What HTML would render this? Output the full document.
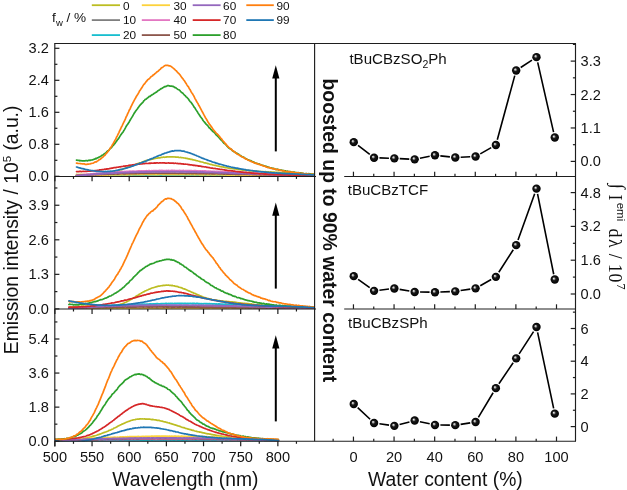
<!DOCTYPE html>
<html><head><meta charset="utf-8"><style>
html,body{margin:0;padding:0;background:#fff;width:627px;height:490px;overflow:hidden}
svg{display:block;will-change:transform}
text{fill:#111}
</style></head><body>
<svg width="627" height="490" viewBox="0 0 627 490">
<defs><radialGradient id="ball" cx="0.5" cy="0.5" r="0.5" fx="0.36" fy="0.36"><stop offset="0" stop-color="#f4f4f4"/><stop offset="0.16" stop-color="#b8b8b8"/><stop offset="0.42" stop-color="#1a1a1a"/><stop offset="1" stop-color="#000"/></radialGradient><clipPath id="cl1"><rect x="55" y="43" width="259.6" height="133.6"/></clipPath><clipPath id="cl2"><rect x="55" y="176" width="259.6" height="133"/></clipPath><clipPath id="cl3"><rect x="55" y="308" width="259.6" height="133.4"/></clipPath></defs>
<rect width="627" height="490" fill="#fff"/>
<g clip-path="url(#cl1)">
<path d="M76.5,174.48 77.3,174.59 78.1,174.54 78.9,174.62 79.7,174.64 80.5,174.47 81.3,174.46 82.1,174.7 82.9,174.53 83.7,174.51 84.5,174.73 85.3,174.57 86.1,174.66 86.9,174.54 87.7,174.57 88.5,174.4 89.3,174.51 90.1,174.55 90.9,174.42 91.7,174.44 92.5,174.38 93.3,174.16 94.1,174.32 94.9,174.21 95.7,174.07 96.5,173.93 97.3,174.11 98.1,173.92 98.9,173.92 99.7,173.89 100.5,173.76 101.3,173.73 102.1,173.48 102.9,173.5 103.7,173.29 104.5,173.33 105.3,173.19 106.1,172.84 106.9,172.73 107.7,172.62 108.5,172.7 109.3,172.4 110.1,172.31 110.9,172.06 111.7,171.96 112.5,171.75 113.3,171.56 114.1,171.45 114.9,171.26 115.7,171.17 116.5,170.9 117.3,170.76 118.1,170.52 118.9,170.34 119.7,170.02 120.5,169.63 121.3,169.59 122.1,169.38 122.9,169.1 123.7,168.74 124.5,168.52 125.3,168.1 126.1,168.01 126.9,167.66 127.7,167.29 128.5,166.93 129.3,166.88 130.1,166.63 130.9,166.06 131.7,165.98 132.5,165.57 133.3,165.19 134.1,164.93 134.9,164.77 135.7,164.51 136.5,163.96 137.3,163.83 138.1,163.37 138.9,163.28 139.7,162.87 140.5,162.75 141.3,162.5 142.1,162.08 142.9,161.95 143.7,161.47 144.5,161.14 145.3,161.04 146.1,160.62 146.9,160.43 147.7,160.25 148.5,160.09 149.3,159.73 150.1,159.48 150.9,159.53 151.7,159.16 152.5,159.17 153.3,158.97 154.1,158.64 154.9,158.5 155.7,158.36 156.5,158.25 157.3,158.09 158.1,157.95 158.9,157.84 159.7,157.82 160.5,157.58 161.3,157.46 162.1,157.45 162.9,157.22 163.7,157.16 164.5,157.3 165.3,157.1 166.1,157.06 166.9,156.85 167.7,156.93 168.5,156.96 169.3,156.77 170.1,156.93 170.9,156.93 171.7,156.77 172.5,156.95 173.3,156.92 174.1,157.01 174.9,156.95 175.7,157.1 176.5,157.17 177.3,157.01 178.1,157.09 178.9,157.36 179.7,157.53 180.5,157.41 181.3,157.57 182.1,157.72 182.9,157.76 183.7,157.9 184.5,158.01 185.3,158.17 186.1,158.38 186.9,158.44 187.7,158.62 188.5,158.9 189.3,158.84 190.1,159.17 190.9,159.4 191.7,159.45 192.5,159.61 193.3,159.97 194.1,159.99 194.9,160.17 195.7,160.44 196.5,160.72 197.3,160.74 198.1,161.01 198.9,161.22 199.7,161.58 200.5,161.67 201.3,162.01 202.1,162.01 202.9,162.27 203.7,162.58 204.5,162.86 205.3,162.94 206.1,163.09 206.9,163.26 207.7,163.59 208.5,163.7 209.3,164.09 210.1,164.3 210.9,164.31 211.7,164.54 212.5,164.89 213.3,165.03 214.1,165.27 214.9,165.32 215.7,165.44 216.5,165.67 217.3,165.99 218.1,166.01 218.9,166.2 219.7,166.39 220.5,166.55 221.3,166.7 222.1,167.01 222.9,166.94 223.7,167.04 224.5,167.47 225.3,167.6 226.1,167.77 226.9,167.74 227.7,168.03 228.5,168.16 229.3,168.07 230.1,168.36 230.9,168.51 231.7,168.58 232.5,168.65 233.3,168.7 234.1,168.83 234.9,168.91 235.7,168.97 236.5,169.23 237.3,169.24 238.1,169.5 238.9,169.37 239.7,169.73 240.5,169.76 241.3,169.92 242.1,170 242.9,170.09 243.7,170.08 244.5,170 245.3,170.3 246.1,170.21 246.9,170.33 247.7,170.51 248.5,170.54 249.3,170.58 250.1,170.81 250.9,170.79 251.7,170.77 252.5,170.81 253.3,171.06 254.1,171.01 254.9,171.16 255.7,171.1 256.5,171.11 257.3,171.27 258.1,171.41 258.9,171.27 259.7,171.51 260.5,171.61 261.3,171.62 262.1,171.68 262.9,171.48 263.7,171.72 264.5,171.84 265.3,171.64 266.1,171.76 266.9,171.8 267.7,171.92 268.5,171.94 269.3,171.99 270.1,172.13 270.9,171.94 271.7,172 272.5,172.06 273.3,172.1 274.1,172.12 274.9,172.43 275.7,172.44 276.5,172.24 277.3,172.41 278.1,172.39 278.9,172.43 279.7,172.48 280.5,172.6 281.3,172.62 282.1,172.59 282.9,172.58 283.7,172.66 284.5,172.64 285.3,172.81 286.1,172.89 286.9,172.83 287.7,172.78 288.5,172.85 289.3,172.95 290.1,173.06 290.9,173.15 291.7,173.07 292.5,173.24 293.3,173.23 294.1,173.21 294.9,173.24 295.7,173.32 296.5,173.42 297.3,173.38 298.1,173.51 298.9,173.49 299.7,173.47 300.5,173.61 301.3,173.71 302.1,173.57 302.9,173.73 303.7,173.78 304.5,173.97 305.3,174.04 306.1,173.93 306.9,174.15 307.7,174.17 308.5,174.08 309.3,174.2 310.1,174.16 310.9,174.43 311.7,174.45 312.5,174.59 313.3,174.63 314,174.65" fill="none" stroke="#bcbd22" stroke-width="1.7" stroke-linejoin="round" stroke-linecap="round"/>
<path d="M76.5,175.65 77.3,175.59 78.1,175.46 78.9,175.6 79.7,175.43 80.5,175.47 81.3,175.66 82.1,175.44 82.9,175.45 83.7,175.46 84.5,175.69 85.3,175.48 86.1,175.43 86.9,175.68 87.7,175.46 88.5,175.68 89.3,175.63 90.1,175.68 90.9,175.71 91.7,175.6 92.5,175.67 93.3,175.44 94.1,175.66 94.9,175.58 95.7,175.64 96.5,175.46 97.3,175.65 98.1,175.71 98.9,175.45 99.7,175.53 100.5,175.6 101.3,175.68 102.1,175.5 102.9,175.49 103.7,175.51 104.5,175.62 105.3,175.66 106.1,175.55 106.9,175.54 107.7,175.55 108.5,175.54 109.3,175.56 110.1,175.46 110.9,175.58 111.7,175.73 112.5,175.56 113.3,175.66 114.1,175.48 114.9,175.64 115.7,175.66 116.5,175.64 117.3,175.59 118.1,175.58 118.9,175.63 119.7,175.7 120.5,175.48 121.3,175.46 122.1,175.66 122.9,175.71 123.7,175.59 124.5,175.57 125.3,175.65 126.1,175.49 126.9,175.52 127.7,175.5 128.5,175.61 129.3,175.53 130.1,175.51 130.9,175.64 131.7,175.72 132.5,175.53 133.3,175.65 134.1,175.56 134.9,175.69 135.7,175.61 136.5,175.52 137.3,175.5 138.1,175.45 138.9,175.58 139.7,175.55 140.5,175.49 141.3,175.55 142.1,175.54 142.9,175.67 143.7,175.48 144.5,175.74 145.3,175.58 146.1,175.62 146.9,175.58 147.7,175.69 148.5,175.69 149.3,175.61 150.1,175.59 150.9,175.66 151.7,175.7 152.5,175.56 153.3,175.66 154.1,175.73 154.9,175.58 155.7,175.51 156.5,175.51 157.3,175.66 158.1,175.65 158.9,175.73 159.7,175.7 160.5,175.52 161.3,175.5 162.1,175.52 162.9,175.5 163.7,175.66 164.5,175.7 165.3,175.71 166.1,175.52 166.9,175.7 167.7,175.54 168.5,175.57 169.3,175.66 170.1,175.47 170.9,175.47 171.7,175.7 172.5,175.53 173.3,175.55 174.1,175.62 174.9,175.65 175.7,175.45 176.5,175.55 177.3,175.58 178.1,175.59 178.9,175.51 179.7,175.62 180.5,175.73 181.3,175.57 182.1,175.61 182.9,175.48 183.7,175.53 184.5,175.65 185.3,175.48 186.1,175.72 186.9,175.72 187.7,175.48 188.5,175.73 189.3,175.56 190.1,175.68 190.9,175.68 191.7,175.54 192.5,175.65 193.3,175.65 194.1,175.69 194.9,175.53 195.7,175.68 196.5,175.74 197.3,175.65 198.1,175.61 198.9,175.49 199.7,175.6 200.5,175.56 201.3,175.67 202.1,175.66 202.9,175.62 203.7,175.51 204.5,175.65 205.3,175.64 206.1,175.51 206.9,175.72 207.7,175.65 208.5,175.49 209.3,175.73 210.1,175.5 210.9,175.55 211.7,175.67 212.5,175.63 213.3,175.62 214.1,175.65 214.9,175.59 215.7,175.55 216.5,175.51 217.3,175.48 218.1,175.67 218.9,175.68 219.7,175.62 220.5,175.68 221.3,175.56 222.1,175.54 222.9,175.57 223.7,175.72 224.5,175.47 225.3,175.61 226.1,175.53 226.9,175.69 227.7,175.56 228.5,175.56 229.3,175.58 230.1,175.62 230.9,175.69 231.7,175.56 232.5,175.71 233.3,175.49 234.1,175.54 234.9,175.49 235.7,175.49 236.5,175.69 237.3,175.68 238.1,175.52 238.9,175.52 239.7,175.59 240.5,175.68 241.3,175.71 242.1,175.69 242.9,175.64 243.7,175.51 244.5,175.58 245.3,175.52 246.1,175.62 246.9,175.63 247.7,175.52 248.5,175.54 249.3,175.7 250.1,175.47 250.9,175.7 251.7,175.73 252.5,175.75 253.3,175.58 254.1,175.63 254.9,175.64 255.7,175.65 256.5,175.76 257.3,175.67 258.1,175.55 258.9,175.72 259.7,175.61 260.5,175.65 261.3,175.68 262.1,175.47 262.9,175.7 263.7,175.66 264.5,175.61 265.3,175.62 266.1,175.6 266.9,175.52 267.7,175.63 268.5,175.48 269.3,175.62 270.1,175.66 270.9,175.6 271.7,175.64 272.5,175.76 273.3,175.74 274.1,175.51 274.9,175.71 275.7,175.66 276.5,175.48 277.3,175.58 278.1,175.54 278.9,175.49 279.7,175.63 280.5,175.75 281.3,175.57 282.1,175.73 282.9,175.68 283.7,175.51 284.5,175.73 285.3,175.65 286.1,175.75 286.9,175.69 287.7,175.69 288.5,175.57 289.3,175.71 290.1,175.75 290.9,175.73 291.7,175.6 292.5,175.7 293.3,175.62 294.1,175.51 294.9,175.49 295.7,175.5 296.5,175.53 297.3,175.52 298.1,175.62 298.9,175.68 299.7,175.63 300.5,175.6 301.3,175.67 302.1,175.57 302.9,175.61 303.7,175.7 304.5,175.6 305.3,175.53 306.1,175.74 306.9,175.69 307.7,175.59 308.5,175.59 309.3,175.63 310.1,175.65 310.9,175.54 311.7,175.48 312.5,175.54 313.3,175.71 314,175.52" fill="none" stroke="#7f7f7f" stroke-width="1.9" stroke-linejoin="round" stroke-linecap="round"/>
<path d="M76.5,175.74 77.3,175.66 78.1,175.66 78.9,175.65 79.7,175.72 80.5,175.65 81.3,175.61 82.1,175.63 82.9,175.65 83.7,175.75 84.5,175.62 85.3,175.61 86.1,175.74 86.9,175.72 87.7,175.81 88.5,175.62 89.3,175.72 90.1,175.72 90.9,175.61 91.7,175.89 92.5,175.67 93.3,175.63 94.1,175.75 94.9,175.65 95.7,175.79 96.5,175.71 97.3,175.64 98.1,175.62 98.9,175.82 99.7,175.69 100.5,175.84 101.3,175.74 102.1,175.88 102.9,175.69 103.7,175.68 104.5,175.68 105.3,175.85 106.1,175.79 106.9,175.71 107.7,175.63 108.5,175.81 109.3,175.9 110.1,175.78 110.9,175.61 111.7,175.61 112.5,175.63 113.3,175.66 114.1,175.62 114.9,175.62 115.7,175.8 116.5,175.88 117.3,175.67 118.1,175.9 118.9,175.75 119.7,175.85 120.5,175.88 121.3,175.89 122.1,175.62 122.9,175.7 123.7,175.79 124.5,175.89 125.3,175.63 126.1,175.7 126.9,175.86 127.7,175.64 128.5,175.72 129.3,175.71 130.1,175.81 130.9,175.89 131.7,175.66 132.5,175.83 133.3,175.83 134.1,175.86 134.9,175.77 135.7,175.89 136.5,175.72 137.3,175.73 138.1,175.68 138.9,175.84 139.7,175.75 140.5,175.69 141.3,175.66 142.1,175.83 142.9,175.79 143.7,175.82 144.5,175.73 145.3,175.76 146.1,175.66 146.9,175.82 147.7,175.62 148.5,175.75 149.3,175.84 150.1,175.81 150.9,175.64 151.7,175.68 152.5,175.86 153.3,175.8 154.1,175.88 154.9,175.87 155.7,175.75 156.5,175.88 157.3,175.83 158.1,175.71 158.9,175.72 159.7,175.63 160.5,175.73 161.3,175.9 162.1,175.64 162.9,175.78 163.7,175.65 164.5,175.64 165.3,175.81 166.1,175.69 166.9,175.63 167.7,175.66 168.5,175.81 169.3,175.79 170.1,175.62 170.9,175.68 171.7,175.9 172.5,175.68 173.3,175.78 174.1,175.74 174.9,175.85 175.7,175.8 176.5,175.85 177.3,175.78 178.1,175.67 178.9,175.67 179.7,175.64 180.5,175.86 181.3,175.65 182.1,175.62 182.9,175.91 183.7,175.68 184.5,175.88 185.3,175.64 186.1,175.76 186.9,175.68 187.7,175.87 188.5,175.8 189.3,175.81 190.1,175.85 190.9,175.88 191.7,175.72 192.5,175.8 193.3,175.75 194.1,175.65 194.9,175.87 195.7,175.8 196.5,175.86 197.3,175.68 198.1,175.78 198.9,175.76 199.7,175.84 200.5,175.64 201.3,175.72 202.1,175.76 202.9,175.64 203.7,175.78 204.5,175.84 205.3,175.75 206.1,175.81 206.9,175.8 207.7,175.68 208.5,175.72 209.3,175.92 210.1,175.72 210.9,175.75 211.7,175.65 212.5,175.69 213.3,175.67 214.1,175.9 214.9,175.84 215.7,175.88 216.5,175.92 217.3,175.8 218.1,175.9 218.9,175.78 219.7,175.75 220.5,175.91 221.3,175.89 222.1,175.91 222.9,175.77 223.7,175.85 224.5,175.74 225.3,175.92 226.1,175.9 226.9,175.71 227.7,175.9 228.5,175.68 229.3,175.65 230.1,175.84 230.9,175.71 231.7,175.78 232.5,175.81 233.3,175.64 234.1,175.85 234.9,175.71 235.7,175.75 236.5,175.73 237.3,175.85 238.1,175.85 238.9,175.71 239.7,175.65 240.5,175.71 241.3,175.75 242.1,175.65 242.9,175.67 243.7,175.85 244.5,175.83 245.3,175.92 246.1,175.92 246.9,175.89 247.7,175.74 248.5,175.67 249.3,175.72 250.1,175.76 250.9,175.78 251.7,175.79 252.5,175.73 253.3,175.88 254.1,175.71 254.9,175.76 255.7,175.89 256.5,175.87 257.3,175.72 258.1,175.7 258.9,175.87 259.7,175.63 260.5,175.67 261.3,175.79 262.1,175.79 262.9,175.68 263.7,175.64 264.5,175.69 265.3,175.86 266.1,175.77 266.9,175.92 267.7,175.86 268.5,175.92 269.3,175.64 270.1,175.68 270.9,175.63 271.7,175.76 272.5,175.73 273.3,175.64 274.1,175.79 274.9,175.66 275.7,175.72 276.5,175.7 277.3,175.87 278.1,175.75 278.9,175.71 279.7,175.64 280.5,175.76 281.3,175.82 282.1,175.83 282.9,175.9 283.7,175.87 284.5,175.7 285.3,175.67 286.1,175.86 286.9,175.87 287.7,175.78 288.5,175.88 289.3,175.8 290.1,175.71 290.9,175.68 291.7,175.64 292.5,175.82 293.3,175.9 294.1,175.9 294.9,175.77 295.7,175.83 296.5,175.91 297.3,175.88 298.1,175.81 298.9,175.76 299.7,175.79 300.5,175.68 301.3,175.69 302.1,175.84 302.9,175.93 303.7,175.8 304.5,175.76 305.3,175.74 306.1,175.77 306.9,175.87 307.7,175.77 308.5,175.92 309.3,175.68 310.1,175.73 310.9,175.79 311.7,175.76 312.5,175.89 313.3,175.88 314,175.91" fill="none" stroke="#17becf" stroke-width="1.9" stroke-linejoin="round" stroke-linecap="round"/>
<path d="M76.5,175.75 77.3,175.55 78.1,175.68 78.9,175.65 79.7,175.61 80.5,175.52 81.3,175.62 82.1,175.66 82.9,175.39 83.7,175.54 84.5,175.43 85.3,175.45 86.1,175.54 86.9,175.53 87.7,175.42 88.5,175.26 89.3,175.46 90.1,175.21 90.9,175.25 91.7,175.37 92.5,175.19 93.3,175.16 94.1,175.34 94.9,175.32 95.7,175.11 96.5,175.12 97.3,175.07 98.1,175 98.9,175.02 99.7,175.22 100.5,174.93 101.3,174.96 102.1,174.93 102.9,174.88 103.7,175 104.5,175.05 105.3,175.06 106.1,174.98 106.9,175.02 107.7,174.77 108.5,174.83 109.3,175.02 110.1,174.74 110.9,174.79 111.7,174.84 112.5,174.76 113.3,174.83 114.1,174.67 114.9,174.71 115.7,174.92 116.5,174.66 117.3,174.88 118.1,174.65 118.9,174.88 119.7,174.77 120.5,174.75 121.3,174.59 122.1,174.55 122.9,174.76 123.7,174.57 124.5,174.56 125.3,174.75 126.1,174.75 126.9,174.49 127.7,174.76 128.5,174.62 129.3,174.57 130.1,174.48 130.9,174.56 131.7,174.73 132.5,174.51 133.3,174.46 134.1,174.45 134.9,174.44 135.7,174.5 136.5,174.66 137.3,174.41 138.1,174.44 138.9,174.65 139.7,174.67 140.5,174.66 141.3,174.43 142.1,174.46 142.9,174.63 143.7,174.49 144.5,174.55 145.3,174.43 146.1,174.34 146.9,174.43 147.7,174.55 148.5,174.56 149.3,174.49 150.1,174.45 150.9,174.47 151.7,174.44 152.5,174.47 153.3,174.56 154.1,174.36 154.9,174.48 155.7,174.58 156.5,174.55 157.3,174.35 158.1,174.59 158.9,174.55 159.7,174.35 160.5,174.37 161.3,174.36 162.1,174.31 162.9,174.59 163.7,174.42 164.5,174.56 165.3,174.33 166.1,174.3 166.9,174.56 167.7,174.54 168.5,174.6 169.3,174.51 170.1,174.46 170.9,174.53 171.7,174.33 172.5,174.47 173.3,174.44 174.1,174.36 174.9,174.49 175.7,174.41 176.5,174.47 177.3,174.43 178.1,174.42 178.9,174.44 179.7,174.51 180.5,174.63 181.3,174.62 182.1,174.6 182.9,174.6 183.7,174.43 184.5,174.65 185.3,174.44 186.1,174.4 186.9,174.52 187.7,174.59 188.5,174.48 189.3,174.57 190.1,174.47 190.9,174.68 191.7,174.53 192.5,174.54 193.3,174.56 194.1,174.67 194.9,174.71 195.7,174.58 196.5,174.56 197.3,174.62 198.1,174.46 198.9,174.57 199.7,174.7 200.5,174.69 201.3,174.48 202.1,174.72 202.9,174.59 203.7,174.78 204.5,174.6 205.3,174.56 206.1,174.67 206.9,174.77 207.7,174.64 208.5,174.78 209.3,174.74 210.1,174.64 210.9,174.63 211.7,174.7 212.5,174.68 213.3,174.68 214.1,174.77 214.9,174.84 215.7,174.76 216.5,174.64 217.3,174.67 218.1,174.72 218.9,174.8 219.7,174.67 220.5,174.66 221.3,174.74 222.1,174.74 222.9,174.67 223.7,174.83 224.5,174.95 225.3,174.85 226.1,174.91 226.9,174.95 227.7,174.96 228.5,174.99 229.3,174.86 230.1,174.94 230.9,174.78 231.7,175.02 232.5,174.88 233.3,174.91 234.1,175.05 234.9,174.87 235.7,174.85 236.5,175.05 237.3,174.99 238.1,174.85 238.9,174.84 239.7,174.95 240.5,174.85 241.3,175.11 242.1,174.92 242.9,174.96 243.7,175 244.5,175.05 245.3,175.03 246.1,175.1 246.9,175.12 247.7,175.06 248.5,174.97 249.3,175.24 250.1,175.17 250.9,174.99 251.7,175.11 252.5,175.21 253.3,175.29 254.1,175.03 254.9,175.02 255.7,175.17 256.5,175.16 257.3,175.31 258.1,175.3 258.9,175.16 259.7,175.19 260.5,175.25 261.3,175.35 262.1,175.16 262.9,175.22 263.7,175.14 264.5,175.31 265.3,175.14 266.1,175.42 266.9,175.31 267.7,175.33 268.5,175.19 269.3,175.24 270.1,175.32 270.9,175.45 271.7,175.36 272.5,175.29 273.3,175.51 274.1,175.42 274.9,175.39 275.7,175.3 276.5,175.34 277.3,175.53 278.1,175.31 278.9,175.44 279.7,175.47 280.5,175.4 281.3,175.53 282.1,175.58 282.9,175.57 283.7,175.55 284.5,175.39 285.3,175.36 286.1,175.48 286.9,175.45 287.7,175.42 288.5,175.63 289.3,175.44 290.1,175.63 290.9,175.67 291.7,175.43 292.5,175.68 293.3,175.53 294.1,175.48 294.9,175.48 295.7,175.44 296.5,175.59 297.3,175.56 298.1,175.71 298.9,175.71 299.7,175.48 300.5,175.59 301.3,175.59 302.1,175.54 302.9,175.56 303.7,175.57 304.5,175.71 305.3,175.61 306.1,175.54 306.9,175.58 307.7,175.65 308.5,175.7 309.3,175.61 310.1,175.75 310.9,175.61 311.7,175.75 312.5,175.73 313.3,175.61 314,175.79" fill="none" stroke="#fdd23b" stroke-width="1.9" stroke-linejoin="round" stroke-linecap="round"/>
<path d="M76.5,175.4 77.3,175.35 78.1,175.28 78.9,175.21 79.7,175.07 80.5,174.87 81.3,175 82.1,174.94 82.9,174.75 83.7,174.7 84.5,174.53 85.3,174.64 86.1,174.5 86.9,174.28 87.7,174.38 88.5,174.36 89.3,174.09 90.1,174.21 90.9,173.99 91.7,173.83 92.5,173.92 93.3,173.73 94.1,173.78 94.9,173.67 95.7,173.46 96.5,173.52 97.3,173.55 98.1,173.37 98.9,173.33 99.7,173.36 100.5,173.17 101.3,173.12 102.1,173.09 102.9,173.1 103.7,172.85 104.5,172.76 105.3,172.91 106.1,172.79 106.9,172.65 107.7,172.78 108.5,172.72 109.3,172.56 110.1,172.64 110.9,172.54 111.7,172.47 112.5,172.28 113.3,172.14 114.1,172.3 114.9,172.26 115.7,172.1 116.5,172.09 117.3,172.07 118.1,171.93 118.9,172.02 119.7,171.94 120.5,171.84 121.3,171.71 122.1,171.81 122.9,171.69 123.7,171.78 124.5,171.57 125.3,171.6 126.1,171.5 126.9,171.53 127.7,171.54 128.5,171.36 129.3,171.31 130.1,171.41 130.9,171.29 131.7,171.35 132.5,171.21 133.3,171.16 134.1,171.26 134.9,171.35 135.7,171.3 136.5,171.17 137.3,171.11 138.1,170.98 138.9,171.02 139.7,171 140.5,171.16 141.3,170.89 142.1,171.12 142.9,170.95 143.7,170.92 144.5,170.85 145.3,171.04 146.1,170.78 146.9,170.88 147.7,170.84 148.5,170.73 149.3,170.72 150.1,170.93 150.9,170.86 151.7,170.82 152.5,170.86 153.3,170.61 154.1,170.77 154.9,170.77 155.7,170.61 156.5,170.66 157.3,170.81 158.1,170.6 158.9,170.72 159.7,170.54 160.5,170.68 161.3,170.55 162.1,170.62 162.9,170.57 163.7,170.71 164.5,170.67 165.3,170.6 166.1,170.65 166.9,170.57 167.7,170.68 168.5,170.51 169.3,170.6 170.1,170.61 170.9,170.55 171.7,170.45 172.5,170.49 173.3,170.63 174.1,170.5 174.9,170.67 175.7,170.6 176.5,170.74 177.3,170.71 178.1,170.68 178.9,170.58 179.7,170.49 180.5,170.65 181.3,170.72 182.1,170.78 182.9,170.57 183.7,170.57 184.5,170.83 185.3,170.77 186.1,170.7 186.9,170.79 187.7,170.63 188.5,170.76 189.3,170.81 190.1,170.8 190.9,170.69 191.7,170.7 192.5,170.86 193.3,170.95 194.1,170.75 194.9,170.73 195.7,170.77 196.5,171 197.3,170.9 198.1,170.94 198.9,171.12 199.7,171.03 200.5,170.94 201.3,171.1 202.1,170.91 202.9,171.02 203.7,171.17 204.5,171.03 205.3,171.02 206.1,171.19 206.9,171.15 207.7,171.37 208.5,171.14 209.3,171.38 210.1,171.28 210.9,171.43 211.7,171.35 212.5,171.45 213.3,171.37 214.1,171.37 214.9,171.47 215.7,171.6 216.5,171.5 217.3,171.49 218.1,171.58 218.9,171.51 219.7,171.61 220.5,171.72 221.3,171.74 222.1,171.79 222.9,171.73 223.7,171.68 224.5,171.72 225.3,171.85 226.1,171.84 226.9,171.98 227.7,171.92 228.5,172.11 229.3,172.09 230.1,172.15 230.9,172.2 231.7,172.18 232.5,172.18 233.3,172.18 234.1,172.14 234.9,172.4 235.7,172.35 236.5,172.26 237.3,172.55 238.1,172.48 238.9,172.53 239.7,172.51 240.5,172.45 241.3,172.75 242.1,172.54 242.9,172.64 243.7,172.87 244.5,172.64 245.3,172.79 246.1,172.82 246.9,172.79 247.7,173.03 248.5,172.92 249.3,172.83 250.1,173.01 250.9,172.91 251.7,173.15 252.5,173.24 253.3,173.29 254.1,173.07 254.9,173.3 255.7,173.22 256.5,173.31 257.3,173.3 258.1,173.34 258.9,173.32 259.7,173.51 260.5,173.38 261.3,173.68 262.1,173.45 262.9,173.76 263.7,173.57 264.5,173.57 265.3,173.81 266.1,173.78 266.9,173.89 267.7,173.85 268.5,173.92 269.3,173.79 270.1,174 270.9,173.99 271.7,174.16 272.5,173.91 273.3,173.97 274.1,174.18 274.9,174.29 275.7,174.18 276.5,174.3 277.3,174.29 278.1,174.27 278.9,174.33 279.7,174.4 280.5,174.27 281.3,174.38 282.1,174.54 282.9,174.43 283.7,174.53 284.5,174.5 285.3,174.56 286.1,174.68 286.9,174.74 287.7,174.83 288.5,174.72 289.3,174.67 290.1,174.74 290.9,174.69 291.7,174.77 292.5,174.9 293.3,174.94 294.1,174.86 294.9,174.87 295.7,174.87 296.5,174.92 297.3,175.05 298.1,175 298.9,175.21 299.7,175.14 300.5,175.1 301.3,175.15 302.1,175.06 302.9,175.29 303.7,175.32 304.5,175.23 305.3,175.36 306.1,175.24 306.9,175.25 307.7,175.27 308.5,175.28 309.3,175.43 310.1,175.46 310.9,175.5 311.7,175.33 312.5,175.55 313.3,175.48 314,175.46" fill="none" stroke="#e377c2" stroke-width="1.9" stroke-linejoin="round" stroke-linecap="round"/>
<path d="M76.5,175.62 77.3,175.55 78.1,175.44 78.9,175.45 79.7,175.48 80.5,175.45 81.3,175.46 82.1,175.2 82.9,175.37 83.7,175.3 84.5,175.23 85.3,175.26 86.1,174.97 86.9,175.12 87.7,175.12 88.5,174.84 89.3,174.94 90.1,175.01 90.9,174.77 91.7,174.91 92.5,174.88 93.3,174.7 94.1,174.58 94.9,174.57 95.7,174.71 96.5,174.56 97.3,174.49 98.1,174.49 98.9,174.61 99.7,174.37 100.5,174.27 101.3,174.51 102.1,174.29 102.9,174.28 103.7,174.43 104.5,174.19 105.3,174.1 106.1,174.31 106.9,174.09 107.7,174.06 108.5,174.24 109.3,174.01 110.1,174.18 110.9,173.98 111.7,173.95 112.5,173.9 113.3,173.97 114.1,173.95 114.9,173.88 115.7,173.89 116.5,173.8 117.3,173.94 118.1,173.95 118.9,173.87 119.7,173.87 120.5,173.63 121.3,173.66 122.1,173.63 122.9,173.59 123.7,173.82 124.5,173.78 125.3,173.77 126.1,173.64 126.9,173.49 127.7,173.57 128.5,173.44 129.3,173.68 130.1,173.47 130.9,173.46 131.7,173.65 132.5,173.41 133.3,173.61 134.1,173.42 134.9,173.51 135.7,173.33 136.5,173.55 137.3,173.39 138.1,173.36 138.9,173.45 139.7,173.42 140.5,173.3 141.3,173.26 142.1,173.38 142.9,173.21 143.7,173.45 144.5,173.29 145.3,173.23 146.1,173.27 146.9,173.19 147.7,173.25 148.5,173.31 149.3,173.26 150.1,173.23 150.9,173.22 151.7,173.27 152.5,173.35 153.3,173.25 154.1,173.34 154.9,173.25 155.7,173.14 156.5,173.15 157.3,173.35 158.1,173.24 158.9,173.21 159.7,173.24 160.5,173.34 161.3,173.2 162.1,173.19 162.9,173.2 163.7,173.09 164.5,173.25 165.3,173.23 166.1,173.23 166.9,173.22 167.7,173.23 168.5,173.3 169.3,173.15 170.1,173.39 170.9,173.13 171.7,173.36 172.5,173.15 173.3,173.34 174.1,173.19 174.9,173.13 175.7,173.28 176.5,173.37 177.3,173.38 178.1,173.39 178.9,173.43 179.7,173.15 180.5,173.26 181.3,173.18 182.1,173.38 182.9,173.3 183.7,173.39 184.5,173.41 185.3,173.48 186.1,173.39 186.9,173.46 187.7,173.37 188.5,173.24 189.3,173.49 190.1,173.25 190.9,173.26 191.7,173.49 192.5,173.34 193.3,173.46 194.1,173.28 194.9,173.34 195.7,173.51 196.5,173.31 197.3,173.46 198.1,173.6 198.9,173.4 199.7,173.55 200.5,173.58 201.3,173.55 202.1,173.6 202.9,173.6 203.7,173.4 204.5,173.47 205.3,173.58 206.1,173.72 206.9,173.51 207.7,173.63 208.5,173.51 209.3,173.74 210.1,173.63 210.9,173.67 211.7,173.72 212.5,173.58 213.3,173.77 214.1,173.8 214.9,173.83 215.7,173.67 216.5,173.67 217.3,173.67 218.1,173.9 218.9,173.78 219.7,173.78 220.5,173.83 221.3,173.9 222.1,173.8 222.9,173.82 223.7,173.96 224.5,173.98 225.3,173.85 226.1,173.8 226.9,174.07 227.7,174.03 228.5,174 229.3,173.96 230.1,174.15 230.9,174 231.7,173.95 232.5,173.94 233.3,174.03 234.1,174.12 234.9,174.06 235.7,174.25 236.5,174.18 237.3,174.14 238.1,174.22 238.9,174.22 239.7,174.24 240.5,174.22 241.3,174.24 242.1,174.25 242.9,174.37 243.7,174.19 244.5,174.39 245.3,174.26 246.1,174.44 246.9,174.23 247.7,174.37 248.5,174.37 249.3,174.47 250.1,174.33 250.9,174.37 251.7,174.35 252.5,174.49 253.3,174.51 254.1,174.36 254.9,174.43 255.7,174.45 256.5,174.7 257.3,174.56 258.1,174.61 258.9,174.55 259.7,174.68 260.5,174.74 261.3,174.71 262.1,174.53 262.9,174.68 263.7,174.71 264.5,174.59 265.3,174.83 266.1,174.71 266.9,174.72 267.7,174.83 268.5,174.84 269.3,174.83 270.1,174.95 270.9,174.87 271.7,174.83 272.5,174.77 273.3,174.93 274.1,174.89 274.9,174.96 275.7,174.92 276.5,174.83 277.3,174.86 278.1,174.91 278.9,174.9 279.7,175.15 280.5,175.08 281.3,175 282.1,175.15 282.9,175.15 283.7,174.99 284.5,175.21 285.3,175.07 286.1,175.32 286.9,175.07 287.7,175.13 288.5,175.14 289.3,175.34 290.1,175.34 290.9,175.28 291.7,175.17 292.5,175.26 293.3,175.36 294.1,175.18 294.9,175.45 295.7,175.44 296.5,175.48 297.3,175.43 298.1,175.42 298.9,175.54 299.7,175.34 300.5,175.36 301.3,175.32 302.1,175.35 302.9,175.55 303.7,175.35 304.5,175.56 305.3,175.46 306.1,175.62 306.9,175.6 307.7,175.59 308.5,175.65 309.3,175.42 310.1,175.49 310.9,175.54 311.7,175.56 312.5,175.65 313.3,175.72 314,175.69" fill="none" stroke="#8c564b" stroke-width="1.9" stroke-linejoin="round" stroke-linecap="round"/>
<path d="M76.5,175.96 77.3,175.81 78.1,175.63 78.9,175.6 79.7,175.6 80.5,175.54 81.3,175.33 82.1,175.25 82.9,175.26 83.7,175.07 84.5,175.19 85.3,174.86 86.1,174.98 86.9,174.87 87.7,174.71 88.5,174.76 89.3,174.66 90.1,174.74 90.9,174.65 91.7,174.5 92.5,174.52 93.3,174.47 94.1,174.19 94.9,174.33 95.7,174.27 96.5,174.26 97.3,174.13 98.1,173.96 98.9,173.85 99.7,173.93 100.5,173.74 101.3,173.85 102.1,173.74 102.9,173.77 103.7,173.57 104.5,173.51 105.3,173.64 106.1,173.52 106.9,173.38 107.7,173.39 108.5,173.31 109.3,173.32 110.1,173.24 110.9,173.12 111.7,173.29 112.5,173.22 113.3,173.14 114.1,172.95 114.9,172.89 115.7,173.01 116.5,172.99 117.3,172.9 118.1,172.74 118.9,172.85 119.7,172.75 120.5,172.67 121.3,172.7 122.1,172.63 122.9,172.65 123.7,172.65 124.5,172.69 125.3,172.4 126.1,172.5 126.9,172.58 127.7,172.47 128.5,172.42 129.3,172.47 130.1,172.2 130.9,172.4 131.7,172.32 132.5,172.28 133.3,172.18 134.1,172.25 134.9,172.07 135.7,172.17 136.5,172.07 137.3,172.25 138.1,172.19 138.9,172.07 139.7,172.14 140.5,172.01 141.3,172.03 142.1,171.9 142.9,172.09 143.7,172.05 144.5,172.03 145.3,171.81 146.1,172.02 146.9,171.76 147.7,171.92 148.5,171.88 149.3,171.74 150.1,171.84 150.9,171.96 151.7,171.87 152.5,171.77 153.3,171.91 154.1,171.77 154.9,171.92 155.7,171.76 156.5,171.66 157.3,171.92 158.1,171.64 158.9,171.69 159.7,171.84 160.5,171.64 161.3,171.77 162.1,171.86 162.9,171.77 163.7,171.7 164.5,171.82 165.3,171.84 166.1,171.76 166.9,171.78 167.7,171.69 168.5,171.71 169.3,171.89 170.1,171.89 170.9,171.6 171.7,171.66 172.5,171.67 173.3,171.84 174.1,171.67 174.9,171.67 175.7,171.85 176.5,171.68 177.3,171.92 178.1,171.77 178.9,171.91 179.7,171.9 180.5,171.72 181.3,171.9 182.1,171.8 182.9,171.75 183.7,171.71 184.5,171.92 185.3,171.88 186.1,171.82 186.9,171.99 187.7,171.81 188.5,171.89 189.3,171.8 190.1,171.89 190.9,172.06 191.7,171.96 192.5,171.87 193.3,171.91 194.1,172.05 194.9,171.95 195.7,172.15 196.5,171.92 197.3,172.18 198.1,172.12 198.9,172.2 199.7,172.08 200.5,172.01 201.3,172.06 202.1,172.21 202.9,172.05 203.7,172.09 204.5,172.32 205.3,172.36 206.1,172.38 206.9,172.39 207.7,172.33 208.5,172.44 209.3,172.41 210.1,172.39 210.9,172.37 211.7,172.28 212.5,172.32 213.3,172.39 214.1,172.47 214.9,172.39 215.7,172.67 216.5,172.58 217.3,172.65 218.1,172.72 218.9,172.54 219.7,172.77 220.5,172.81 221.3,172.63 222.1,172.61 222.9,172.84 223.7,172.89 224.5,172.89 225.3,172.8 226.1,172.88 226.9,172.76 227.7,172.83 228.5,172.91 229.3,173.03 230.1,172.86 230.9,173.14 231.7,172.9 232.5,173.21 233.3,173.02 234.1,173.22 234.9,173.25 235.7,173.31 236.5,173.2 237.3,173.29 238.1,173.2 238.9,173.39 239.7,173.2 240.5,173.46 241.3,173.4 242.1,173.27 242.9,173.57 243.7,173.41 244.5,173.36 245.3,173.45 246.1,173.41 246.9,173.51 247.7,173.67 248.5,173.78 249.3,173.71 250.1,173.8 250.9,173.82 251.7,173.82 252.5,173.75 253.3,173.74 254.1,173.74 254.9,173.88 255.7,173.81 256.5,174 257.3,173.9 258.1,174.01 258.9,174.03 259.7,174.08 260.5,173.97 261.3,174.03 262.1,174.19 262.9,174.08 263.7,174.24 264.5,174.36 265.3,174.22 266.1,174.42 266.9,174.34 267.7,174.47 268.5,174.37 269.3,174.47 270.1,174.48 270.9,174.36 271.7,174.48 272.5,174.53 273.3,174.52 274.1,174.61 274.9,174.71 275.7,174.71 276.5,174.74 277.3,174.57 278.1,174.76 278.9,174.77 279.7,174.89 280.5,174.63 281.3,174.71 282.1,174.98 282.9,174.82 283.7,174.95 284.5,174.94 285.3,174.91 286.1,174.95 286.9,175.01 287.7,175.16 288.5,175.05 289.3,175.15 290.1,175.03 290.9,175.18 291.7,175.17 292.5,175.24 293.3,175.3 294.1,175.09 294.9,175.37 295.7,175.29 296.5,175.21 297.3,175.29 298.1,175.2 298.9,175.27 299.7,175.47 300.5,175.45 301.3,175.52 302.1,175.33 302.9,175.34 303.7,175.44 304.5,175.49 305.3,175.58 306.1,175.47 306.9,175.62 307.7,175.6 308.5,175.53 309.3,175.69 310.1,175.5 310.9,175.67 311.7,175.57 312.5,175.54 313.3,175.69 314,175.71" fill="none" stroke="#9467bd" stroke-width="1.9" stroke-linejoin="round" stroke-linecap="round"/>
<path d="M76.5,171.53 77.3,171.48 78.1,171.65 78.9,171.62 79.7,171.43 80.5,171.38 81.3,171.65 82.1,171.47 82.9,171.36 83.7,171.35 84.5,171.47 85.3,171.28 86.1,171.3 86.9,171.34 87.7,171.19 88.5,171.23 89.3,171.26 90.1,171.15 90.9,171.03 91.7,170.96 92.5,170.79 93.3,170.81 94.1,170.73 94.9,170.62 95.7,170.5 96.5,170.49 97.3,170.23 98.1,170.28 98.9,170.26 99.7,169.87 100.5,169.83 101.3,169.94 102.1,169.56 102.9,169.67 103.7,169.48 104.5,169.21 105.3,169.26 106.1,168.95 106.9,169.08 107.7,168.79 108.5,168.85 109.3,168.72 110.1,168.36 110.9,168.31 111.7,168.11 112.5,168.16 113.3,167.83 114.1,167.69 114.9,167.57 115.7,167.66 116.5,167.34 117.3,167.23 118.1,167.14 118.9,167.04 119.7,166.86 120.5,166.89 121.3,166.58 122.1,166.49 122.9,166.48 123.7,166.16 124.5,166.02 125.3,166.09 126.1,165.81 126.9,165.86 127.7,165.72 128.5,165.46 129.3,165.33 130.1,165.15 130.9,165.26 131.7,165.02 132.5,164.88 133.3,164.73 134.1,164.64 134.9,164.73 135.7,164.41 136.5,164.44 137.3,164.37 138.1,164.25 138.9,164.15 139.7,164.04 140.5,163.89 141.3,164 142.1,163.95 142.9,163.78 143.7,163.61 144.5,163.74 145.3,163.46 146.1,163.39 146.9,163.47 147.7,163.48 148.5,163.34 149.3,163.16 150.1,163.37 150.9,163.08 151.7,163.09 152.5,163.25 153.3,163.15 154.1,163.11 154.9,162.88 155.7,163.08 156.5,162.92 157.3,162.79 158.1,163 158.9,163.03 159.7,162.75 160.5,162.87 161.3,163 162.1,162.83 162.9,162.82 163.7,162.96 164.5,162.87 165.3,163.05 166.1,163.02 166.9,163.04 167.7,163.01 168.5,162.88 169.3,163.05 170.1,163.05 170.9,163.05 171.7,163.12 172.5,163.08 173.3,163.09 174.1,163.35 174.9,163.23 175.7,163.2 176.5,163.52 177.3,163.44 178.1,163.55 178.9,163.52 179.7,163.53 180.5,163.65 181.3,163.88 182.1,163.79 182.9,164.06 183.7,163.96 184.5,164.23 185.3,164.1 186.1,164.27 186.9,164.27 187.7,164.37 188.5,164.59 189.3,164.64 190.1,164.8 190.9,164.8 191.7,164.94 192.5,165.05 193.3,165.34 194.1,165.2 194.9,165.42 195.7,165.67 196.5,165.7 197.3,165.72 198.1,166.07 198.9,165.92 199.7,166.05 200.5,166.14 201.3,166.39 202.1,166.64 202.9,166.59 203.7,166.72 204.5,167 205.3,166.91 206.1,167.02 206.9,167.34 207.7,167.29 208.5,167.55 209.3,167.56 210.1,167.82 210.9,168.03 211.7,168.03 212.5,168.1 213.3,168.33 214.1,168.48 214.9,168.41 215.7,168.59 216.5,168.75 217.3,168.91 218.1,168.96 218.9,169.19 219.7,169.19 220.5,169.5 221.3,169.45 222.1,169.52 222.9,169.59 223.7,169.72 224.5,169.86 225.3,170.17 226.1,170.13 226.9,170.25 227.7,170.51 228.5,170.62 229.3,170.66 230.1,170.61 230.9,170.73 231.7,170.89 232.5,170.91 233.3,171.04 234.1,171.09 234.9,171.2 235.7,171.45 236.5,171.5 237.3,171.54 238.1,171.64 238.9,171.77 239.7,171.88 240.5,171.77 241.3,172.11 242.1,172.08 242.9,172.13 243.7,172.39 244.5,172.41 245.3,172.37 246.1,172.36 246.9,172.56 247.7,172.64 248.5,172.69 249.3,172.69 250.1,172.9 250.9,172.88 251.7,173.1 252.5,173.1 253.3,173.1 254.1,173.33 254.9,173.28 255.7,173.24 256.5,173.36 257.3,173.36 258.1,173.53 258.9,173.74 259.7,173.81 260.5,173.78 261.3,173.68 262.1,173.77 262.9,173.81 263.7,173.91 264.5,174.05 265.3,173.91 266.1,174.1 266.9,174.13 267.7,174.25 268.5,174.35 269.3,174.26 270.1,174.37 270.9,174.31 271.7,174.41 272.5,174.5 273.3,174.36 274.1,174.54 274.9,174.57 275.7,174.51 276.5,174.57 277.3,174.77 278.1,174.66 278.9,174.64 279.7,174.7 280.5,174.8 281.3,174.79 282.1,174.8 282.9,174.81 283.7,174.8 284.5,174.91 285.3,174.96 286.1,174.83 286.9,174.99 287.7,174.92 288.5,175.14 289.3,175.14 290.1,174.91 290.9,175.09 291.7,175 292.5,174.93 293.3,175.17 294.1,175.19 294.9,175.15 295.7,175.11 296.5,175.22 297.3,175.09 298.1,175.13 298.9,175.12 299.7,175.18 300.5,175.17 301.3,175 302.1,174.96 302.9,175.06 303.7,175.06 304.5,174.98 305.3,175.12 306.1,175.1 306.9,175.03 307.7,174.97 308.5,175 309.3,174.83 310.1,175 310.9,174.77 311.7,174.98 312.5,174.87 313.3,174.74 314,174.69" fill="none" stroke="#d62728" stroke-width="1.7" stroke-linejoin="round" stroke-linecap="round"/>
<path d="M76.5,160.11 77.3,160.18 78.1,160.46 78.9,160.23 79.7,160.8 80.5,160.63 81.3,160.71 82.1,160.94 82.9,160.9 83.7,160.82 84.5,160.73 85.3,160.82 86.1,160.52 86.9,160.6 87.7,160.86 88.5,160.34 89.3,160.2 90.1,160.52 90.9,160.07 91.7,159.98 92.5,159.8 93.3,159.65 94.1,159.16 94.9,159.15 95.7,158.39 96.5,158.57 97.3,157.9 98.1,157.72 98.9,157.12 99.7,156.96 100.5,156.29 101.3,155.94 102.1,155.27 102.9,155.04 103.7,154.45 104.5,153.52 105.3,153.23 106.1,152.7 106.9,151.6 107.7,150.87 108.5,150.58 109.3,149.83 110.1,148.54 110.9,148.1 111.7,147.33 112.5,146.05 113.3,145.43 114.1,144.19 114.9,143.5 115.7,142.32 116.5,141.25 117.3,139.96 118.1,139.18 118.9,138.08 119.7,136.67 120.5,135.34 121.3,134.17 122.1,133.04 122.9,132.23 123.7,130.8 124.5,129.6 125.3,128.2 126.1,126.51 126.9,125.32 127.7,124.32 128.5,122.92 129.3,121.67 130.1,120.23 130.9,118.85 131.7,117.58 132.5,116.39 133.3,114.84 134.1,113.36 134.9,112.32 135.7,110.96 136.5,109.96 137.3,109.02 138.1,107.74 138.9,106.66 139.7,105.54 140.5,104.71 141.3,103.85 142.1,102.97 142.9,102.31 143.7,100.95 144.5,100.28 145.3,99.42 146.1,99.24 146.9,98.41 147.7,97.81 148.5,97.33 149.3,96.29 150.1,96.31 150.9,95.46 151.7,95.14 152.5,94.51 153.3,94.22 154.1,93.46 154.9,92.94 155.7,92.39 156.5,92.13 157.3,91.4 158.1,90.64 158.9,90.17 159.7,89.72 160.5,89.04 161.3,88.63 162.1,88.26 162.9,87.66 163.7,87.32 164.5,86.64 165.3,86.66 166.1,86.44 166.9,86.01 167.7,85.58 168.5,85.56 169.3,85.96 170.1,86.09 170.9,86.12 171.7,86.16 172.5,86.4 173.3,86.42 174.1,87.04 174.9,87.66 175.7,87.6 176.5,88.31 177.3,88.96 178.1,89.39 178.9,89.79 179.7,90.35 180.5,91.3 181.3,92.11 182.1,92.8 182.9,93.27 183.7,94.26 184.5,95.11 185.3,95.69 186.1,96.79 186.9,97.46 187.7,98.28 188.5,99.12 189.3,100.54 190.1,101.58 190.9,102.2 191.7,103.29 192.5,104.54 193.3,105.61 194.1,107.09 194.9,107.95 195.7,109.39 196.5,110.58 197.3,111.68 198.1,113.2 198.9,114.17 199.7,115.42 200.5,116.7 201.3,117.71 202.1,118.72 202.9,120.29 203.7,121.24 204.5,122.14 205.3,123.11 206.1,124.14 206.9,124.87 207.7,125.64 208.5,126.8 209.3,127.87 210.1,128.23 210.9,129.59 211.7,130.04 212.5,131.21 213.3,131.88 214.1,132.38 214.9,133.14 215.7,134.35 216.5,135.22 217.3,135.93 218.1,136.64 218.9,137.47 219.7,138.48 220.5,139.39 221.3,140.29 222.1,140.85 222.9,142.06 223.7,143.02 224.5,143.65 225.3,144.14 226.1,145.06 226.9,146.1 227.7,146.7 228.5,147.69 229.3,148.19 230.1,148.87 230.9,149.15 231.7,149.96 232.5,150.64 233.3,151.32 234.1,151.85 234.9,151.99 235.7,152.66 236.5,153.45 237.3,153.42 238.1,153.9 238.9,154.45 239.7,155.26 240.5,155.48 241.3,156.17 242.1,156.69 242.9,157.12 243.7,157.09 244.5,157.9 245.3,158.38 246.1,158.73 246.9,159.23 247.7,159.6 248.5,159.86 249.3,160.39 250.1,160.57 250.9,160.67 251.7,161.13 252.5,161.87 253.3,161.85 254.1,162.27 254.9,162.83 255.7,163.04 256.5,163.42 257.3,163.54 258.1,163.86 258.9,163.9 259.7,164.26 260.5,164.52 261.3,165.02 262.1,165.29 262.9,165.28 263.7,165.88 264.5,165.81 265.3,166.23 266.1,166.26 266.9,166.77 267.7,166.8 268.5,167.51 269.3,167.38 270.1,167.88 270.9,167.86 271.7,168 272.5,168.51 273.3,168.37 274.1,168.71 274.9,168.97 275.7,169.37 276.5,169.37 277.3,169.16 278.1,169.57 278.9,170.04 279.7,170.14 280.5,170.01 281.3,170.02 282.1,170.26 282.9,170.7 283.7,170.5 284.5,171.06 285.3,170.83 286.1,171.22 286.9,171.35 287.7,171.21 288.5,171.5 289.3,171.69 290.1,171.59 290.9,171.86 291.7,172.03 292.5,172.34 293.3,172.05 294.1,172.09 294.9,172.39 295.7,172.55 296.5,172.58 297.3,172.93 298.1,172.6 298.9,172.88 299.7,172.95 300.5,172.87 301.3,173.11 302.1,173.2 302.9,173.24 303.7,173.56 304.5,173.77 305.3,173.84 306.1,173.47 306.9,173.64 307.7,174.06 308.5,173.62 309.3,173.7 310.1,173.76 310.9,174.37 311.7,174.17 312.5,174.2 313.3,174.07 314,174.6" fill="none" stroke="#2ca02c" stroke-width="1.7" stroke-linejoin="round" stroke-linecap="round"/>
<path d="M76.5,163.15 77.3,163.18 78.1,163.51 78.9,163.48 79.7,163.49 80.5,163.56 81.3,163.77 82.1,163.78 82.9,164 83.7,163.88 84.5,163.92 85.3,164.46 86.1,164.43 86.9,164.38 87.7,164.05 88.5,164.03 89.3,163.98 90.1,163.99 90.9,163.53 91.7,163.46 92.5,163.26 93.3,163.18 94.1,162.59 94.9,162.05 95.7,161.93 96.5,161.82 97.3,160.96 98.1,160.76 98.9,159.95 99.7,159.49 100.5,159.11 101.3,158.16 102.1,157.7 102.9,157.06 103.7,156.17 104.5,155.59 105.3,154.79 106.1,153.54 106.9,152.88 107.7,151.88 108.5,150.74 109.3,149.64 110.1,148.47 110.9,147.37 111.7,146.09 112.5,144.52 113.3,143.38 114.1,142.01 114.9,140.39 115.7,139.15 116.5,137.25 117.3,135.82 118.1,134.21 118.9,132.6 119.7,130.68 120.5,129.28 121.3,127.25 122.1,125.79 122.9,124.01 123.7,122.43 124.5,120.79 125.3,119.14 126.1,116.96 126.9,115.65 127.7,113.68 128.5,112.01 129.3,110.06 130.1,108.9 130.9,106.89 131.7,105.3 132.5,103.73 133.3,102.12 134.1,100.61 134.9,99.1 135.7,97.76 136.5,96.2 137.3,95.02 138.1,93.74 138.9,92.38 139.7,90.73 140.5,89.63 141.3,88.42 142.1,87.22 142.9,85.86 143.7,84.63 144.5,83.9 145.3,82.81 146.1,81.66 146.9,80.92 147.7,79.69 148.5,79.29 149.3,78.59 150.1,77.9 150.9,76.7 151.7,76.4 152.5,75.84 153.3,74.86 154.1,74.55 154.9,73.68 155.7,73.06 156.5,72.25 157.3,71.67 158.1,71.26 158.9,70.33 159.7,69.7 160.5,69.06 161.3,67.87 162.1,67.63 162.9,67.08 163.7,66.44 164.5,65.85 165.3,65.47 166.1,65.45 166.9,65.34 167.7,65.31 168.5,65.68 169.3,65.88 170.1,65.96 170.9,66.29 171.7,66.95 172.5,67.61 173.3,68.18 174.1,68.82 174.9,69.69 175.7,70.38 176.5,71 177.3,72.04 178.1,72.88 178.9,73.62 179.7,74.47 180.5,75.59 181.3,76.82 182.1,77.9 182.9,78.72 183.7,79.97 184.5,80.84 185.3,82.32 186.1,83.43 186.9,84.84 187.7,86.15 188.5,86.93 189.3,88.78 190.1,89.62 190.9,91.43 191.7,92.8 192.5,93.72 193.3,95.15 194.1,96.47 194.9,98.35 195.7,99.7 196.5,101.27 197.3,102.64 198.1,103.84 198.9,105.57 199.7,106.81 200.5,108.29 201.3,109.84 202.1,111.5 202.9,112.76 203.7,114.39 204.5,115.85 205.3,117.43 206.1,118.65 206.9,120.01 207.7,121.43 208.5,122.68 209.3,124.11 210.1,124.94 210.9,126.14 211.7,127.15 212.5,128.42 213.3,129.68 214.1,130.49 214.9,131.45 215.7,132.54 216.5,133.38 217.3,133.97 218.1,134.83 218.9,135.95 219.7,136.71 220.5,137.89 221.3,138.55 222.1,139.71 222.9,140.88 223.7,141.56 224.5,142.45 225.3,143.73 226.1,144.29 226.9,145.57 227.7,146.21 228.5,147.16 229.3,147.7 230.1,148.39 230.9,148.94 231.7,149.49 232.5,150.67 233.3,150.85 234.1,151.37 234.9,152.46 235.7,152.8 236.5,153.38 237.3,154.13 238.1,154.55 238.9,154.79 239.7,155.31 240.5,156.02 241.3,156.52 242.1,156.71 242.9,157.18 243.7,157.78 244.5,157.95 245.3,158.82 246.1,159.14 246.9,159.24 247.7,159.89 248.5,160.28 249.3,160.35 250.1,160.92 250.9,161.5 251.7,161.64 252.5,162.14 253.3,162.18 254.1,162.96 254.9,163.08 255.7,163.32 256.5,163.3 257.3,163.8 258.1,163.88 258.9,164.43 259.7,164.55 260.5,164.87 261.3,165.17 262.1,165.34 262.9,165.68 263.7,166.07 264.5,166.09 265.3,166.59 266.1,167.06 266.9,167.16 267.7,167.53 268.5,167.25 269.3,167.8 270.1,167.76 270.9,168.38 271.7,168.33 272.5,168.66 273.3,168.89 274.1,168.7 274.9,168.87 275.7,169.48 276.5,169.66 277.3,169.61 278.1,169.53 278.9,169.7 279.7,170.33 280.5,170.43 281.3,170.39 282.1,170.73 282.9,170.95 283.7,170.62 284.5,171.2 285.3,171.48 286.1,171.55 286.9,171.69 287.7,171.56 288.5,171.78 289.3,171.61 290.1,172.14 290.9,172.17 291.7,172.13 292.5,172.03 293.3,172.22 294.1,172.46 294.9,172.87 295.7,172.7 296.5,173.04 297.3,172.72 298.1,172.86 298.9,172.94 299.7,173.06 300.5,173.45 301.3,173.28 302.1,173.33 302.9,173.63 303.7,173.56 304.5,173.9 305.3,173.87 306.1,174.02 306.9,173.85 307.7,173.9 308.5,174 309.3,174.39 310.1,174.43 310.9,174.27 311.7,174.29 312.5,174.09 313.3,174.63 314,174.53" fill="none" stroke="#ff7f0e" stroke-width="1.7" stroke-linejoin="round" stroke-linecap="round"/>
<path d="M76.5,167.02 77.3,167.18 78.1,167.5 78.9,167.8 79.7,167.89 80.5,168.1 81.3,168.39 82.1,168.59 82.9,168.64 83.7,168.86 84.5,169.14 85.3,169.42 86.1,169.5 86.9,169.57 87.7,169.8 88.5,169.95 89.3,170.27 90.1,170.26 90.9,170.62 91.7,170.55 92.5,170.64 93.3,170.71 94.1,170.96 94.9,171.07 95.7,171.24 96.5,171.3 97.3,171.34 98.1,171.26 98.9,171.58 99.7,171.43 100.5,171.47 101.3,171.49 102.1,171.63 102.9,171.67 103.7,171.57 104.5,171.55 105.3,171.46 106.1,171.61 106.9,171.61 107.7,171.39 108.5,171.37 109.3,171.46 110.1,171.38 110.9,171.12 111.7,171.28 112.5,171.1 113.3,170.99 114.1,170.75 114.9,170.82 115.7,170.52 116.5,170.44 117.3,170.39 118.1,170.18 118.9,169.82 119.7,169.63 120.5,169.47 121.3,169.25 122.1,169.29 122.9,168.98 123.7,168.75 124.5,168.5 125.3,168.32 126.1,168.07 126.9,167.92 127.7,167.59 128.5,167.48 129.3,167.22 130.1,166.97 130.9,166.68 131.7,166.24 132.5,166.04 133.3,165.89 134.1,165.46 134.9,165.25 135.7,164.85 136.5,164.74 137.3,164.3 138.1,164.01 138.9,163.84 139.7,163.32 140.5,162.99 141.3,162.8 142.1,162.5 142.9,162.08 143.7,161.85 144.5,161.64 145.3,161.35 146.1,161.04 146.9,160.68 147.7,160.14 148.5,159.9 149.3,159.59 150.1,159.14 150.9,159.04 151.7,158.55 152.5,158.37 153.3,158.01 154.1,157.56 154.9,157.25 155.7,156.95 156.5,156.55 157.3,156.17 158.1,155.96 158.9,155.58 159.7,155.26 160.5,155.1 161.3,154.76 162.1,154.34 162.9,153.91 163.7,153.81 164.5,153.35 165.3,153 166.1,152.91 166.9,152.67 167.7,152.21 168.5,152.04 169.3,151.91 170.1,151.58 170.9,151.34 171.7,151.1 172.5,150.91 173.3,151.04 174.1,150.91 174.9,150.64 175.7,150.72 176.5,150.54 177.3,150.69 178.1,150.59 178.9,150.71 179.7,150.72 180.5,150.66 181.3,150.9 182.1,151.04 182.9,151 183.7,151.15 184.5,151.4 185.3,151.72 186.1,152.01 186.9,152.08 187.7,152.44 188.5,152.65 189.3,152.78 190.1,153.11 190.9,153.51 191.7,153.7 192.5,154.01 193.3,154.39 194.1,154.54 194.9,154.96 195.7,155.31 196.5,155.65 197.3,156.03 198.1,156.24 198.9,156.64 199.7,156.98 200.5,157.21 201.3,157.75 202.1,158.14 202.9,158.35 203.7,158.63 204.5,158.94 205.3,159.28 206.1,159.56 206.9,159.84 207.7,160.34 208.5,160.46 209.3,160.7 210.1,161.12 210.9,161.21 211.7,161.59 212.5,161.92 213.3,162.26 214.1,162.37 214.9,162.55 215.7,163.08 216.5,163.04 217.3,163.41 218.1,163.68 218.9,164.05 219.7,164.1 220.5,164.29 221.3,164.53 222.1,164.77 222.9,164.92 223.7,165.36 224.5,165.45 225.3,165.72 226.1,165.78 226.9,166.1 227.7,166.37 228.5,166.35 229.3,166.76 230.1,166.74 230.9,167.05 231.7,167.29 232.5,167.32 233.3,167.63 234.1,167.64 234.9,167.82 235.7,168.12 236.5,168.19 237.3,168.18 238.1,168.36 238.9,168.62 239.7,168.71 240.5,168.77 241.3,169.14 242.1,169.13 242.9,169.44 243.7,169.41 244.5,169.48 245.3,169.68 246.1,169.93 246.9,170.07 247.7,170.09 248.5,170.11 249.3,170.31 250.1,170.34 250.9,170.48 251.7,170.48 252.5,170.59 253.3,170.97 254.1,171.02 254.9,170.96 255.7,171.17 256.5,171.09 257.3,171.42 258.1,171.45 258.9,171.57 259.7,171.57 260.5,171.65 261.3,171.85 262.1,171.78 262.9,171.79 263.7,171.88 264.5,172.19 265.3,172.07 266.1,172.08 266.9,172.3 267.7,172.24 268.5,172.4 269.3,172.57 270.1,172.47 270.9,172.59 271.7,172.8 272.5,172.84 273.3,172.9 274.1,172.71 274.9,173.05 275.7,172.98 276.5,172.91 277.3,173.21 278.1,173.01 278.9,173.32 279.7,173.08 280.5,173.14 281.3,173.31 282.1,173.4 282.9,173.43 283.7,173.55 284.5,173.38 285.3,173.61 286.1,173.53 286.9,173.76 287.7,173.71 288.5,173.77 289.3,173.64 290.1,173.91 290.9,173.76 291.7,173.78 292.5,173.88 293.3,174.03 294.1,173.93 294.9,174.01 295.7,174.09 296.5,174.02 297.3,174.01 298.1,174.14 298.9,174.26 299.7,174.29 300.5,174.19 301.3,174.36 302.1,174.45 302.9,174.44 303.7,174.32 304.5,174.32 305.3,174.64 306.1,174.59 306.9,174.5 307.7,174.67 308.5,174.66 309.3,174.72 310.1,174.67 310.9,174.8 311.7,174.76 312.5,174.8 313.3,174.82 314,174.98" fill="none" stroke="#1f77b4" stroke-width="1.7" stroke-linejoin="round" stroke-linecap="round"/>
</g>
<g clip-path="url(#cl2)">
<path d="M68.9,307.69 69.7,307.34 70.5,307.1 71.3,307 72.1,307.01 72.9,306.76 73.7,306.54 74.5,306.69 75.3,306.47 76.1,306.28 76.9,306.41 77.7,306.28 78.5,306.33 79.3,306.28 80.1,306.24 80.9,306.24 81.7,306.07 82.5,306.18 83.3,306.08 84.1,306.13 84.9,306.01 85.7,306.14 86.5,306 87.3,306.25 88.1,306.07 88.9,306.22 89.7,306.33 90.5,306.36 91.3,306.4 92.1,306.31 92.9,306.24 93.7,306.55 94.5,306.38 95.3,306.58 96.1,306.48 96.9,306.52 97.7,306.58 98.5,306.61 99.3,306.7 100.1,306.66 100.9,306.55 101.7,306.67 102.5,306.55 103.3,306.77 104.1,306.56 104.9,306.61 105.7,306.65 106.5,306.55 107.3,306.68 108.1,306.6 108.9,306.41 109.7,306.38 110.5,306.39 111.3,306.24 112.1,306.18 112.9,305.98 113.7,305.93 114.5,305.81 115.3,305.75 116.1,305.43 116.9,305.39 117.7,305.03 118.5,304.85 119.3,304.61 120.1,304.58 120.9,304.08 121.7,303.87 122.5,303.64 123.3,303.4 124.1,303.07 124.9,302.56 125.7,302.28 126.5,302 127.3,301.43 128.1,301.01 128.9,300.79 129.7,300.1 130.5,299.66 131.3,299.22 132.1,298.94 132.9,298.3 133.7,297.83 134.5,297.37 135.3,296.97 136.1,296.21 136.9,295.75 137.7,295.31 138.5,294.89 139.3,294.24 140.1,293.85 140.9,293.41 141.7,292.8 142.5,292.43 143.3,291.91 144.1,291.74 144.9,291.05 145.7,290.7 146.5,290.44 147.3,289.95 148.1,289.69 148.9,289.27 149.7,289.13 150.5,288.68 151.3,288.3 152.1,287.96 152.9,287.76 153.7,287.58 154.5,287.31 155.3,287.07 156.1,286.79 156.9,286.7 157.7,286.34 158.5,286.21 159.3,286.16 160.1,285.96 160.9,285.73 161.7,285.71 162.5,285.6 163.3,285.37 164.1,285.33 164.9,285.38 165.7,285.22 166.5,285.19 167.3,285.24 168.1,285.11 168.9,285.19 169.7,285.45 170.5,285.29 171.3,285.54 172.1,285.39 172.9,285.6 173.7,285.79 174.5,285.88 175.3,286.24 176.1,286.42 176.9,286.43 177.7,286.59 178.5,287.06 179.3,287.26 180.1,287.44 180.9,287.57 181.7,287.83 182.5,288.33 183.3,288.63 184.1,288.87 184.9,289.15 185.7,289.46 186.5,289.82 187.3,290.17 188.1,290.58 188.9,290.86 189.7,291.19 190.5,291.51 191.3,292 192.1,292.44 192.9,292.57 193.7,293.11 194.5,293.43 195.3,293.66 196.1,293.98 196.9,294.54 197.7,294.68 198.5,295.01 199.3,295.33 200.1,295.88 200.9,296.07 201.7,296.27 202.5,296.65 203.3,297.02 204.1,297.28 204.9,297.46 205.7,297.93 206.5,298.13 207.3,298.24 208.1,298.47 208.9,298.66 209.7,298.8 210.5,299.16 211.3,299.25 212.1,299.53 212.9,299.75 213.7,299.75 214.5,299.89 215.3,300.05 216.1,300.22 216.9,300.21 217.7,300.44 218.5,300.53 219.3,300.57 220.1,300.89 220.9,300.95 221.7,300.98 222.5,300.95 223.3,301.23 224.1,301.21 224.9,301.45 225.7,301.46 226.5,301.41 227.3,301.64 228.1,301.67 228.9,301.68 229.7,301.89 230.5,301.83 231.3,301.85 232.1,301.9 232.9,302.15 233.7,302.12 234.5,302.17 235.3,302.22 236.1,302.52 236.9,302.45 237.7,302.71 238.5,302.8 239.3,302.86 240.1,302.77 240.9,303.07 241.7,303.06 242.5,303.21 243.3,303.31 244.1,303.22 244.9,303.33 245.7,303.57 246.5,303.47 247.3,303.5 248.1,303.57 248.9,303.81 249.7,303.82 250.5,304.1 251.3,303.9 252.1,304.1 252.9,304.28 253.7,304.34 254.5,304.49 255.3,304.52 256.1,304.67 256.9,304.79 257.7,304.84 258.5,304.84 259.3,304.87 260.1,304.99 260.9,304.98 261.7,305.07 262.5,305.23 263.3,305.29 264.1,305.35 264.9,305.34 265.7,305.69 266.5,305.57 267.3,305.69 268.1,305.73 268.9,305.87 269.7,306.01 270.5,306.13 271.3,306.1 272.1,306.28 272.9,306.18 273.7,306.28 274.5,306.31 275.3,306.56 276.1,306.38 276.9,306.47 277.7,306.7 278.5,306.61 279.3,306.62 280.1,306.77 280.9,306.86 281.7,306.91 282.5,306.9 283.3,306.99 284.1,307.03 284.9,307.05 285.7,307.2 286.5,307.17 287.3,307.2 288.1,307.47 288.9,307.5 289.7,307.4 290.5,307.48 291.3,307.39 292.1,307.41 292.9,307.59 293.7,307.76 294.5,307.53 295.3,307.67 296.1,307.81 296.9,307.6 297.7,307.8 298.5,307.72 299.3,307.89 300.1,307.93 300.9,307.97 301.7,307.95 302.5,307.75 303.3,307.94 304.1,307.91 304.9,307.84 305.7,307.82 306.5,307.9 307.3,307.88 308.1,307.88 308.9,308.03 309.7,307.81 310.5,307.99 311.3,307.76 312.1,307.91 312.9,307.81 313.7,307.78 314,307.8" fill="none" stroke="#bcbd22" stroke-width="1.7" stroke-linejoin="round" stroke-linecap="round"/>
<path d="M68.9,308.07 69.7,308.1 70.5,308.15 71.3,308.09 72.1,308.29 72.9,308.24 73.7,308.22 74.5,308.24 75.3,308.08 76.1,308.04 76.9,308.06 77.7,308.3 78.5,308.19 79.3,308.33 80.1,308.14 80.9,308.16 81.7,308.24 82.5,308.3 83.3,308.17 84.1,308.19 84.9,308.15 85.7,308.12 86.5,308.32 87.3,308.32 88.1,308.18 88.9,308.09 89.7,308.31 90.5,308.19 91.3,308.28 92.1,308.18 92.9,308.08 93.7,308.28 94.5,308.09 95.3,308.34 96.1,308.11 96.9,308.16 97.7,308.06 98.5,308.13 99.3,308.26 100.1,308.09 100.9,308.1 101.7,308.08 102.5,308.07 103.3,308.22 104.1,308.13 104.9,308.29 105.7,308.27 106.5,308.22 107.3,308.35 108.1,308.36 108.9,308.16 109.7,308.3 110.5,308.28 111.3,308.13 112.1,308.31 112.9,308.09 113.7,308.28 114.5,308.35 115.3,308.27 116.1,308.29 116.9,308.28 117.7,308.2 118.5,308.11 119.3,308.19 120.1,308.18 120.9,308.33 121.7,308.35 122.5,308.38 123.3,308.19 124.1,308.35 124.9,308.36 125.7,308.09 126.5,308.25 127.3,308.12 128.1,308.11 128.9,308.22 129.7,308.3 130.5,308.15 131.3,308.19 132.1,308.24 132.9,308.26 133.7,308.13 134.5,308.15 135.3,308.1 136.1,308.2 136.9,308.4 137.7,308.16 138.5,308.33 139.3,308.3 140.1,308.36 140.9,308.34 141.7,308.12 142.5,308.2 143.3,308.36 144.1,308.3 144.9,308.36 145.7,308.12 146.5,308.36 147.3,308.23 148.1,308.35 148.9,308.29 149.7,308.22 150.5,308.27 151.3,308.12 152.1,308.4 152.9,308.38 153.7,308.31 154.5,308.31 155.3,308.34 156.1,308.25 156.9,308.19 157.7,308.32 158.5,308.42 159.3,308.38 160.1,308.36 160.9,308.17 161.7,308.22 162.5,308.21 163.3,308.3 164.1,308.4 164.9,308.31 165.7,308.3 166.5,308.26 167.3,308.18 168.1,308.21 168.9,308.43 169.7,308.41 170.5,308.33 171.3,308.34 172.1,308.2 172.9,308.14 173.7,308.14 174.5,308.14 175.3,308.2 176.1,308.43 176.9,308.31 177.7,308.21 178.5,308.17 179.3,308.15 180.1,308.15 180.9,308.19 181.7,308.25 182.5,308.19 183.3,308.22 184.1,308.34 184.9,308.19 185.7,308.19 186.5,308.38 187.3,308.24 188.1,308.34 188.9,308.24 189.7,308.36 190.5,308.16 191.3,308.24 192.1,308.42 192.9,308.24 193.7,308.35 194.5,308.22 195.3,308.19 196.1,308.29 196.9,308.3 197.7,308.17 198.5,308.32 199.3,308.29 200.1,308.27 200.9,308.39 201.7,308.43 202.5,308.29 203.3,308.26 204.1,308.4 204.9,308.4 205.7,308.32 206.5,308.36 207.3,308.27 208.1,308.39 208.9,308.35 209.7,308.43 210.5,308.27 211.3,308.2 212.1,308.44 212.9,308.35 213.7,308.42 214.5,308.4 215.3,308.41 216.1,308.29 216.9,308.44 217.7,308.37 218.5,308.31 219.3,308.23 220.1,308.21 220.9,308.26 221.7,308.28 222.5,308.29 223.3,308.37 224.1,308.48 224.9,308.36 225.7,308.39 226.5,308.19 227.3,308.4 228.1,308.35 228.9,308.43 229.7,308.3 230.5,308.39 231.3,308.35 232.1,308.43 232.9,308.33 233.7,308.45 234.5,308.46 235.3,308.36 236.1,308.35 236.9,308.41 237.7,308.36 238.5,308.5 239.3,308.49 240.1,308.35 240.9,308.41 241.7,308.24 242.5,308.48 243.3,308.39 244.1,308.22 244.9,308.21 245.7,308.47 246.5,308.45 247.3,308.4 248.1,308.34 248.9,308.29 249.7,308.36 250.5,308.49 251.3,308.41 252.1,308.23 252.9,308.28 253.7,308.25 254.5,308.48 255.3,308.48 256.1,308.5 256.9,308.35 257.7,308.32 258.5,308.24 259.3,308.3 260.1,308.33 260.9,308.34 261.7,308.33 262.5,308.45 263.3,308.49 264.1,308.34 264.9,308.48 265.7,308.32 266.5,308.31 267.3,308.47 268.1,308.26 268.9,308.26 269.7,308.53 270.5,308.38 271.3,308.36 272.1,308.47 272.9,308.51 273.7,308.35 274.5,308.48 275.3,308.28 276.1,308.51 276.9,308.37 277.7,308.36 278.5,308.25 279.3,308.27 280.1,308.36 280.9,308.28 281.7,308.45 282.5,308.55 283.3,308.34 284.1,308.48 284.9,308.43 285.7,308.44 286.5,308.49 287.3,308.4 288.1,308.5 288.9,308.3 289.7,308.46 290.5,308.42 291.3,308.32 292.1,308.33 292.9,308.54 293.7,308.45 294.5,308.41 295.3,308.41 296.1,308.52 296.9,308.45 297.7,308.33 298.5,308.55 299.3,308.52 300.1,308.5 300.9,308.48 301.7,308.47 302.5,308.37 303.3,308.56 304.1,308.49 304.9,308.32 305.7,308.52 306.5,308.4 307.3,308.29 308.1,308.54 308.9,308.34 309.7,308.4 310.5,308.31 311.3,308.44 312.1,308.44 312.9,308.53 313.7,308.57 314,308.55" fill="none" stroke="#7f7f7f" stroke-width="1.9" stroke-linejoin="round" stroke-linecap="round"/>
<path d="M68.9,308.12 69.7,308 70.5,308.12 71.3,307.87 72.1,307.86 72.9,307.9 73.7,307.8 74.5,307.82 75.3,307.64 76.1,307.64 76.9,307.54 77.7,307.62 78.5,307.52 79.3,307.65 80.1,307.44 80.9,307.38 81.7,307.5 82.5,307.3 83.3,307.45 84.1,307.32 84.9,307.16 85.7,307.28 86.5,307.33 87.3,307.08 88.1,307.11 88.9,307.07 89.7,307.14 90.5,307.11 91.3,306.79 92.1,306.84 92.9,306.93 93.7,306.77 94.5,306.75 95.3,306.73 96.1,306.52 96.9,306.48 97.7,306.69 98.5,306.5 99.3,306.47 100.1,306.46 100.9,306.47 101.7,306.47 102.5,306.19 103.3,306.31 104.1,306.07 104.9,306.19 105.7,306.23 106.5,306.09 107.3,306.01 108.1,306.11 108.9,306.02 109.7,306.04 110.5,305.89 111.3,305.78 112.1,305.85 112.9,305.74 113.7,305.56 114.5,305.55 115.3,305.76 116.1,305.62 116.9,305.4 117.7,305.57 118.5,305.53 119.3,305.28 120.1,305.52 120.9,305.23 121.7,305.29 122.5,305.31 123.3,305.2 124.1,305.12 124.9,305.12 125.7,305.13 126.5,305.18 127.3,305.12 128.1,305.12 128.9,305.02 129.7,304.89 130.5,304.81 131.3,304.94 132.1,304.91 132.9,304.69 133.7,304.79 134.5,304.63 135.3,304.5 136.1,304.59 136.9,304.69 137.7,304.54 138.5,304.59 139.3,304.57 140.1,304.52 140.9,304.34 141.7,304.49 142.5,304.21 143.3,304.31 144.1,304.15 144.9,304.21 145.7,304.33 146.5,304.28 147.3,304.3 148.1,304.14 148.9,304.1 149.7,303.97 150.5,304.04 151.3,304.14 152.1,303.94 152.9,304.07 153.7,303.88 154.5,304.01 155.3,303.8 156.1,304.01 156.9,303.73 157.7,303.7 158.5,303.83 159.3,303.87 160.1,303.83 160.9,303.72 161.7,303.79 162.5,303.62 163.3,303.64 164.1,303.61 164.9,303.58 165.7,303.51 166.5,303.54 167.3,303.63 168.1,303.64 168.9,303.54 169.7,303.61 170.5,303.52 171.3,303.65 172.1,303.4 172.9,303.62 173.7,303.65 174.5,303.55 175.3,303.56 176.1,303.66 176.9,303.41 177.7,303.39 178.5,303.51 179.3,303.57 180.1,303.51 180.9,303.49 181.7,303.48 182.5,303.49 183.3,303.61 184.1,303.37 184.9,303.55 185.7,303.39 186.5,303.61 187.3,303.44 188.1,303.61 188.9,303.47 189.7,303.57 190.5,303.54 191.3,303.68 192.1,303.55 192.9,303.57 193.7,303.57 194.5,303.51 195.3,303.73 196.1,303.56 196.9,303.51 197.7,303.54 198.5,303.71 199.3,303.78 200.1,303.7 200.9,303.82 201.7,303.62 202.5,303.83 203.3,303.81 204.1,303.66 204.9,303.64 205.7,303.76 206.5,303.78 207.3,303.82 208.1,303.9 208.9,303.78 209.7,303.8 210.5,303.85 211.3,303.82 212.1,303.92 212.9,303.99 213.7,303.92 214.5,303.9 215.3,304.1 216.1,303.93 216.9,304.19 217.7,304.14 218.5,304.05 219.3,304.01 220.1,304.28 220.9,304.06 221.7,304.31 222.5,304.27 223.3,304.34 224.1,304.22 224.9,304.41 225.7,304.3 226.5,304.43 227.3,304.57 228.1,304.49 228.9,304.38 229.7,304.44 230.5,304.52 231.3,304.68 232.1,304.7 232.9,304.61 233.7,304.7 234.5,304.66 235.3,304.73 236.1,304.71 236.9,304.93 237.7,304.79 238.5,304.81 239.3,304.93 240.1,304.85 240.9,304.85 241.7,304.98 242.5,305.13 243.3,305.03 244.1,305.04 244.9,305.07 245.7,305.2 246.5,305.14 247.3,305.25 248.1,305.28 248.9,305.17 249.7,305.29 250.5,305.48 251.3,305.33 252.1,305.53 252.9,305.36 253.7,305.52 254.5,305.54 255.3,305.65 256.1,305.49 256.9,305.56 257.7,305.68 258.5,305.87 259.3,305.79 260.1,305.93 260.9,305.87 261.7,306.04 262.5,305.81 263.3,306.08 264.1,305.93 264.9,305.96 265.7,306.09 266.5,306.1 267.3,306.31 268.1,306.33 268.9,306.3 269.7,306.19 270.5,306.23 271.3,306.33 272.1,306.33 272.9,306.34 273.7,306.37 274.5,306.42 275.3,306.47 276.1,306.45 276.9,306.55 277.7,306.78 278.5,306.78 279.3,306.75 280.1,306.89 280.9,306.92 281.7,306.7 282.5,306.73 283.3,306.85 284.1,306.95 284.9,307.12 285.7,306.87 286.5,307.1 287.3,307.17 288.1,307.04 288.9,307.23 289.7,307.3 290.5,307.1 291.3,307.3 292.1,307.28 292.9,307.41 293.7,307.25 294.5,307.44 295.3,307.28 296.1,307.32 296.9,307.47 297.7,307.48 298.5,307.54 299.3,307.51 300.1,307.78 300.9,307.63 301.7,307.69 302.5,307.68 303.3,307.87 304.1,307.68 304.9,307.95 305.7,307.75 306.5,307.99 307.3,307.89 308.1,307.97 308.9,307.89 309.7,308.09 310.5,307.94 311.3,308.14 312.1,308.13 312.9,308.23 313.7,308.28 314,308.24" fill="none" stroke="#17becf" stroke-width="1.9" stroke-linejoin="round" stroke-linecap="round"/>
<path d="M68.9,307.8 69.7,308 70.5,307.78 71.3,308 72.1,308.03 72.9,307.8 73.7,307.77 74.5,308 75.3,307.86 76.1,307.96 76.9,308 77.7,308.04 78.5,307.92 79.3,308.01 80.1,308.03 80.9,307.99 81.7,307.87 82.5,308.04 83.3,307.89 84.1,308.04 84.9,307.88 85.7,307.91 86.5,307.78 87.3,307.8 88.1,308.05 88.9,307.91 89.7,307.99 90.5,307.91 91.3,307.99 92.1,307.93 92.9,307.82 93.7,307.87 94.5,307.97 95.3,307.82 96.1,308.06 96.9,307.8 97.7,307.95 98.5,308.04 99.3,308 100.1,307.82 100.9,307.81 101.7,307.99 102.5,307.91 103.3,307.81 104.1,307.82 104.9,307.99 105.7,307.79 106.5,307.87 107.3,308.07 108.1,307.86 108.9,308.04 109.7,307.8 110.5,307.85 111.3,307.81 112.1,308.01 112.9,307.96 113.7,308.02 114.5,308.04 115.3,308.01 116.1,307.83 116.9,307.93 117.7,307.81 118.5,308.04 119.3,307.91 120.1,307.94 120.9,308.07 121.7,308.1 122.5,307.98 123.3,307.92 124.1,308.07 124.9,308.06 125.7,307.87 126.5,307.94 127.3,308.09 128.1,308.1 128.9,308.08 129.7,307.96 130.5,307.86 131.3,308.08 132.1,307.87 132.9,307.99 133.7,307.93 134.5,308.07 135.3,307.93 136.1,307.93 136.9,308.07 137.7,308.04 138.5,308.12 139.3,307.86 140.1,307.86 140.9,308.02 141.7,307.97 142.5,308.09 143.3,307.96 144.1,307.84 144.9,307.97 145.7,307.9 146.5,308.07 147.3,308.07 148.1,308.09 148.9,307.86 149.7,308 150.5,307.89 151.3,308.12 152.1,307.88 152.9,308.03 153.7,308.05 154.5,307.89 155.3,308.01 156.1,307.87 156.9,307.85 157.7,307.92 158.5,307.86 159.3,307.97 160.1,308.04 160.9,308.12 161.7,307.92 162.5,307.99 163.3,308.05 164.1,307.94 164.9,307.94 165.7,307.96 166.5,308.1 167.3,307.96 168.1,308.08 168.9,307.89 169.7,307.94 170.5,307.94 171.3,307.92 172.1,307.9 172.9,307.97 173.7,308.1 174.5,308.05 175.3,308.15 176.1,307.95 176.9,307.95 177.7,307.93 178.5,308.01 179.3,307.9 180.1,308.1 180.9,307.99 181.7,307.88 182.5,308.02 183.3,307.99 184.1,307.93 184.9,307.96 185.7,308.07 186.5,308.17 187.3,308.05 188.1,307.95 188.9,307.88 189.7,307.97 190.5,307.95 191.3,308 192.1,308.01 192.9,307.96 193.7,307.93 194.5,308.16 195.3,308.17 196.1,308.1 196.9,308.16 197.7,308.06 198.5,308.11 199.3,308.02 200.1,308.09 200.9,308.14 201.7,308.1 202.5,308.13 203.3,308.08 204.1,308 204.9,308.14 205.7,308.17 206.5,307.97 207.3,307.95 208.1,307.9 208.9,307.97 209.7,307.96 210.5,307.96 211.3,307.95 212.1,308 212.9,307.96 213.7,308.2 214.5,307.93 215.3,307.91 216.1,308.19 216.9,308.03 217.7,308.14 218.5,308.01 219.3,307.92 220.1,307.93 220.9,308.19 221.7,307.93 222.5,308.05 223.3,308 224.1,308.12 224.9,308.04 225.7,308.17 226.5,307.99 227.3,308.09 228.1,308.22 228.9,308.09 229.7,308.22 230.5,307.95 231.3,308.2 232.1,308.05 232.9,308.23 233.7,308.15 234.5,308.01 235.3,308.17 236.1,307.99 236.9,308.1 237.7,308.16 238.5,307.99 239.3,307.96 240.1,308.2 240.9,308 241.7,308.17 242.5,308.09 243.3,308.01 244.1,308.21 244.9,308.06 245.7,308.03 246.5,308.22 247.3,308.25 248.1,308.05 248.9,308.25 249.7,307.99 250.5,308.2 251.3,308.13 252.1,308.03 252.9,308.08 253.7,308.06 254.5,308.17 255.3,308.09 256.1,308.09 256.9,308.17 257.7,308.07 258.5,307.99 259.3,308.12 260.1,308.23 260.9,308.04 261.7,308.05 262.5,308.25 263.3,308.02 264.1,308.26 264.9,308.07 265.7,308.04 266.5,308.2 267.3,308.25 268.1,308.12 268.9,308.06 269.7,308.02 270.5,307.99 271.3,308.2 272.1,308.21 272.9,308.08 273.7,308.13 274.5,308.22 275.3,308.2 276.1,308.2 276.9,308.27 277.7,308.07 278.5,308.29 279.3,308.19 280.1,308.09 280.9,308.2 281.7,308.09 282.5,308.13 283.3,308.25 284.1,308.25 284.9,308.18 285.7,308.25 286.5,308.27 287.3,308.13 288.1,308.03 288.9,308.29 289.7,308.03 290.5,308.15 291.3,308.04 292.1,308.18 292.9,308.25 293.7,308.03 294.5,308.17 295.3,308.14 296.1,308.22 296.9,308.29 297.7,308.22 298.5,308.04 299.3,308.13 300.1,308.17 300.9,308.08 301.7,308.29 302.5,308.14 303.3,308.14 304.1,308.1 304.9,308.19 305.7,308.28 306.5,308.07 307.3,308.19 308.1,308.13 308.9,308.06 309.7,308.16 310.5,308.23 311.3,308.23 312.1,308.34 312.9,308.25 313.7,308.32 314,308.26" fill="none" stroke="#fdd23b" stroke-width="1.9" stroke-linejoin="round" stroke-linecap="round"/>
<path d="M68.9,308.17 69.7,308.2 70.5,308.15 71.3,308.09 72.1,307.92 72.9,307.88 73.7,308.02 74.5,307.73 75.3,307.81 76.1,307.91 76.9,307.72 77.7,307.75 78.5,307.68 79.3,307.73 80.1,307.76 80.9,307.5 81.7,307.58 82.5,307.68 83.3,307.52 84.1,307.66 84.9,307.42 85.7,307.47 86.5,307.34 87.3,307.52 88.1,307.38 88.9,307.46 89.7,307.39 90.5,307.24 91.3,307.39 92.1,307.13 92.9,307.37 93.7,307.3 94.5,307.12 95.3,307.19 96.1,307.1 96.9,307.12 97.7,307.24 98.5,307.07 99.3,307.09 100.1,306.9 100.9,306.89 101.7,306.99 102.5,306.96 103.3,307.09 104.1,306.96 104.9,307.04 105.7,306.93 106.5,307.02 107.3,306.82 108.1,306.71 108.9,306.91 109.7,306.87 110.5,306.71 111.3,306.7 112.1,306.76 112.9,306.88 113.7,306.79 114.5,306.71 115.3,306.73 116.1,306.65 116.9,306.65 117.7,306.57 118.5,306.71 119.3,306.5 120.1,306.64 120.9,306.49 121.7,306.5 122.5,306.67 123.3,306.69 124.1,306.57 124.9,306.7 125.7,306.61 126.5,306.55 127.3,306.56 128.1,306.37 128.9,306.39 129.7,306.58 130.5,306.45 131.3,306.62 132.1,306.4 132.9,306.4 133.7,306.37 134.5,306.58 135.3,306.46 136.1,306.36 136.9,306.3 137.7,306.45 138.5,306.27 139.3,306.52 140.1,306.3 140.9,306.48 141.7,306.5 142.5,306.33 143.3,306.41 144.1,306.44 144.9,306.36 145.7,306.35 146.5,306.48 147.3,306.29 148.1,306.38 148.9,306.21 149.7,306.38 150.5,306.5 151.3,306.32 152.1,306.42 152.9,306.3 153.7,306.31 154.5,306.31 155.3,306.46 156.1,306.29 156.9,306.21 157.7,306.36 158.5,306.37 159.3,306.37 160.1,306.33 160.9,306.28 161.7,306.41 162.5,306.27 163.3,306.27 164.1,306.25 164.9,306.21 165.7,306.26 166.5,306.4 167.3,306.32 168.1,306.34 168.9,306.28 169.7,306.29 170.5,306.42 171.3,306.5 172.1,306.26 172.9,306.43 173.7,306.51 174.5,306.39 175.3,306.5 176.1,306.29 176.9,306.48 177.7,306.28 178.5,306.31 179.3,306.28 180.1,306.26 180.9,306.49 181.7,306.37 182.5,306.38 183.3,306.5 184.1,306.36 184.9,306.55 185.7,306.35 186.5,306.6 187.3,306.57 188.1,306.47 188.9,306.6 189.7,306.58 190.5,306.62 191.3,306.43 192.1,306.48 192.9,306.45 193.7,306.5 194.5,306.54 195.3,306.64 196.1,306.49 196.9,306.57 197.7,306.49 198.5,306.55 199.3,306.44 200.1,306.59 200.9,306.63 201.7,306.63 202.5,306.72 203.3,306.62 204.1,306.56 204.9,306.77 205.7,306.62 206.5,306.56 207.3,306.67 208.1,306.74 208.9,306.62 209.7,306.62 210.5,306.58 211.3,306.73 212.1,306.69 212.9,306.83 213.7,306.65 214.5,306.79 215.3,306.66 216.1,306.69 216.9,306.68 217.7,306.85 218.5,306.88 219.3,306.81 220.1,306.93 220.9,306.94 221.7,306.97 222.5,306.91 223.3,306.87 224.1,306.87 224.9,306.99 225.7,306.86 226.5,306.85 227.3,307.09 228.1,307.08 228.9,307.01 229.7,307.08 230.5,306.86 231.3,307.09 232.1,307.04 232.9,306.97 233.7,306.97 234.5,307.11 235.3,307.19 236.1,307.15 236.9,306.95 237.7,307.13 238.5,307.07 239.3,307.05 240.1,307.01 240.9,307.18 241.7,307.1 242.5,307.13 243.3,307.2 244.1,307.33 244.9,307.15 245.7,307.26 246.5,307.29 247.3,307.34 248.1,307.38 248.9,307.21 249.7,307.41 250.5,307.19 251.3,307.32 252.1,307.41 252.9,307.48 253.7,307.32 254.5,307.44 255.3,307.46 256.1,307.27 256.9,307.5 257.7,307.54 258.5,307.34 259.3,307.41 260.1,307.46 260.9,307.62 261.7,307.64 262.5,307.42 263.3,307.5 264.1,307.43 264.9,307.43 265.7,307.49 266.5,307.72 267.3,307.72 268.1,307.52 268.9,307.66 269.7,307.68 270.5,307.64 271.3,307.77 272.1,307.56 272.9,307.63 273.7,307.59 274.5,307.84 275.3,307.82 276.1,307.73 276.9,307.64 277.7,307.88 278.5,307.87 279.3,307.91 280.1,307.95 280.9,307.88 281.7,307.84 282.5,307.94 283.3,307.76 284.1,307.98 284.9,307.83 285.7,307.89 286.5,308.03 287.3,307.78 288.1,307.89 288.9,308.05 289.7,307.94 290.5,308.1 291.3,308.06 292.1,307.92 292.9,308.01 293.7,307.99 294.5,308.09 295.3,308.12 296.1,308.07 296.9,307.95 297.7,308.2 298.5,308 299.3,308.15 300.1,308.22 300.9,308.12 301.7,308.01 302.5,308.17 303.3,308.05 304.1,308.08 304.9,308.1 305.7,308.1 306.5,308.24 307.3,308.3 308.1,308.22 308.9,308.38 309.7,308.13 310.5,308.22 311.3,308.22 312.1,308.3 312.9,308.35 313.7,308.24 314,308.29" fill="none" stroke="#e377c2" stroke-width="1.9" stroke-linejoin="round" stroke-linecap="round"/>
<path d="M68.9,308.17 69.7,308.13 70.5,308.02 71.3,308.2 72.1,307.96 72.9,308.05 73.7,307.97 74.5,308 75.3,308.06 76.1,308.07 76.9,308.07 77.7,307.97 78.5,307.84 79.3,307.74 80.1,307.76 80.9,307.95 81.7,307.78 82.5,307.76 83.3,307.73 84.1,307.7 84.9,307.64 85.7,307.64 86.5,307.68 87.3,307.66 88.1,307.52 88.9,307.51 89.7,307.47 90.5,307.58 91.3,307.62 92.1,307.67 92.9,307.51 93.7,307.55 94.5,307.59 95.3,307.5 96.1,307.48 96.9,307.35 97.7,307.49 98.5,307.49 99.3,307.34 100.1,307.44 100.9,307.29 101.7,307.24 102.5,307.29 103.3,307.34 104.1,307.28 104.9,307.23 105.7,307.43 106.5,307.33 107.3,307.19 108.1,307.12 108.9,307.3 109.7,307.35 110.5,307.28 111.3,307.25 112.1,307.33 112.9,307.23 113.7,307.05 114.5,307.14 115.3,307.11 116.1,307.15 116.9,307.02 117.7,307.15 118.5,307.16 119.3,307.02 120.1,307.12 120.9,307.03 121.7,307.12 122.5,307.05 123.3,307.19 124.1,307.03 124.9,306.9 125.7,306.9 126.5,307.07 127.3,306.89 128.1,307.08 128.9,306.99 129.7,306.94 130.5,306.96 131.3,307.08 132.1,306.98 132.9,306.94 133.7,306.95 134.5,306.98 135.3,306.94 136.1,307.01 136.9,306.91 137.7,306.87 138.5,306.82 139.3,306.91 140.1,306.83 140.9,306.83 141.7,306.82 142.5,306.87 143.3,307.03 144.1,306.91 144.9,306.84 145.7,306.9 146.5,306.89 147.3,306.76 148.1,306.99 148.9,306.9 149.7,307.04 150.5,306.93 151.3,306.81 152.1,307.04 152.9,306.77 153.7,306.79 154.5,306.78 155.3,306.79 156.1,306.78 156.9,307.01 157.7,306.78 158.5,306.89 159.3,306.78 160.1,306.83 160.9,306.77 161.7,306.85 162.5,306.83 163.3,306.96 164.1,307.04 164.9,306.81 165.7,306.89 166.5,306.94 167.3,307.05 168.1,306.78 168.9,306.96 169.7,306.88 170.5,306.92 171.3,306.98 172.1,306.98 172.9,306.89 173.7,307.02 174.5,306.95 175.3,306.85 176.1,306.85 176.9,306.85 177.7,307.04 178.5,307.06 179.3,306.85 180.1,306.99 180.9,306.84 181.7,306.84 182.5,307.03 183.3,306.99 184.1,306.96 184.9,306.97 185.7,306.98 186.5,306.96 187.3,306.94 188.1,307.14 188.9,306.89 189.7,307.05 190.5,306.93 191.3,306.99 192.1,306.9 192.9,306.94 193.7,307.09 194.5,306.92 195.3,307.04 196.1,307.11 196.9,307.1 197.7,306.97 198.5,307.07 199.3,307.05 200.1,307.2 200.9,307.22 201.7,307.15 202.5,307.22 203.3,307.11 204.1,307.29 204.9,307.22 205.7,307.28 206.5,307.07 207.3,307.24 208.1,307.24 208.9,307.25 209.7,307.32 210.5,307.13 211.3,307.1 212.1,307.24 212.9,307.15 213.7,307.38 214.5,307.38 215.3,307.26 216.1,307.36 216.9,307.31 217.7,307.41 218.5,307.31 219.3,307.22 220.1,307.46 220.9,307.25 221.7,307.22 222.5,307.43 223.3,307.4 224.1,307.47 224.9,307.29 225.7,307.51 226.5,307.49 227.3,307.44 228.1,307.26 228.9,307.5 229.7,307.39 230.5,307.33 231.3,307.4 232.1,307.59 232.9,307.41 233.7,307.47 234.5,307.61 235.3,307.56 236.1,307.47 236.9,307.47 237.7,307.54 238.5,307.55 239.3,307.62 240.1,307.6 240.9,307.47 241.7,307.69 242.5,307.68 243.3,307.6 244.1,307.5 244.9,307.61 245.7,307.74 246.5,307.57 247.3,307.6 248.1,307.72 248.9,307.74 249.7,307.78 250.5,307.66 251.3,307.77 252.1,307.63 252.9,307.59 253.7,307.79 254.5,307.66 255.3,307.87 256.1,307.71 256.9,307.73 257.7,307.89 258.5,307.65 259.3,307.95 260.1,307.76 260.9,307.69 261.7,307.79 262.5,307.73 263.3,307.78 264.1,307.87 264.9,307.9 265.7,307.79 266.5,308.05 267.3,307.8 268.1,307.8 268.9,307.86 269.7,307.79 270.5,308.06 271.3,307.85 272.1,307.82 272.9,308.01 273.7,307.94 274.5,307.88 275.3,308 276.1,307.92 276.9,307.9 277.7,308.04 278.5,307.97 279.3,308.01 280.1,308.06 280.9,308.22 281.7,308.12 282.5,308.11 283.3,308.04 284.1,308.1 284.9,308.05 285.7,308.23 286.5,308.27 287.3,308.25 288.1,308.13 288.9,308.23 289.7,308.11 290.5,308.27 291.3,308.33 292.1,308.1 292.9,308.09 293.7,308.37 294.5,308.25 295.3,308.32 296.1,308.35 296.9,308.34 297.7,308.14 298.5,308.19 299.3,308.24 300.1,308.4 300.9,308.36 301.7,308.22 302.5,308.2 303.3,308.4 304.1,308.44 304.9,308.19 305.7,308.29 306.5,308.23 307.3,308.33 308.1,308.21 308.9,308.33 309.7,308.27 310.5,308.25 311.3,308.53 312.1,308.29 312.9,308.53 313.7,308.47 314,308.36" fill="none" stroke="#8c564b" stroke-width="1.9" stroke-linejoin="round" stroke-linecap="round"/>
<path d="M68.9,308.12 69.7,308.07 70.5,307.99 71.3,308.02 72.1,307.84 72.9,307.93 73.7,307.85 74.5,307.71 75.3,307.89 76.1,307.64 76.9,307.69 77.7,307.67 78.5,307.63 79.3,307.54 80.1,307.45 80.9,307.4 81.7,307.45 82.5,307.2 83.3,307.31 84.1,307.35 84.9,307.19 85.7,307.15 86.5,307.18 87.3,307.16 88.1,306.98 88.9,307.03 89.7,307.05 90.5,306.95 91.3,306.79 92.1,306.99 92.9,306.75 93.7,306.81 94.5,306.59 95.3,306.75 96.1,306.67 96.9,306.74 97.7,306.5 98.5,306.41 99.3,306.47 100.1,306.46 100.9,306.51 101.7,306.36 102.5,306.47 103.3,306.46 104.1,306.18 104.9,306.44 105.7,306.13 106.5,306.16 107.3,306.08 108.1,306.26 108.9,306.28 109.7,306.05 110.5,306.11 111.3,306.2 112.1,306.12 112.9,305.94 113.7,305.97 114.5,306.09 115.3,306.05 116.1,305.91 116.9,305.91 117.7,305.74 118.5,305.81 119.3,305.91 120.1,305.66 120.9,305.68 121.7,305.77 122.5,305.59 123.3,305.62 124.1,305.77 124.9,305.58 125.7,305.65 126.5,305.76 127.3,305.62 128.1,305.65 128.9,305.45 129.7,305.57 130.5,305.55 131.3,305.52 132.1,305.51 132.9,305.37 133.7,305.52 134.5,305.42 135.3,305.51 136.1,305.37 136.9,305.55 137.7,305.4 138.5,305.5 139.3,305.39 140.1,305.31 140.9,305.34 141.7,305.28 142.5,305.35 143.3,305.29 144.1,305.25 144.9,305.46 145.7,305.44 146.5,305.29 147.3,305.3 148.1,305.37 148.9,305.3 149.7,305.23 150.5,305.25 151.3,305.33 152.1,305.1 152.9,305.2 153.7,305.1 154.5,305.24 155.3,305.07 156.1,305.19 156.9,305.09 157.7,305.15 158.5,305.34 159.3,305.11 160.1,305.15 160.9,305.27 161.7,305.09 162.5,305.1 163.3,305.15 164.1,305.21 164.9,305.08 165.7,305.1 166.5,305.04 167.3,305.1 168.1,305.14 168.9,305.2 169.7,305.11 170.5,305.18 171.3,305.26 172.1,305.11 172.9,305.24 173.7,305.25 174.5,305.31 175.3,305.25 176.1,305.23 176.9,305.23 177.7,305.16 178.5,305.31 179.3,305.11 180.1,305.16 180.9,305.09 181.7,305.21 182.5,305.34 183.3,305.26 184.1,305.08 184.9,305.35 185.7,305.11 186.5,305.15 187.3,305.25 188.1,305.12 188.9,305.35 189.7,305.33 190.5,305.42 191.3,305.33 192.1,305.28 192.9,305.22 193.7,305.26 194.5,305.36 195.3,305.43 196.1,305.25 196.9,305.36 197.7,305.41 198.5,305.29 199.3,305.44 200.1,305.33 200.9,305.36 201.7,305.32 202.5,305.56 203.3,305.3 204.1,305.39 204.9,305.49 205.7,305.47 206.5,305.4 207.3,305.5 208.1,305.5 208.9,305.54 209.7,305.52 210.5,305.45 211.3,305.62 212.1,305.52 212.9,305.68 213.7,305.55 214.5,305.73 215.3,305.56 216.1,305.69 216.9,305.8 217.7,305.62 218.5,305.78 219.3,305.72 220.1,305.57 220.9,305.77 221.7,305.72 222.5,305.64 223.3,305.88 224.1,305.86 224.9,305.95 225.7,305.73 226.5,305.81 227.3,305.89 228.1,305.84 228.9,305.79 229.7,305.88 230.5,305.92 231.3,305.96 232.1,305.96 232.9,305.97 233.7,306.01 234.5,306.09 235.3,305.98 236.1,306.06 236.9,306.19 237.7,306.19 238.5,306.21 239.3,306.27 240.1,306.16 240.9,306.29 241.7,306.29 242.5,306.18 243.3,306.32 244.1,306.26 244.9,306.3 245.7,306.2 246.5,306.4 247.3,306.3 248.1,306.35 248.9,306.4 249.7,306.49 250.5,306.57 251.3,306.56 252.1,306.52 252.9,306.43 253.7,306.53 254.5,306.57 255.3,306.51 256.1,306.7 256.9,306.54 257.7,306.63 258.5,306.79 259.3,306.58 260.1,306.67 260.9,306.84 261.7,306.86 262.5,306.74 263.3,306.84 264.1,306.82 264.9,306.7 265.7,306.97 266.5,306.98 267.3,307.02 268.1,306.83 268.9,306.95 269.7,307.06 270.5,307.09 271.3,307.11 272.1,306.9 272.9,307.11 273.7,307.03 274.5,306.99 275.3,307.12 276.1,307.02 276.9,307.11 277.7,307.17 278.5,307.19 279.3,307.19 280.1,307.26 280.9,307.29 281.7,307.21 282.5,307.25 283.3,307.31 284.1,307.24 284.9,307.41 285.7,307.55 286.5,307.38 287.3,307.59 288.1,307.46 288.9,307.51 289.7,307.63 290.5,307.55 291.3,307.59 292.1,307.74 292.9,307.51 293.7,307.65 294.5,307.63 295.3,307.71 296.1,307.75 296.9,307.82 297.7,307.72 298.5,307.94 299.3,307.97 300.1,307.94 300.9,307.91 301.7,307.99 302.5,307.79 303.3,307.99 304.1,307.96 304.9,307.95 305.7,308.08 306.5,308.01 307.3,308.19 308.1,307.97 308.9,308.04 309.7,308.13 310.5,308.05 311.3,308.07 312.1,308.26 312.9,308.16 313.7,308.14 314,308.32" fill="none" stroke="#9467bd" stroke-width="1.9" stroke-linejoin="round" stroke-linecap="round"/>
<path d="M68.9,307.22 69.7,307.15 70.5,307.16 71.3,307.05 72.1,307.24 72.9,307.19 73.7,307.19 74.5,307.09 75.3,306.98 76.1,307.03 76.9,306.98 77.7,307.03 78.5,306.85 79.3,306.84 80.1,306.91 80.9,306.74 81.7,306.71 82.5,306.78 83.3,306.7 84.1,306.76 84.9,306.76 85.7,306.57 86.5,306.54 87.3,306.41 88.1,306.39 88.9,306.25 89.7,306.33 90.5,306.15 91.3,305.99 92.1,305.96 92.9,306 93.7,305.67 94.5,305.87 95.3,305.7 96.1,305.53 96.9,305.37 97.7,305.26 98.5,305.18 99.3,305.19 100.1,305.05 100.9,304.9 101.7,304.75 102.5,304.64 103.3,304.44 104.1,304.38 104.9,304.35 105.7,304.02 106.5,304.17 107.3,303.75 108.1,303.74 108.9,303.56 109.7,303.49 110.5,303.26 111.3,303.22 112.1,302.9 112.9,303 113.7,302.85 114.5,302.68 115.3,302.47 116.1,302.14 116.9,302.12 117.7,301.94 118.5,301.83 119.3,301.56 120.1,301.48 120.9,301.16 121.7,300.89 122.5,300.75 123.3,300.82 124.1,300.43 124.9,300.18 125.7,300 126.5,300.04 127.3,299.8 128.1,299.49 128.9,299.17 129.7,299.19 130.5,298.75 131.3,298.76 132.1,298.45 132.9,298.22 133.7,297.9 134.5,297.88 135.3,297.72 136.1,297.38 136.9,297.28 137.7,296.85 138.5,296.67 139.3,296.47 140.1,296.17 140.9,296.19 141.7,295.82 142.5,295.44 143.3,295.41 144.1,295.04 144.9,294.88 145.7,294.8 146.5,294.44 147.3,294.21 148.1,294.18 148.9,293.79 149.7,293.8 150.5,293.33 151.3,293.15 152.1,293.24 152.9,292.95 153.7,292.75 154.5,292.66 155.3,292.35 156.1,292.37 156.9,292.04 157.7,292.08 158.5,291.84 159.3,291.84 160.1,291.74 160.9,291.59 161.7,291.3 162.5,291.31 163.3,291.37 164.1,291.17 164.9,291.05 165.7,291.08 166.5,290.95 167.3,290.92 168.1,291.07 168.9,290.9 169.7,291.05 170.5,291.05 171.3,291.24 172.1,291.17 172.9,291.26 173.7,291.4 174.5,291.34 175.3,291.53 176.1,291.56 176.9,291.73 177.7,291.98 178.5,292.16 179.3,292.3 180.1,292.4 180.9,292.33 181.7,292.6 182.5,292.75 183.3,292.93 184.1,293.13 184.9,293.38 185.7,293.37 186.5,293.74 187.3,293.77 188.1,294.18 188.9,294.43 189.7,294.56 190.5,294.8 191.3,295.07 192.1,295.26 192.9,295.28 193.7,295.58 194.5,295.76 195.3,295.98 196.1,296.16 196.9,296.24 197.7,296.55 198.5,296.66 199.3,297.12 200.1,297.29 200.9,297.27 201.7,297.64 202.5,297.9 203.3,298.01 204.1,298.21 204.9,298.34 205.7,298.49 206.5,298.65 207.3,298.75 208.1,298.99 208.9,299.13 209.7,299.36 210.5,299.51 211.3,299.65 212.1,300.01 212.9,299.94 213.7,300.14 214.5,300.42 215.3,300.43 216.1,300.49 216.9,300.78 217.7,300.86 218.5,301.13 219.3,301.13 220.1,301.27 220.9,301.45 221.7,301.62 222.5,301.6 223.3,301.7 224.1,302.03 224.9,302 225.7,302.33 226.5,302.41 227.3,302.44 228.1,302.41 228.9,302.58 229.7,302.62 230.5,302.89 231.3,302.99 232.1,303.14 232.9,303.13 233.7,303.4 234.5,303.48 235.3,303.52 236.1,303.56 236.9,303.78 237.7,303.74 238.5,303.68 239.3,304.03 240.1,303.88 240.9,304.04 241.7,304.13 242.5,304.35 243.3,304.35 244.1,304.41 244.9,304.62 245.7,304.66 246.5,304.66 247.3,304.67 248.1,304.68 248.9,304.94 249.7,304.95 250.5,305.08 251.3,304.99 252.1,305.22 252.9,305.02 253.7,305.14 254.5,305.4 255.3,305.4 256.1,305.28 256.9,305.39 257.7,305.4 258.5,305.57 259.3,305.64 260.1,305.67 260.9,305.66 261.7,305.6 262.5,305.73 263.3,305.95 264.1,305.94 264.9,305.94 265.7,305.98 266.5,305.97 267.3,305.9 268.1,305.99 268.9,306.06 269.7,306.01 270.5,306.15 271.3,306.18 272.1,306.24 272.9,306.28 273.7,306.43 274.5,306.38 275.3,306.53 276.1,306.46 276.9,306.42 277.7,306.49 278.5,306.6 279.3,306.47 280.1,306.66 280.9,306.77 281.7,306.73 282.5,306.75 283.3,306.82 284.1,306.6 284.9,306.79 285.7,306.77 286.5,306.74 287.3,306.83 288.1,306.75 288.9,306.97 289.7,306.82 290.5,306.93 291.3,306.87 292.1,307.17 292.9,306.96 293.7,307.08 294.5,306.95 295.3,307.06 296.1,307.12 296.9,307.03 297.7,307.31 298.5,307.27 299.3,307.11 300.1,307.26 300.9,307.19 301.7,307.31 302.5,307.44 303.3,307.3 304.1,307.51 304.9,307.44 305.7,307.5 306.5,307.64 307.3,307.43 308.1,307.62 308.9,307.71 309.7,307.61 310.5,307.56 311.3,307.75 312.1,307.69 312.9,307.59 313.7,307.89 314,307.67" fill="none" stroke="#d62728" stroke-width="1.7" stroke-linejoin="round" stroke-linecap="round"/>
<path d="M68.9,304.44 69.7,304.18 70.5,304.42 71.3,304.52 72.1,304.42 72.9,304.64 73.7,304.91 74.5,304.52 75.3,304.7 76.1,304.89 76.9,304.39 77.7,304.8 78.5,304.78 79.3,304.55 80.1,304.14 80.9,304.2 81.7,304.09 82.5,304.17 83.3,303.88 84.1,304.21 84.9,304.11 85.7,303.44 86.5,303.75 87.3,303.37 88.1,303.27 88.9,303.06 89.7,302.84 90.5,302.74 91.3,302.61 92.1,302.25 92.9,302 93.7,301.87 94.5,301.55 95.3,301.59 96.1,301.32 96.9,301.19 97.7,300.9 98.5,300.64 99.3,300.15 100.1,300.01 100.9,299.56 101.7,299.7 102.5,299.5 103.3,299.06 104.1,298.67 104.9,298.26 105.7,298.08 106.5,297.89 107.3,297.39 108.1,297.1 108.9,296.43 109.7,296.15 110.5,295.96 111.3,295.75 112.1,294.98 112.9,294.68 113.7,294.13 114.5,293.53 115.3,293.16 116.1,292.89 116.9,292.18 117.7,291.69 118.5,291.17 119.3,290.64 120.1,290.05 120.9,289.47 121.7,288.96 122.5,288.15 123.3,287.43 124.1,286.95 124.9,285.96 125.7,285.29 126.5,284.27 127.3,283.85 128.1,283.04 128.9,282.46 129.7,281.13 130.5,280.41 131.3,279.89 132.1,279.06 132.9,278.15 133.7,277.04 134.5,276.6 135.3,275.55 136.1,274.89 136.9,274.07 137.7,273.18 138.5,272.32 139.3,271.67 140.1,270.64 140.9,270.34 141.7,269.81 142.5,269 143.3,268.44 144.1,267.95 144.9,267.38 145.7,266.57 146.5,266.51 147.3,266.04 148.1,265.28 148.9,265.07 149.7,264.42 150.5,264.14 151.3,263.87 152.1,263.61 152.9,263.47 153.7,263.26 154.5,262.86 155.3,262.31 156.1,262.03 156.9,261.62 157.7,261.63 158.5,261.27 159.3,261.14 160.1,260.81 160.9,260.73 161.7,260.58 162.5,260.18 163.3,260.05 164.1,260 164.9,259.57 165.7,259.72 166.5,259.32 167.3,259.38 168.1,259.44 168.9,259.47 169.7,259.45 170.5,259.82 171.3,259.58 172.1,260.06 172.9,260.21 173.7,260.15 174.5,260.48 175.3,261.08 176.1,261.36 176.9,261.78 177.7,262.36 178.5,262.4 179.3,262.89 180.1,263.88 180.9,263.99 181.7,264.7 182.5,265.04 183.3,265.5 184.1,266.46 184.9,266.98 185.7,267.27 186.5,267.71 187.3,268.69 188.1,268.96 188.9,269.83 189.7,270.1 190.5,271.12 191.3,271.19 192.1,271.89 192.9,272.41 193.7,273.23 194.5,273.91 195.3,274.09 196.1,274.92 196.9,275.74 197.7,275.99 198.5,276.76 199.3,277.33 200.1,277.65 200.9,278.58 201.7,279.09 202.5,279.44 203.3,279.84 204.1,280.34 204.9,281.33 205.7,281.69 206.5,282.2 207.3,282.66 208.1,282.94 208.9,283.55 209.7,283.98 210.5,284.98 211.3,285.49 212.1,285.66 212.9,286.26 213.7,286.71 214.5,287.39 215.3,287.85 216.1,287.78 216.9,288.7 217.7,288.94 218.5,289.21 219.3,289.88 220.1,289.84 220.9,290.7 221.7,291.14 222.5,291.05 223.3,291.54 224.1,292.34 224.9,292.69 225.7,292.85 226.5,293.41 227.3,293.24 228.1,293.78 228.9,294.37 229.7,294.22 230.5,294.71 231.3,294.92 232.1,295.5 232.9,296.04 233.7,296.04 234.5,296.54 235.3,296.37 236.1,296.86 236.9,297.47 237.7,297.74 238.5,297.57 239.3,297.78 240.1,298.1 240.9,298.75 241.7,298.5 242.5,298.83 243.3,299.09 244.1,299.4 244.9,299.82 245.7,299.88 246.5,300.26 247.3,300.28 248.1,300.7 248.9,300.61 249.7,300.96 250.5,301.01 251.3,301.22 252.1,301.26 252.9,301.84 253.7,301.71 254.5,302.23 255.3,302.23 256.1,302.06 256.9,302.69 257.7,302.81 258.5,302.81 259.3,302.76 260.1,303.25 260.9,303.05 261.7,303.55 262.5,303.66 263.3,303.31 264.1,303.59 264.9,304.1 265.7,304.1 266.5,303.88 267.3,304.1 268.1,304.49 268.9,304.06 269.7,304.25 270.5,304.68 271.3,304.58 272.1,304.83 272.9,304.78 273.7,304.92 274.5,305.1 275.3,305.22 276.1,304.93 276.9,305.29 277.7,305.6 278.5,305.66 279.3,305.2 280.1,305.54 280.9,305.41 281.7,305.94 282.5,305.57 283.3,306.01 284.1,305.77 284.9,306.14 285.7,305.69 286.5,306.01 287.3,306.1 288.1,306.04 288.9,306.01 289.7,306.38 290.5,305.99 291.3,306.48 292.1,306.55 292.9,306.55 293.7,306.48 294.5,306.39 295.3,306.46 296.1,306.36 296.9,306.41 297.7,306.6 298.5,306.36 299.3,306.36 300.1,306.8 300.9,307.01 301.7,306.89 302.5,306.55 303.3,306.6 304.1,306.6 304.9,306.95 305.7,307.08 306.5,306.93 307.3,306.72 308.1,307.29 308.9,307.22 309.7,306.89 310.5,307.34 311.3,307.41 312.1,307.07 312.9,307.26 313.7,306.96 314,307.18" fill="none" stroke="#2ca02c" stroke-width="1.7" stroke-linejoin="round" stroke-linecap="round"/>
<path d="M68.9,301.33 69.7,301.8 70.5,301.71 71.3,301.46 72.1,301.8 72.9,301.47 73.7,301.48 74.5,301.73 75.3,302.01 76.1,302.1 76.9,301.76 77.7,301.77 78.5,301.88 79.3,301.86 80.1,302.04 80.9,301.9 81.7,301.74 82.5,301.72 83.3,301.84 84.1,301.49 84.9,301.47 85.7,301.39 86.5,301.28 87.3,301.05 88.1,301.19 88.9,301.08 89.7,300.69 90.5,300.86 91.3,300.23 92.1,300.08 92.9,299.88 93.7,299.56 94.5,299.38 95.3,298.47 96.1,298.09 96.9,297.64 97.7,297.18 98.5,296.84 99.3,296.4 100.1,295.95 100.9,295.39 101.7,294.58 102.5,293.85 103.3,293.06 104.1,292.14 104.9,291.33 105.7,290.55 106.5,289.51 107.3,288.88 108.1,287.69 108.9,287.11 109.7,285.69 110.5,284.88 111.3,283.48 112.1,282.33 112.9,281.3 113.7,280.17 114.5,279.22 115.3,277.51 116.1,276.16 116.9,274.92 117.7,274.09 118.5,272.3 119.3,271.47 120.1,269.65 120.9,268.67 121.7,266.88 122.5,265.71 123.3,263.89 124.1,262.22 124.9,260.33 125.7,258.82 126.5,257.04 127.3,255.47 128.1,253.34 128.9,251.65 129.7,249.53 130.5,247.8 131.3,246.01 132.1,243.99 132.9,242.58 133.7,240.99 134.5,239.16 135.3,237.35 136.1,235.66 136.9,234.12 137.7,232.76 138.5,230.79 139.3,229.01 140.1,227.54 140.9,226.12 141.7,224.65 142.5,222.73 143.3,221.52 144.1,219.91 144.9,218.79 145.7,217.67 146.5,216.39 147.3,215.33 148.1,214.8 148.9,213.61 149.7,213.19 150.5,212.17 151.3,211.6 152.1,211.06 152.9,210.87 153.7,209.85 154.5,209.26 155.3,208.73 156.1,207.79 156.9,207.16 157.7,205.88 158.5,204.82 159.3,204.33 160.1,203.3 160.9,202.57 161.7,201.61 162.5,201.36 163.3,200.64 164.1,199.76 164.9,199.36 165.7,198.82 166.5,199.04 167.3,198.33 168.1,198.38 168.9,198.23 169.7,198.45 170.5,198.67 171.3,198.69 172.1,199.19 172.9,199.63 173.7,199.83 174.5,200.82 175.3,201.07 176.1,201.86 176.9,202.85 177.7,203.28 178.5,203.98 179.3,205.07 180.1,205.99 180.9,207.05 181.7,208.66 182.5,209.67 183.3,210.6 184.1,211.98 184.9,213.26 185.7,214.43 186.5,215.87 187.3,217.09 188.1,219.03 188.9,220.16 189.7,221.64 190.5,223.27 191.3,224.58 192.1,226 192.9,227.63 193.7,229 194.5,230.37 195.3,232.11 196.1,233.18 196.9,234.94 197.7,236.14 198.5,237.77 199.3,238.98 200.1,240.56 200.9,241.81 201.7,243.32 202.5,244.37 203.3,245.48 204.1,246.96 204.9,247.99 205.7,249.26 206.5,250.25 207.3,250.89 208.1,252.21 208.9,252.84 209.7,254.34 210.5,255.11 211.3,256.09 212.1,256.97 212.9,257.83 213.7,259.06 214.5,260.16 215.3,261.21 216.1,262.83 216.9,263.55 217.7,264.85 218.5,265.83 219.3,267.32 220.1,267.98 220.9,269.58 221.7,270.14 222.5,271.21 223.3,272.31 224.1,273.19 224.9,273.99 225.7,275.31 226.5,275.75 227.3,276.74 228.1,277.41 228.9,278.23 229.7,279.21 230.5,280.08 231.3,280.48 232.1,281.46 232.9,282.1 233.7,283.15 234.5,283.81 235.3,284.21 236.1,284.9 236.9,285.11 237.7,285.99 238.5,286.78 239.3,287.32 240.1,287.77 240.9,288.33 241.7,288.95 242.5,289.24 243.3,289.48 244.1,290.26 244.9,290.47 245.7,291.31 246.5,291.34 247.3,292.17 248.1,292.47 248.9,292.88 249.7,293.01 250.5,293.56 251.3,293.97 252.1,294.62 252.9,294.81 253.7,295.19 254.5,295.68 255.3,295.69 256.1,296.13 256.9,296.41 257.7,296.65 258.5,296.88 259.3,297.2 260.1,297.33 260.9,298.13 261.7,297.99 262.5,298.62 263.3,298.59 264.1,298.83 264.9,298.91 265.7,299.43 266.5,299.5 267.3,299.83 268.1,300.3 268.9,300.63 269.7,300.32 270.5,300.92 271.3,301.23 272.1,301.41 272.9,301.59 273.7,301.76 274.5,301.77 275.3,301.69 276.1,301.96 276.9,302.49 277.7,302.41 278.5,302.63 279.3,302.92 280.1,302.9 280.9,302.97 281.7,303.13 282.5,303.65 283.3,303.51 284.1,303.82 284.9,303.92 285.7,303.84 286.5,304 287.3,304.19 288.1,304.31 288.9,304.48 289.7,304.36 290.5,304.61 291.3,304.9 292.1,304.72 292.9,304.92 293.7,305.22 294.5,305.25 295.3,305.3 296.1,305.11 296.9,305.55 297.7,305.68 298.5,305.39 299.3,305.51 300.1,306.03 300.9,305.85 301.7,306.14 302.5,305.78 303.3,306.35 304.1,306.25 304.9,306.11 305.7,306.47 306.5,306.44 307.3,306.34 308.1,306.87 308.9,306.37 309.7,306.62 310.5,307.01 311.3,307.1 312.1,306.76 312.9,307.3 313.7,306.85 314,307.04" fill="none" stroke="#ff7f0e" stroke-width="1.7" stroke-linejoin="round" stroke-linecap="round"/>
<path d="M68.9,300.97 69.7,300.95 70.5,301.19 71.3,301.37 72.1,301.57 72.9,301.69 73.7,301.81 74.5,302.02 75.3,302.17 76.1,302.38 76.9,302.36 77.7,302.48 78.5,302.84 79.3,302.93 80.1,303.08 80.9,303.19 81.7,303.13 82.5,303.28 83.3,303.62 84.1,303.62 84.9,303.67 85.7,303.9 86.5,303.84 87.3,304.16 88.1,304.17 88.9,304.12 89.7,304.37 90.5,304.38 91.3,304.39 92.1,304.42 92.9,304.5 93.7,304.67 94.5,304.71 95.3,304.92 96.1,304.81 96.9,304.93 97.7,305.07 98.5,305.09 99.3,305.1 100.1,305.21 100.9,305.17 101.7,305.26 102.5,305.25 103.3,305.13 104.1,305.28 104.9,305.34 105.7,305.34 106.5,305.27 107.3,305.16 108.1,305.33 108.9,305.4 109.7,305.42 110.5,305.33 111.3,305.29 112.1,305.2 112.9,305.17 113.7,305.34 114.5,305.08 115.3,305.18 116.1,305.11 116.9,305.11 117.7,305.25 118.5,304.93 119.3,305.09 120.1,305.04 120.9,304.79 121.7,304.78 122.5,304.75 123.3,304.65 124.1,304.65 124.9,304.71 125.7,304.69 126.5,304.5 127.3,304.38 128.1,304.35 128.9,304.18 129.7,304.16 130.5,304 131.3,303.96 132.1,303.84 132.9,303.78 133.7,303.68 134.5,303.58 135.3,303.41 136.1,303.28 136.9,303.17 137.7,303.09 138.5,302.82 139.3,302.87 140.1,302.74 140.9,302.47 141.7,302.54 142.5,302.33 143.3,302.23 144.1,301.96 144.9,301.97 145.7,301.6 146.5,301.53 147.3,301.36 148.1,301.13 148.9,301.01 149.7,300.98 150.5,300.53 151.3,300.57 152.1,300.22 152.9,300.15 153.7,300.02 154.5,299.79 155.3,299.7 156.1,299.51 156.9,299.1 157.7,298.98 158.5,298.95 159.3,298.77 160.1,298.53 160.9,298.22 161.7,298.09 162.5,297.96 163.3,297.86 164.1,297.76 164.9,297.46 165.7,297.42 166.5,297.28 167.3,297.05 168.1,297.06 168.9,296.73 169.7,296.77 170.5,296.49 171.3,296.53 172.1,296.33 172.9,296.19 173.7,296.25 174.5,296.03 175.3,296.07 176.1,295.92 176.9,295.73 177.7,295.75 178.5,295.68 179.3,295.63 180.1,295.57 180.9,295.72 181.7,295.69 182.5,295.76 183.3,295.67 184.1,295.59 184.9,295.87 185.7,295.87 186.5,295.94 187.3,295.87 188.1,295.87 188.9,296.14 189.7,295.95 190.5,296.17 191.3,296.12 192.1,296.26 192.9,296.55 193.7,296.63 194.5,296.62 195.3,296.6 196.1,296.84 196.9,297.08 197.7,297.18 198.5,297.07 199.3,297.26 200.1,297.46 200.9,297.46 201.7,297.69 202.5,297.89 203.3,297.94 204.1,298.24 204.9,298.44 205.7,298.38 206.5,298.61 207.3,298.82 208.1,298.81 208.9,299.07 209.7,299.24 210.5,299.48 211.3,299.56 212.1,299.81 212.9,299.92 213.7,299.91 214.5,300.25 215.3,300.33 216.1,300.51 216.9,300.64 217.7,300.83 218.5,300.93 219.3,301.09 220.1,301.38 220.9,301.33 221.7,301.53 222.5,301.68 223.3,301.72 224.1,301.89 224.9,302.14 225.7,302.44 226.5,302.44 227.3,302.48 228.1,302.55 228.9,302.75 229.7,303.07 230.5,303 231.3,303.28 232.1,303.32 232.9,303.28 233.7,303.63 234.5,303.59 235.3,303.57 236.1,303.93 236.9,303.94 237.7,303.88 238.5,304.06 239.3,304.15 240.1,304.18 240.9,304.38 241.7,304.53 242.5,304.55 243.3,304.48 244.1,304.79 244.9,304.75 245.7,304.68 246.5,304.95 247.3,305.04 248.1,305.07 248.9,305.17 249.7,305.09 250.5,305.01 251.3,305.31 252.1,305.3 252.9,305.44 253.7,305.49 254.5,305.43 255.3,305.31 256.1,305.59 256.9,305.39 257.7,305.52 258.5,305.57 259.3,305.52 260.1,305.61 260.9,305.76 261.7,305.62 262.5,305.81 263.3,305.7 264.1,305.71 264.9,305.97 265.7,305.8 266.5,305.75 267.3,305.96 268.1,305.95 268.9,305.99 269.7,306.13 270.5,305.95 271.3,306.06 272.1,306.15 272.9,305.99 273.7,306.14 274.5,306.06 275.3,306.28 276.1,306.02 276.9,306.09 277.7,306.27 278.5,306.09 279.3,306.28 280.1,306.21 280.9,306.32 281.7,306.34 282.5,306.37 283.3,306.46 284.1,306.25 284.9,306.24 285.7,306.33 286.5,306.28 287.3,306.4 288.1,306.6 288.9,306.39 289.7,306.46 290.5,306.39 291.3,306.61 292.1,306.55 292.9,306.61 293.7,306.76 294.5,306.59 295.3,306.72 296.1,306.64 296.9,306.87 297.7,306.92 298.5,306.77 299.3,306.97 300.1,306.78 300.9,306.78 301.7,306.92 302.5,306.94 303.3,306.95 304.1,307.03 304.9,307.04 305.7,307.13 306.5,307.28 307.3,307.19 308.1,307.35 308.9,307.48 309.7,307.44 310.5,307.37 311.3,307.48 312.1,307.5 312.9,307.61 313.7,307.81 314,307.83" fill="none" stroke="#1f77b4" stroke-width="1.7" stroke-linejoin="round" stroke-linecap="round"/>
</g>
<g clip-path="url(#cl3)">
<path d="M55,440.18 55.8,440.1 56.6,440.31 57.4,440.46 58.2,440.34 59,440.4 59.8,440.42 60.6,440.41 61.4,440.56 62.2,440.31 63,440.41 63.8,440.56 64.6,440.3 65.4,440.53 66.2,440.4 67,440.34 67.8,440.44 68.6,440.42 69.4,440.13 70.2,440.1 71,440 71.8,440.02 72.6,440.01 73.4,439.88 74.2,439.89 75,439.62 75.8,439.53 76.6,439.56 77.4,439.42 78.2,439.34 79,439.29 79.8,439.15 80.6,438.87 81.4,438.75 82.2,438.59 83,438.67 83.8,438.58 84.6,438.39 85.4,438.11 86.2,438.04 87,437.81 87.8,437.48 88.6,437.29 89.4,437.31 90.2,437.03 91,436.87 91.8,436.58 92.6,436.33 93.4,436.09 94.2,435.95 95,435.7 95.8,435.48 96.6,435.21 97.4,435.04 98.2,434.58 99,434.56 99.8,434.08 100.6,433.86 101.4,433.53 102.2,433.16 103,432.88 103.8,432.56 104.6,432.4 105.4,431.97 106.2,431.8 107,431.44 107.8,431.2 108.6,430.66 109.4,430.33 110.2,430.09 111,429.76 111.8,429.4 112.6,429.05 113.4,428.64 114.2,428 115,427.76 115.8,427.41 116.6,427.08 117.4,426.55 118.2,426.1 119,425.63 119.8,425.27 120.6,424.85 121.4,424.56 122.2,424.08 123,423.91 123.8,423.33 124.6,423.11 125.4,422.66 126.2,422.31 127,421.94 127.8,421.69 128.6,421.49 129.4,421.12 130.2,420.83 131,420.48 131.8,420.27 132.6,420.2 133.4,419.76 134.2,419.74 135,419.62 135.8,419.4 136.6,419.22 137.4,419.08 138.2,419.13 139,419.05 139.8,418.86 140.6,418.87 141.4,419 142.2,418.76 143,419.02 143.8,418.95 144.6,418.85 145.4,419.11 146.2,418.97 147,419.12 147.8,419.12 148.6,419.08 149.4,419.21 150.2,419.22 151,419.46 151.8,419.61 152.6,419.43 153.4,419.56 154.2,419.73 155,419.87 155.8,419.93 156.6,420.12 157.4,420.34 158.2,420.22 159,420.37 159.8,420.62 160.6,420.84 161.4,421.04 162.2,421.15 163,421.45 163.8,421.68 164.6,421.86 165.4,421.91 166.2,422.32 167,422.42 167.8,422.71 168.6,422.95 169.4,422.95 170.2,423.49 171,423.68 171.8,423.89 172.6,424.16 173.4,424.31 174.2,424.63 175,424.83 175.8,425.07 176.6,425.37 177.4,425.63 178.2,426.02 179,426.17 179.8,426.34 180.6,426.79 181.4,427.03 182.2,427.35 183,427.53 183.8,427.58 184.6,427.86 185.4,428.35 186.2,428.51 187,428.68 187.8,429.05 188.6,429.04 189.4,429.49 190.2,429.53 191,429.69 191.8,430.16 192.6,430.37 193.4,430.33 194.2,430.74 195,431.03 195.8,431.21 196.6,431.32 197.4,431.59 198.2,431.78 199,431.88 199.8,432.19 200.6,432.15 201.4,432.34 202.2,432.57 203,432.9 203.8,432.84 204.6,433.07 205.4,433.3 206.2,433.61 207,433.63 207.8,433.93 208.6,433.82 209.4,434.06 210.2,434.14 211,434.3 211.8,434.65 212.6,434.64 213.4,434.81 214.2,434.96 215,434.96 215.8,435.38 216.6,435.4 217.4,435.63 218.2,435.51 219,435.78 219.8,435.96 220.6,436.06 221.4,436.08 222.2,436.32 223,436.46 223.8,436.5 224.6,436.63 225.4,436.57 226.2,436.8 227,436.92 227.8,436.88 228.6,437.13 229.4,437.05 230.2,437.34 231,437.32 231.8,437.3 232.6,437.48 233.4,437.7 234.2,437.67 235,437.79 235.8,437.85 236.6,437.81 237.4,438.01 238.2,438.08 239,438.24 239.8,438.17 240.6,438.17 241.4,438.48 242.2,438.52 243,438.37 243.8,438.49 244.6,438.73 245.4,438.65 246.2,438.7 247,438.85 247.8,438.99 248.6,438.98 249.4,438.84 250.2,439.01 251,439.23 251.8,439.18 252.6,439.21 253.4,439.29 254.2,439.35 255,439.18 255.8,439.47 256.6,439.31 257.4,439.44 258.2,439.41 259,439.38 259.8,439.46 260.6,439.59 261.4,439.7 262.2,439.64 263,439.68 263.8,439.84 264.6,439.8 265.4,439.85 266.2,439.86 267,439.79 267.8,440.02 268.6,439.85 269.4,439.85 270.2,440.08 271,439.97 271.8,440.08 272.6,440.03 273.4,439.97 274.2,440.04 275,440.05 275.8,440.1 276.6,440.11 277.4,440.01 278.2,440.09 278.3,440.24" fill="none" stroke="#bcbd22" stroke-width="1.7" stroke-linejoin="round" stroke-linecap="round"/>
<path d="M55,440.45 55.8,440.37 56.6,440.53 57.4,440.37 58.2,440.56 59,440.59 59.8,440.47 60.6,440.42 61.4,440.57 62.2,440.49 63,440.32 63.8,440.46 64.6,440.55 65.4,440.53 66.2,440.54 67,440.38 67.8,440.57 68.6,440.53 69.4,440.41 70.2,440.54 71,440.43 71.8,440.37 72.6,440.48 73.4,440.54 74.2,440.53 75,440.54 75.8,440.59 76.6,440.53 77.4,440.59 78.2,440.43 79,440.39 79.8,440.4 80.6,440.41 81.4,440.42 82.2,440.44 83,440.33 83.8,440.47 84.6,440.48 85.4,440.41 86.2,440.38 87,440.6 87.8,440.54 88.6,440.54 89.4,440.51 90.2,440.33 91,440.39 91.8,440.52 92.6,440.54 93.4,440.36 94.2,440.48 95,440.53 95.8,440.55 96.6,440.34 97.4,440.54 98.2,440.48 99,440.59 99.8,440.32 100.6,440.52 101.4,440.59 102.2,440.55 103,440.38 103.8,440.43 104.6,440.59 105.4,440.48 106.2,440.44 107,440.42 107.8,440.45 108.6,440.33 109.4,440.42 110.2,440.57 111,440.57 111.8,440.36 112.6,440.51 113.4,440.58 114.2,440.37 115,440.41 115.8,440.48 116.6,440.39 117.4,440.51 118.2,440.54 119,440.42 119.8,440.56 120.6,440.61 121.4,440.37 122.2,440.51 123,440.34 123.8,440.52 124.6,440.32 125.4,440.42 126.2,440.53 127,440.51 127.8,440.43 128.6,440.36 129.4,440.55 130.2,440.48 131,440.37 131.8,440.57 132.6,440.53 133.4,440.51 134.2,440.44 135,440.53 135.8,440.35 136.6,440.38 137.4,440.51 138.2,440.44 139,440.4 139.8,440.32 140.6,440.37 141.4,440.54 142.2,440.33 143,440.5 143.8,440.43 144.6,440.43 145.4,440.42 146.2,440.6 147,440.6 147.8,440.46 148.6,440.56 149.4,440.47 150.2,440.56 151,440.6 151.8,440.41 152.6,440.49 153.4,440.4 154.2,440.53 155,440.39 155.8,440.57 156.6,440.6 157.4,440.36 158.2,440.52 159,440.33 159.8,440.32 160.6,440.34 161.4,440.46 162.2,440.57 163,440.34 163.8,440.59 164.6,440.45 165.4,440.38 166.2,440.51 167,440.56 167.8,440.46 168.6,440.46 169.4,440.57 170.2,440.59 171,440.36 171.8,440.5 172.6,440.6 173.4,440.59 174.2,440.36 175,440.61 175.8,440.52 176.6,440.59 177.4,440.43 178.2,440.62 179,440.55 179.8,440.39 180.6,440.48 181.4,440.33 182.2,440.54 183,440.49 183.8,440.41 184.6,440.49 185.4,440.59 186.2,440.39 187,440.45 187.8,440.41 188.6,440.57 189.4,440.38 190.2,440.61 191,440.52 191.8,440.62 192.6,440.4 193.4,440.43 194.2,440.4 195,440.55 195.8,440.35 196.6,440.35 197.4,440.58 198.2,440.56 199,440.58 199.8,440.51 200.6,440.4 201.4,440.4 202.2,440.57 203,440.38 203.8,440.39 204.6,440.57 205.4,440.58 206.2,440.4 207,440.39 207.8,440.62 208.6,440.39 209.4,440.52 210.2,440.61 211,440.35 211.8,440.37 212.6,440.49 213.4,440.39 214.2,440.62 215,440.47 215.8,440.6 216.6,440.54 217.4,440.41 218.2,440.4 219,440.48 219.8,440.46 220.6,440.61 221.4,440.41 222.2,440.42 223,440.42 223.8,440.55 224.6,440.54 225.4,440.5 226.2,440.38 227,440.52 227.8,440.5 228.6,440.57 229.4,440.43 230.2,440.42 231,440.58 231.8,440.33 232.6,440.61 233.4,440.56 234.2,440.56 235,440.46 235.8,440.41 236.6,440.42 237.4,440.51 238.2,440.37 239,440.61 239.8,440.59 240.6,440.44 241.4,440.57 242.2,440.59 243,440.59 243.8,440.62 244.6,440.33 245.4,440.58 246.2,440.59 247,440.61 247.8,440.54 248.6,440.39 249.4,440.52 250.2,440.51 251,440.4 251.8,440.38 252.6,440.58 253.4,440.53 254.2,440.38 255,440.46 255.8,440.43 256.6,440.63 257.4,440.53 258.2,440.41 259,440.42 259.8,440.6 260.6,440.5 261.4,440.5 262.2,440.5 263,440.39 263.8,440.34 264.6,440.49 265.4,440.4 266.2,440.6 267,440.48 267.8,440.44 268.6,440.61 269.4,440.53 270.2,440.58 271,440.56 271.8,440.54 272.6,440.58 273.4,440.45 274.2,440.5 275,440.42 275.8,440.59 276.6,440.46 277.4,440.45 278.2,440.54 278.3,440.35" fill="none" stroke="#7f7f7f" stroke-width="1.9" stroke-linejoin="round" stroke-linecap="round"/>
<path d="M55,440.55 55.8,440.8 56.6,440.59 57.4,440.72 58.2,440.66 59,440.68 59.8,440.61 60.6,440.73 61.4,440.55 62.2,440.61 63,440.78 63.8,440.75 64.6,440.71 65.4,440.62 66.2,440.54 67,440.58 67.8,440.82 68.6,440.83 69.4,440.65 70.2,440.74 71,440.67 71.8,440.79 72.6,440.67 73.4,440.8 74.2,440.55 75,440.78 75.8,440.66 76.6,440.83 77.4,440.6 78.2,440.58 79,440.72 79.8,440.68 80.6,440.6 81.4,440.59 82.2,440.66 83,440.78 83.8,440.71 84.6,440.75 85.4,440.6 86.2,440.72 87,440.55 87.8,440.54 88.6,440.56 89.4,440.58 90.2,440.8 91,440.82 91.8,440.7 92.6,440.64 93.4,440.66 94.2,440.77 95,440.73 95.8,440.68 96.6,440.74 97.4,440.7 98.2,440.83 99,440.6 99.8,440.77 100.6,440.56 101.4,440.82 102.2,440.79 103,440.82 103.8,440.6 104.6,440.76 105.4,440.64 106.2,440.68 107,440.75 107.8,440.66 108.6,440.83 109.4,440.57 110.2,440.66 111,440.59 111.8,440.82 112.6,440.73 113.4,440.74 114.2,440.69 115,440.64 115.8,440.55 116.6,440.67 117.4,440.66 118.2,440.68 119,440.74 119.8,440.62 120.6,440.61 121.4,440.58 122.2,440.78 123,440.84 123.8,440.6 124.6,440.62 125.4,440.6 126.2,440.66 127,440.71 127.8,440.82 128.6,440.6 129.4,440.63 130.2,440.82 131,440.58 131.8,440.82 132.6,440.83 133.4,440.79 134.2,440.6 135,440.71 135.8,440.78 136.6,440.7 137.4,440.62 138.2,440.74 139,440.77 139.8,440.75 140.6,440.6 141.4,440.57 142.2,440.64 143,440.76 143.8,440.7 144.6,440.84 145.4,440.63 146.2,440.8 147,440.56 147.8,440.61 148.6,440.57 149.4,440.76 150.2,440.83 151,440.65 151.8,440.64 152.6,440.58 153.4,440.62 154.2,440.65 155,440.59 155.8,440.72 156.6,440.67 157.4,440.57 158.2,440.76 159,440.68 159.8,440.67 160.6,440.81 161.4,440.64 162.2,440.79 163,440.59 163.8,440.83 164.6,440.58 165.4,440.81 166.2,440.85 167,440.65 167.8,440.72 168.6,440.74 169.4,440.8 170.2,440.64 171,440.76 171.8,440.68 172.6,440.56 173.4,440.75 174.2,440.82 175,440.69 175.8,440.67 176.6,440.71 177.4,440.84 178.2,440.74 179,440.79 179.8,440.78 180.6,440.56 181.4,440.75 182.2,440.85 183,440.74 183.8,440.62 184.6,440.72 185.4,440.84 186.2,440.68 187,440.63 187.8,440.84 188.6,440.77 189.4,440.66 190.2,440.67 191,440.57 191.8,440.58 192.6,440.8 193.4,440.78 194.2,440.76 195,440.85 195.8,440.66 196.6,440.84 197.4,440.77 198.2,440.56 199,440.7 199.8,440.78 200.6,440.71 201.4,440.64 202.2,440.84 203,440.69 203.8,440.66 204.6,440.72 205.4,440.65 206.2,440.66 207,440.76 207.8,440.56 208.6,440.6 209.4,440.61 210.2,440.65 211,440.69 211.8,440.59 212.6,440.82 213.4,440.58 214.2,440.58 215,440.77 215.8,440.66 216.6,440.63 217.4,440.73 218.2,440.56 219,440.63 219.8,440.7 220.6,440.85 221.4,440.68 222.2,440.78 223,440.75 223.8,440.58 224.6,440.74 225.4,440.8 226.2,440.83 227,440.73 227.8,440.72 228.6,440.75 229.4,440.82 230.2,440.81 231,440.82 231.8,440.85 232.6,440.68 233.4,440.83 234.2,440.75 235,440.84 235.8,440.76 236.6,440.76 237.4,440.78 238.2,440.7 239,440.77 239.8,440.84 240.6,440.61 241.4,440.74 242.2,440.74 243,440.76 243.8,440.8 244.6,440.67 245.4,440.58 246.2,440.65 247,440.84 247.8,440.79 248.6,440.85 249.4,440.73 250.2,440.84 251,440.67 251.8,440.73 252.6,440.79 253.4,440.67 254.2,440.61 255,440.6 255.8,440.72 256.6,440.65 257.4,440.68 258.2,440.82 259,440.8 259.8,440.58 260.6,440.73 261.4,440.71 262.2,440.64 263,440.62 263.8,440.6 264.6,440.79 265.4,440.83 266.2,440.69 267,440.82 267.8,440.66 268.6,440.58 269.4,440.81 270.2,440.68 271,440.67 271.8,440.68 272.6,440.86 273.4,440.61 274.2,440.59 275,440.72 275.8,440.8 276.6,440.57 277.4,440.71 278.2,440.85 278.3,440.71" fill="none" stroke="#17becf" stroke-width="1.9" stroke-linejoin="round" stroke-linecap="round"/>
<path d="M55,440.67 55.8,440.65 56.6,440.73 57.4,440.55 58.2,440.53 59,440.39 59.8,440.52 60.6,440.36 61.4,440.36 62.2,440.16 63,440.2 63.8,439.97 64.6,440.08 65.4,440 66.2,439.88 67,439.8 67.8,439.89 68.6,439.84 69.4,439.84 70.2,439.74 71,439.76 71.8,439.53 72.6,439.37 73.4,439.47 74.2,439.36 75,439.39 75.8,439.32 76.6,439.4 77.4,439.36 78.2,439.23 79,439.06 79.8,439.01 80.6,438.93 81.4,438.86 82.2,438.91 83,438.92 83.8,438.81 84.6,438.77 85.4,438.68 86.2,438.64 87,438.76 87.8,438.55 88.6,438.4 89.4,438.53 90.2,438.48 91,438.28 91.8,438.38 92.6,438.42 93.4,438.21 94.2,438.19 95,438.25 95.8,438.19 96.6,438.24 97.4,438.01 98.2,438.02 99,437.9 99.8,438.11 100.6,437.88 101.4,437.97 102.2,437.86 103,437.69 103.8,437.89 104.6,437.65 105.4,437.56 106.2,437.79 107,437.56 107.8,437.46 108.6,437.45 109.4,437.58 110.2,437.55 111,437.45 111.8,437.42 112.6,437.33 113.4,437.48 114.2,437.21 115,437.18 115.8,437.37 116.6,437.35 117.4,437.28 118.2,437.33 119,437.27 119.8,437.08 120.6,436.99 121.4,437.1 122.2,436.91 123,437 123.8,436.86 124.6,437.05 125.4,436.8 126.2,437.01 127,437.02 127.8,436.75 128.6,436.84 129.4,436.69 130.2,436.72 131,436.65 131.8,436.73 132.6,436.63 133.4,436.71 134.2,436.78 135,436.69 135.8,436.8 136.6,436.73 137.4,436.74 138.2,436.54 139,436.65 139.8,436.67 140.6,436.7 141.4,436.65 142.2,436.48 143,436.65 143.8,436.49 144.6,436.58 145.4,436.33 146.2,436.48 147,436.5 147.8,436.56 148.6,436.48 149.4,436.36 150.2,436.38 151,436.42 151.8,436.26 152.6,436.31 153.4,436.5 154.2,436.27 155,436.41 155.8,436.2 156.6,436.25 157.4,436.19 158.2,436.29 159,436.21 159.8,436.15 160.6,436.43 161.4,436.25 162.2,436.21 163,436.18 163.8,436.18 164.6,436.23 165.4,436.27 166.2,436.16 167,436.32 167.8,436.17 168.6,436.34 169.4,436.2 170.2,436.31 171,436.35 171.8,436.2 172.6,436.41 173.4,436.34 174.2,436.25 175,436.27 175.8,436.29 176.6,436.46 177.4,436.41 178.2,436.19 179,436.44 179.8,436.35 180.6,436.44 181.4,436.25 182.2,436.31 183,436.51 183.8,436.49 184.6,436.43 185.4,436.41 186.2,436.34 187,436.39 187.8,436.44 188.6,436.43 189.4,436.46 190.2,436.53 191,436.62 191.8,436.56 192.6,436.61 193.4,436.42 194.2,436.56 195,436.52 195.8,436.47 196.6,436.53 197.4,436.73 198.2,436.78 199,436.63 199.8,436.55 200.6,436.7 201.4,436.6 202.2,436.71 203,436.63 203.8,436.8 204.6,436.73 205.4,436.75 206.2,436.75 207,436.78 207.8,436.96 208.6,437.01 209.4,436.84 210.2,436.84 211,437 211.8,436.94 212.6,436.92 213.4,437.13 214.2,437.12 215,437.07 215.8,437.26 216.6,437.17 217.4,437.23 218.2,437.24 219,437.34 219.8,437.42 220.6,437.21 221.4,437.35 222.2,437.43 223,437.51 223.8,437.53 224.6,437.33 225.4,437.4 226.2,437.63 227,437.51 227.8,437.73 228.6,437.64 229.4,437.68 230.2,437.66 231,437.61 231.8,437.76 232.6,437.86 233.4,437.76 234.2,437.82 235,437.95 235.8,437.99 236.6,438.04 237.4,437.94 238.2,438.17 239,438.11 239.8,438.31 240.6,438.11 241.4,438.12 242.2,438.39 243,438.46 243.8,438.31 244.6,438.4 245.4,438.5 246.2,438.54 247,438.6 247.8,438.74 248.6,438.79 249.4,438.54 250.2,438.61 251,438.79 251.8,438.78 252.6,438.78 253.4,438.93 254.2,438.93 255,439.16 255.8,439.22 256.6,439.24 257.4,439.14 258.2,439.32 259,439.27 259.8,439.18 260.6,439.44 261.4,439.51 262.2,439.38 263,439.57 263.8,439.66 264.6,439.55 265.4,439.65 266.2,439.84 267,439.93 267.8,439.76 268.6,439.91 269.4,439.91 270.2,440.13 271,440.18 271.8,440.07 272.6,440.2 273.4,440.22 274.2,440.26 275,440.45 275.8,440.31 276.6,440.4 277.4,440.61 278.2,440.61 278.3,440.6" fill="none" stroke="#fdd23b" stroke-width="1.9" stroke-linejoin="round" stroke-linecap="round"/>
<path d="M55,440.62 55.8,440.63 56.6,440.66 57.4,440.75 58.2,440.72 59,440.66 59.8,440.58 60.6,440.59 61.4,440.55 62.2,440.63 63,440.56 63.8,440.55 64.6,440.51 65.4,440.43 66.2,440.37 67,440.35 67.8,440.47 68.6,440.44 69.4,440.21 70.2,440.42 71,440.15 71.8,440.22 72.6,440.09 73.4,440.07 74.2,440.18 75,440.27 75.8,440.07 76.6,440.03 77.4,440.2 78.2,440.18 79,440.21 79.8,440.16 80.6,439.97 81.4,439.95 82.2,439.95 83,440.07 83.8,440.09 84.6,439.92 85.4,440.09 86.2,440.01 87,439.86 87.8,439.96 88.6,439.84 89.4,439.98 90.2,439.89 91,439.87 91.8,439.84 92.6,439.76 93.4,439.82 94.2,439.88 95,439.66 95.8,439.8 96.6,439.78 97.4,439.72 98.2,439.66 99,439.65 99.8,439.61 100.6,439.78 101.4,439.53 102.2,439.52 103,439.67 103.8,439.7 104.6,439.46 105.4,439.52 106.2,439.68 107,439.69 107.8,439.59 108.6,439.52 109.4,439.51 110.2,439.6 111,439.64 111.8,439.49 112.6,439.53 113.4,439.56 114.2,439.55 115,439.43 115.8,439.3 116.6,439.56 117.4,439.39 118.2,439.46 119,439.43 119.8,439.26 120.6,439.23 121.4,439.36 122.2,439.48 123,439.37 123.8,439.44 124.6,439.28 125.4,439.34 126.2,439.4 127,439.24 127.8,439.27 128.6,439.42 129.4,439.2 130.2,439.17 131,439.25 131.8,439.21 132.6,439.31 133.4,439.22 134.2,439.29 135,439.15 135.8,439.31 136.6,439.35 137.4,439.15 138.2,439.21 139,439.34 139.8,439.07 140.6,439.09 141.4,439.13 142.2,439.17 143,439.16 143.8,439.03 144.6,439.11 145.4,439.03 146.2,439.13 147,439.11 147.8,439.13 148.6,439.18 149.4,439 150.2,439.22 151,439.18 151.8,439.01 152.6,439.14 153.4,439.27 154.2,439.27 155,439.25 155.8,439.04 156.6,439.23 157.4,439.14 158.2,439.19 159,439.17 159.8,439.21 160.6,439.11 161.4,439.02 162.2,439.22 163,438.99 163.8,439.06 164.6,439.22 165.4,439.07 166.2,439.11 167,439.26 167.8,439.22 168.6,439.16 169.4,439.19 170.2,439.07 171,439.16 171.8,439.23 172.6,439.03 173.4,439.09 174.2,439.14 175,439.04 175.8,439.26 176.6,439.24 177.4,439 178.2,439.13 179,439.15 179.8,439 180.6,439.25 181.4,439.13 182.2,439.08 183,439.1 183.8,439.06 184.6,439.2 185.4,439.32 186.2,439.16 187,439.05 187.8,439.29 188.6,439.28 189.4,439.18 190.2,439.26 191,439.12 191.8,439.3 192.6,439.36 193.4,439.13 194.2,439.2 195,439.18 195.8,439.13 196.6,439.13 197.4,439.21 198.2,439.11 199,439.29 199.8,439.18 200.6,439.29 201.4,439.42 202.2,439.38 203,439.21 203.8,439.18 204.6,439.36 205.4,439.18 206.2,439.32 207,439.22 207.8,439.38 208.6,439.35 209.4,439.37 210.2,439.44 211,439.34 211.8,439.35 212.6,439.36 213.4,439.3 214.2,439.33 215,439.36 215.8,439.42 216.6,439.31 217.4,439.57 218.2,439.57 219,439.63 219.8,439.6 220.6,439.36 221.4,439.58 222.2,439.64 223,439.66 223.8,439.64 224.6,439.69 225.4,439.61 226.2,439.54 227,439.58 227.8,439.66 228.6,439.66 229.4,439.7 230.2,439.52 231,439.62 231.8,439.76 232.6,439.74 233.4,439.68 234.2,439.72 235,439.64 235.8,439.81 236.6,439.84 237.4,439.7 238.2,439.73 239,439.78 239.8,439.9 240.6,439.69 241.4,439.98 242.2,440.01 243,439.97 243.8,439.93 244.6,439.88 245.4,440.03 246.2,439.79 247,439.84 247.8,440.01 248.6,439.91 249.4,439.93 250.2,439.9 251,440.12 251.8,440.16 252.6,440.09 253.4,439.95 254.2,440.18 255,440.19 255.8,440.1 256.6,440.06 257.4,440.13 258.2,440.13 259,440.11 259.8,440.37 260.6,440.33 261.4,440.27 262.2,440.24 263,440.19 263.8,440.35 264.6,440.3 265.4,440.44 266.2,440.28 267,440.39 267.8,440.43 268.6,440.47 269.4,440.41 270.2,440.43 271,440.6 271.8,440.58 272.6,440.56 273.4,440.58 274.2,440.51 275,440.75 275.8,440.51 276.6,440.65 277.4,440.54 278.2,440.56 278.3,440.78" fill="none" stroke="#e377c2" stroke-width="1.9" stroke-linejoin="round" stroke-linecap="round"/>
<path d="M55,440.72 55.8,440.63 56.6,440.73 57.4,440.46 58.2,440.52 59,440.68 59.8,440.6 60.6,440.48 61.4,440.52 62.2,440.54 63,440.35 63.8,440.23 64.6,440.42 65.4,440.3 66.2,440.38 67,440.28 67.8,440.13 68.6,440.03 69.4,440.17 70.2,440.11 71,440.05 71.8,440.12 72.6,440 73.4,440.1 74.2,439.85 75,439.81 75.8,439.89 76.6,439.8 77.4,440 78.2,439.89 79,439.96 79.8,439.74 80.6,439.88 81.4,439.89 82.2,439.84 83,439.78 83.8,439.57 84.6,439.77 85.4,439.51 86.2,439.56 87,439.49 87.8,439.45 88.6,439.68 89.4,439.55 90.2,439.61 91,439.43 91.8,439.42 92.6,439.53 93.4,439.55 94.2,439.47 95,439.48 95.8,439.45 96.6,439.41 97.4,439.43 98.2,439.37 99,439.12 99.8,439.16 100.6,439.18 101.4,439.13 102.2,439.33 103,439.29 103.8,439.17 104.6,439.06 105.4,439 106.2,438.97 107,439 107.8,439 108.6,439.16 109.4,438.98 110.2,439.02 111,439.04 111.8,439.14 112.6,439.04 113.4,438.89 114.2,438.94 115,438.88 115.8,438.84 116.6,438.98 117.4,438.91 118.2,438.83 119,438.91 119.8,438.74 120.6,438.87 121.4,438.92 122.2,438.94 123,438.81 123.8,438.71 124.6,438.85 125.4,438.91 126.2,438.71 127,438.69 127.8,438.64 128.6,438.67 129.4,438.79 130.2,438.72 131,438.6 131.8,438.6 132.6,438.58 133.4,438.71 134.2,438.54 135,438.57 135.8,438.61 136.6,438.72 137.4,438.74 138.2,438.59 139,438.7 139.8,438.51 140.6,438.52 141.4,438.55 142.2,438.61 143,438.63 143.8,438.64 144.6,438.48 145.4,438.44 146.2,438.46 147,438.44 147.8,438.57 148.6,438.67 149.4,438.64 150.2,438.61 151,438.54 151.8,438.45 152.6,438.65 153.4,438.56 154.2,438.66 155,438.53 155.8,438.41 156.6,438.41 157.4,438.61 158.2,438.4 159,438.48 159.8,438.48 160.6,438.45 161.4,438.63 162.2,438.61 163,438.38 163.8,438.63 164.6,438.51 165.4,438.38 166.2,438.6 167,438.45 167.8,438.48 168.6,438.42 169.4,438.5 170.2,438.43 171,438.64 171.8,438.38 172.6,438.46 173.4,438.48 174.2,438.6 175,438.51 175.8,438.57 176.6,438.43 177.4,438.59 178.2,438.54 179,438.64 179.8,438.65 180.6,438.5 181.4,438.56 182.2,438.6 183,438.68 183.8,438.45 184.6,438.56 185.4,438.66 186.2,438.46 187,438.72 187.8,438.61 188.6,438.63 189.4,438.45 190.2,438.59 191,438.61 191.8,438.53 192.6,438.77 193.4,438.65 194.2,438.61 195,438.74 195.8,438.78 196.6,438.6 197.4,438.53 198.2,438.62 199,438.62 199.8,438.68 200.6,438.86 201.4,438.59 202.2,438.7 203,438.61 203.8,438.71 204.6,438.86 205.4,438.79 206.2,438.89 207,438.73 207.8,438.85 208.6,438.71 209.4,438.83 210.2,438.72 211,438.92 211.8,438.86 212.6,438.9 213.4,438.93 214.2,438.91 215,438.79 215.8,438.91 216.6,439.06 217.4,439.01 218.2,439 219,439.11 219.8,439.05 220.6,438.94 221.4,439.08 222.2,439.14 223,438.98 223.8,439 224.6,439.01 225.4,439.25 226.2,439.06 227,439.22 227.8,439.03 228.6,439.04 229.4,439.26 230.2,439.12 231,439.22 231.8,439.28 232.6,439.19 233.4,439.31 234.2,439.18 235,439.2 235.8,439.2 236.6,439.4 237.4,439.44 238.2,439.38 239,439.37 239.8,439.57 240.6,439.39 241.4,439.57 242.2,439.63 243,439.59 243.8,439.65 244.6,439.53 245.4,439.62 246.2,439.72 247,439.51 247.8,439.65 248.6,439.72 249.4,439.77 250.2,439.72 251,439.86 251.8,439.84 252.6,439.92 253.4,439.92 254.2,439.83 255,439.98 255.8,439.89 256.6,439.77 257.4,439.95 258.2,439.97 259,439.89 259.8,440.07 260.6,440.07 261.4,440.16 262.2,440.05 263,440.09 263.8,440.14 264.6,440.21 265.4,440.22 266.2,440.06 267,440.29 267.8,440.13 268.6,440.2 269.4,440.17 270.2,440.39 271,440.2 271.8,440.5 272.6,440.35 273.4,440.34 274.2,440.5 275,440.62 275.8,440.58 276.6,440.51 277.4,440.52 278.2,440.64 278.3,440.53" fill="none" stroke="#8c564b" stroke-width="1.9" stroke-linejoin="round" stroke-linecap="round"/>
<path d="M55,440.63 55.8,440.7 56.6,440.5 57.4,440.61 58.2,440.62 59,440.61 59.8,440.43 60.6,440.47 61.4,440.37 62.2,440.39 63,440.28 63.8,440.25 64.6,440.33 65.4,440.14 66.2,440.31 67,440.14 67.8,440.02 68.6,440.01 69.4,439.93 70.2,440.07 71,439.92 71.8,439.8 72.6,439.87 73.4,439.96 74.2,439.8 75,439.65 75.8,439.74 76.6,439.74 77.4,439.77 78.2,439.59 79,439.57 79.8,439.61 80.6,439.63 81.4,439.7 82.2,439.52 83,439.38 83.8,439.45 84.6,439.3 85.4,439.41 86.2,439.43 87,439.25 87.8,439.27 88.6,439.32 89.4,439.14 90.2,439.19 91,439.19 91.8,439.27 92.6,439.21 93.4,438.99 94.2,439.08 95,439.1 95.8,439.05 96.6,438.98 97.4,438.99 98.2,439.13 99,438.97 99.8,439.05 100.6,438.87 101.4,438.88 102.2,438.95 103,438.83 103.8,438.96 104.6,438.77 105.4,438.88 106.2,438.89 107,438.62 107.8,438.67 108.6,438.62 109.4,438.69 110.2,438.8 111,438.68 111.8,438.63 112.6,438.53 113.4,438.54 114.2,438.42 115,438.66 115.8,438.39 116.6,438.58 117.4,438.38 118.2,438.49 119,438.56 119.8,438.47 120.6,438.56 121.4,438.32 122.2,438.54 123,438.53 123.8,438.52 124.6,438.31 125.4,438.34 126.2,438.47 127,438.36 127.8,438.36 128.6,438.15 129.4,438.2 130.2,438.18 131,438.18 131.8,438.28 132.6,438.14 133.4,438.28 134.2,438.36 135,438.19 135.8,438.06 136.6,438.23 137.4,438.3 138.2,438.09 139,438.28 139.8,438.26 140.6,438.13 141.4,438.06 142.2,438.12 143,438.14 143.8,438.02 144.6,438.22 145.4,438.13 146.2,438.11 147,438.22 147.8,437.98 148.6,438.04 149.4,438.01 150.2,438.11 151,438.19 151.8,437.9 152.6,437.91 153.4,437.94 154.2,438.04 155,438.11 155.8,438.15 156.6,438.04 157.4,437.97 158.2,438.04 159,437.97 159.8,437.86 160.6,437.9 161.4,437.98 162.2,438.03 163,438.05 163.8,438.06 164.6,437.86 165.4,437.91 166.2,437.89 167,437.98 167.8,438.08 168.6,438.05 169.4,438 170.2,437.87 171,437.97 171.8,438.05 172.6,437.9 173.4,437.98 174.2,437.98 175,437.94 175.8,437.99 176.6,438.02 177.4,438.14 178.2,438.12 179,438.03 179.8,438.16 180.6,438.07 181.4,438.1 182.2,438.08 183,438.18 183.8,438.07 184.6,438.03 185.4,438.15 186.2,438.08 187,438.04 187.8,438.2 188.6,438.15 189.4,437.98 190.2,438.13 191,438.15 191.8,438.1 192.6,438.29 193.4,438.02 194.2,438.14 195,438.27 195.8,438.17 196.6,438.17 197.4,438.32 198.2,438.26 199,438.28 199.8,438.32 200.6,438.15 201.4,438.31 202.2,438.13 203,438.19 203.8,438.37 204.6,438.41 205.4,438.45 206.2,438.24 207,438.35 207.8,438.25 208.6,438.25 209.4,438.43 210.2,438.26 211,438.28 211.8,438.51 212.6,438.4 213.4,438.45 214.2,438.44 215,438.43 215.8,438.52 216.6,438.66 217.4,438.64 218.2,438.44 219,438.54 219.8,438.56 220.6,438.68 221.4,438.77 222.2,438.81 223,438.55 223.8,438.62 224.6,438.85 225.4,438.83 226.2,438.87 227,438.72 227.8,438.66 228.6,438.87 229.4,438.7 230.2,438.78 231,438.81 231.8,438.82 232.6,438.88 233.4,439.02 234.2,438.93 235,439.09 235.8,439 236.6,439.01 237.4,439.05 238.2,439.12 239,439.24 239.8,439.06 240.6,439.09 241.4,439.27 242.2,439.37 243,439.38 243.8,439.16 244.6,439.3 245.4,439.19 246.2,439.3 247,439.29 247.8,439.33 248.6,439.31 249.4,439.38 250.2,439.64 251,439.57 251.8,439.6 252.6,439.5 253.4,439.55 254.2,439.74 255,439.79 255.8,439.69 256.6,439.6 257.4,439.75 258.2,439.84 259,439.89 259.8,439.94 260.6,440.02 261.4,439.79 262.2,440.07 263,439.96 263.8,440.03 264.6,440.06 265.4,440.1 266.2,440.09 267,440.24 267.8,440.13 268.6,440.13 269.4,440.17 270.2,440.22 271,440.26 271.8,440.49 272.6,440.37 273.4,440.36 274.2,440.43 275,440.52 275.8,440.48 276.6,440.52 277.4,440.65 278.2,440.69 278.3,440.7" fill="none" stroke="#9467bd" stroke-width="1.9" stroke-linejoin="round" stroke-linecap="round"/>
<path d="M55,440.09 55.8,439.87 56.6,439.71 57.4,439.71 58.2,439.48 59,439.57 59.8,439.55 60.6,439.43 61.4,439.18 62.2,439.3 63,439.13 63.8,439 64.6,439.2 65.4,438.99 66.2,438.84 67,438.89 67.8,438.9 68.6,438.95 69.4,438.64 70.2,438.8 71,438.53 71.8,438.47 72.6,438.4 73.4,438.5 74.2,438.44 75,438.35 75.8,438.09 76.6,438.12 77.4,437.97 78.2,437.82 79,437.71 79.8,437.7 80.6,437.34 81.4,437.19 82.2,436.97 83,436.93 83.8,436.55 84.6,436.48 85.4,436.29 86.2,435.96 87,435.58 87.8,435.4 88.6,435.21 89.4,434.89 90.2,434.59 91,434.15 91.8,433.98 92.6,433.33 93.4,433.13 94.2,432.66 95,432.2 95.8,431.92 96.6,431.54 97.4,430.97 98.2,430.73 99,430.19 99.8,429.63 100.6,429.18 101.4,428.78 102.2,428.33 103,427.6 103.8,427.15 104.6,426.67 105.4,426.28 106.2,425.63 107,425.04 107.8,424.52 108.6,423.9 109.4,423.28 110.2,422.68 111,422.06 111.8,421.72 112.6,420.88 113.4,420.36 114.2,419.76 115,419 115.8,418.38 116.6,417.72 117.4,417.22 118.2,416.47 119,416.01 119.8,415.45 120.6,414.55 121.4,414.19 122.2,413.53 123,412.75 123.8,412.28 124.6,411.63 125.4,411.03 126.2,410.48 127,410.11 127.8,409.41 128.6,408.9 129.4,408.3 130.2,408.04 131,407.4 131.8,406.94 132.6,406.51 133.4,406.28 134.2,405.69 135,405.41 135.8,405.15 136.6,404.75 137.4,404.59 138.2,404.45 139,404.01 139.8,404.07 140.6,403.85 141.4,403.89 142.2,403.65 143,403.66 143.8,403.98 144.6,403.91 145.4,404.31 146.2,404.33 147,404.78 147.8,405.04 148.6,405.1 149.4,405.55 150.2,405.66 151,405.92 151.8,405.92 152.6,406.17 153.4,406.27 154.2,406.3 155,406.46 155.8,406.76 156.6,406.63 157.4,406.94 158.2,406.87 159,406.95 159.8,407.16 160.6,407.28 161.4,407.33 162.2,407.45 163,407.73 163.8,407.76 164.6,408.01 165.4,408.44 166.2,408.51 167,408.86 167.8,409.28 168.6,409.38 169.4,409.66 170.2,410.18 171,410.55 171.8,410.96 172.6,411.42 173.4,411.7 174.2,412.15 175,412.6 175.8,412.83 176.6,413.55 177.4,413.76 178.2,414.25 179,414.69 179.8,415.37 180.6,415.89 181.4,416.25 182.2,416.59 183,417.08 183.8,417.58 184.6,418.1 185.4,418.57 186.2,419.28 187,419.62 187.8,419.99 188.6,420.71 189.4,420.98 190.2,421.35 191,421.79 191.8,422.32 192.6,422.84 193.4,423.31 194.2,423.66 195,424.19 195.8,424.51 196.6,424.97 197.4,425.22 198.2,425.57 199,425.89 199.8,426.42 200.6,426.59 201.4,427.03 202.2,427.37 203,427.69 203.8,428.11 204.6,428.37 205.4,428.6 206.2,428.99 207,429.21 207.8,429.65 208.6,429.81 209.4,430.14 210.2,430.48 211,430.64 211.8,430.94 212.6,431.27 213.4,431.51 214.2,431.83 215,432.04 215.8,432.34 216.6,432.43 217.4,432.78 218.2,432.86 219,433.33 219.8,433.32 220.6,433.51 221.4,433.97 222.2,434.02 223,434.09 223.8,434.31 224.6,434.49 225.4,434.79 226.2,434.87 227,435.13 227.8,435.41 228.6,435.54 229.4,435.54 230.2,435.78 231,435.96 231.8,436.16 232.6,436.25 233.4,436.47 234.2,436.58 235,436.63 235.8,436.69 236.6,436.93 237.4,437.05 238.2,437.03 239,437.25 239.8,437.4 240.6,437.41 241.4,437.45 242.2,437.47 243,437.74 243.8,437.71 244.6,437.78 245.4,437.83 246.2,438.14 247,438.21 247.8,438.11 248.6,438.2 249.4,438.3 250.2,438.44 251,438.36 251.8,438.45 252.6,438.69 253.4,438.81 254.2,438.6 255,438.8 255.8,438.9 256.6,438.87 257.4,439.07 258.2,438.88 259,439.12 259.8,439.05 260.6,439.22 261.4,439.26 262.2,439.41 263,439.37 263.8,439.29 264.6,439.27 265.4,439.51 266.2,439.57 267,439.52 267.8,439.5 268.6,439.6 269.4,439.56 270.2,439.78 271,439.77 271.8,439.65 272.6,439.63 273.4,439.71 274.2,439.84 275,439.91 275.8,439.99 276.6,439.98 277.4,439.98 278.2,439.96 278.3,440.1" fill="none" stroke="#d62728" stroke-width="1.7" stroke-linejoin="round" stroke-linecap="round"/>
<path d="M55,439.63 55.8,439.18 56.6,439.69 57.4,439.34 58.2,439.2 59,439.14 59.8,439.38 60.6,439.28 61.4,439.4 62.2,438.89 63,438.98 63.8,439.08 64.6,438.69 65.4,438.79 66.2,438.87 67,438.24 67.8,438.43 68.6,438.37 69.4,437.98 70.2,437.88 71,437.39 71.8,437.5 72.6,436.93 73.4,436.49 74.2,436.75 75,436.32 75.8,436.14 76.6,435.3 77.4,435.14 78.2,434.99 79,434.25 79.8,433.94 80.6,433.51 81.4,433.12 82.2,432.63 83,431.54 83.8,431.06 84.6,430.67 85.4,430.07 86.2,429.37 87,428.78 87.8,427.95 88.6,427.16 89.4,426.14 90.2,425.29 91,424.58 91.8,423.53 92.6,422.74 93.4,421.42 94.2,420.61 95,419.41 95.8,418.58 96.6,417.43 97.4,415.82 98.2,414.99 99,413.86 99.8,412.74 100.6,411.16 101.4,410.04 102.2,408.53 103,407.19 103.8,405.99 104.6,405.17 105.4,403.89 106.2,402.35 107,401.34 107.8,400.09 108.6,398.94 109.4,398.15 110.2,397.09 111,396.31 111.8,394.85 112.6,393.93 113.4,393.36 114.2,392.47 115,391.38 115.8,390.69 116.6,389.83 117.4,388.95 118.2,387.46 119,386.55 119.8,385.66 120.6,384.78 121.4,384.1 122.2,383.48 123,382.63 123.8,381.84 124.6,380.57 125.4,379.88 126.2,379.49 127,379.08 127.8,378.49 128.6,377.96 129.4,377.36 130.2,376.74 131,376.57 131.8,375.97 132.6,375.59 133.4,375.25 134.2,374.86 135,374.41 135.8,374.74 136.6,374.38 137.4,374.04 138.2,374.12 139,373.86 139.8,374.13 140.6,374.55 141.4,374.2 142.2,374.57 143,374.68 143.8,375.29 144.6,375.25 145.4,375.89 146.2,376.41 147,376.66 147.8,377.41 148.6,378.05 149.4,378.16 150.2,379.11 151,379.76 151.8,380.45 152.6,381.05 153.4,381.66 154.2,381.81 155,382.67 155.8,382.91 156.6,383.29 157.4,383.9 158.2,384.02 159,384.7 159.8,384.95 160.6,385.42 161.4,385.29 162.2,386.21 163,386.47 163.8,386.42 164.6,387.08 165.4,387.45 166.2,387.82 167,388.26 167.8,389.26 168.6,389.55 169.4,389.79 170.2,390.41 171,391.49 171.8,392.22 172.6,392.71 173.4,393.62 174.2,394.09 175,394.85 175.8,396.15 176.6,396.62 177.4,397.81 178.2,398.62 179,399.62 179.8,400.3 180.6,401.21 181.4,401.96 182.2,403.09 183,404.38 183.8,405.17 184.6,406.26 185.4,407.22 186.2,408.18 187,409.59 187.8,410.57 188.6,411.01 189.4,412.5 190.2,413.2 191,414.05 191.8,414.81 192.6,415.61 193.4,416.42 194.2,417.21 195,417.93 195.8,418.8 196.6,419.53 197.4,420.25 198.2,420.51 199,421 199.8,421.91 200.6,422.44 201.4,422.68 202.2,423.39 203,424.07 203.8,424.15 204.6,424.47 205.4,425.33 206.2,425.63 207,426.27 207.8,426.4 208.6,426.55 209.4,427.34 210.2,427.69 211,428.02 211.8,428.09 212.6,428.54 213.4,428.44 214.2,428.76 215,429.22 215.8,429.29 216.6,429.93 217.4,429.99 218.2,430.25 219,430.78 219.8,430.74 220.6,430.97 221.4,431.36 222.2,431.44 223,431.93 223.8,431.74 224.6,432.24 225.4,432.21 226.2,432.77 227,432.56 227.8,432.97 228.6,433.33 229.4,433.48 230.2,433.47 231,434.09 231.8,434.33 232.6,433.95 233.4,434.45 234.2,434.51 235,435.03 235.8,434.86 236.6,435.37 237.4,435.4 238.2,435.23 239,435.87 239.8,435.54 240.6,435.98 241.4,436.27 242.2,436.48 243,436.08 243.8,436.39 244.6,436.62 245.4,436.55 246.2,437.15 247,437.27 247.8,436.81 248.6,437.16 249.4,437.34 250.2,437.59 251,437.35 251.8,437.88 252.6,437.76 253.4,437.84 254.2,438.15 255,437.9 255.8,438.16 256.6,438.03 257.4,438.56 258.2,438.22 259,438.3 259.8,438.72 260.6,438.58 261.4,439.02 262.2,438.61 263,438.97 263.8,438.9 264.6,438.79 265.4,439.06 266.2,438.86 267,439.48 267.8,439.29 268.6,439.09 269.4,439.32 270.2,439.51 271,439.59 271.8,439.28 272.6,439.52 273.4,439.86 274.2,439.82 275,439.58 275.8,439.48 276.6,439.59 277.4,439.93 278.2,439.57 278.3,439.63" fill="none" stroke="#2ca02c" stroke-width="1.7" stroke-linejoin="round" stroke-linecap="round"/>
<path d="M55,439.18 55.8,439.41 56.6,439.73 57.4,439.5 58.2,439.29 59,439.14 59.8,439.68 60.6,439.3 61.4,439.32 62.2,439.08 63,439.23 63.8,439.32 64.6,438.98 65.4,438.75 66.2,438.94 67,438.27 67.8,438.33 68.6,438.37 69.4,437.85 70.2,437.56 71,437.59 71.8,437.16 72.6,436.87 73.4,436.34 74.2,435.84 75,435.6 75.8,435.34 76.6,434.53 77.4,434.02 78.2,433.74 79,432.76 79.8,432.07 80.6,431.55 81.4,431.11 82.2,430.1 83,429.16 83.8,428.31 84.6,427.51 85.4,426.83 86.2,425.38 87,424.61 87.8,423.72 88.6,422.5 89.4,421.1 90.2,420.11 91,418.39 91.8,416.86 92.6,415.58 93.4,414.1 94.2,412.9 95,410.87 95.8,409.15 96.6,407.58 97.4,405.9 98.2,404.38 99,402.17 99.8,400.31 100.6,398.35 101.4,396.37 102.2,394.27 103,392.63 103.8,390.37 104.6,388.33 105.4,386.45 106.2,384.04 107,381.96 107.8,379.86 108.6,378.33 109.4,376.19 110.2,374.15 111,372.04 111.8,370.56 112.6,368.52 113.4,367.24 114.2,365.65 115,363.65 115.8,362.02 116.6,360.34 117.4,359.24 118.2,357.3 119,356.02 119.8,354.42 120.6,353.15 121.4,352.25 122.2,350.73 123,349.34 123.8,348.27 124.6,347.17 125.4,346.47 126.2,345.69 127,344.6 127.8,343.78 128.6,343.22 129.4,343.11 130.2,342.51 131,341.9 131.8,341.3 132.6,341.08 133.4,340.69 134.2,340.7 135,340.4 135.8,340.65 136.6,340.67 137.4,340.39 138.2,340.49 139,340.49 139.8,340.69 140.6,341.28 141.4,341.05 142.2,341.39 143,342.31 143.8,342.73 144.6,343.33 145.4,343.55 146.2,344.59 147,345.24 147.8,346.43 148.6,347.66 149.4,348.44 150.2,349.79 151,350.55 151.8,351.74 152.6,352.6 153.4,353.59 154.2,354.51 155,355.46 155.8,356.48 156.6,357.67 157.4,358.23 158.2,358.91 159,359.28 159.8,359.96 160.6,360.93 161.4,361.61 162.2,361.77 163,363 163.8,363.49 164.6,364.04 165.4,365.27 166.2,365.92 167,366.9 167.8,367.83 168.6,368.67 169.4,370.1 170.2,371.15 171,371.93 171.8,373.3 172.6,374.61 173.4,375.94 174.2,377.26 175,378.56 175.8,379.45 176.6,380.59 177.4,382.01 178.2,383.15 179,384.9 179.8,385.77 180.6,387.11 181.4,388.37 182.2,389.58 183,390.94 183.8,392.05 184.6,393.29 185.4,395.13 186.2,396.42 187,397.28 187.8,398.64 188.6,400.02 189.4,401.12 190.2,402.58 191,403.48 191.8,405.18 192.6,406.31 193.4,407.11 194.2,408.15 195,409.61 195.8,410.63 196.6,411.09 197.4,412 198.2,413.04 199,414.01 199.8,414.91 200.6,415.62 201.4,416.39 202.2,417.18 203,417.9 203.8,418.08 204.6,418.98 205.4,419.31 206.2,420.16 207,420.95 207.8,421.04 208.6,421.64 209.4,422.29 210.2,422.66 211,423.37 211.8,423.81 212.6,424.27 213.4,424.65 214.2,425.31 215,425.75 215.8,426.36 216.6,426.63 217.4,427.59 218.2,427.93 219,428.11 219.8,428.69 220.6,428.85 221.4,429.71 222.2,430.1 223,430.5 223.8,430.47 224.6,430.99 225.4,431.29 226.2,431.79 227,432.07 227.8,432.73 228.6,432.75 229.4,433.3 230.2,433.6 231,433.71 231.8,433.74 232.6,434.32 233.4,434.24 234.2,435.06 235,434.72 235.8,434.97 236.6,435.32 237.4,435.77 238.2,436.07 239,435.77 239.8,436.19 240.6,436.47 241.4,436.47 242.2,437.04 243,436.81 243.8,436.94 244.6,437.4 245.4,437.55 246.2,437.62 247,437.37 247.8,437.87 248.6,437.66 249.4,437.68 250.2,437.86 251,438.21 251.8,438.21 252.6,438.34 253.4,438.25 254.2,438.29 255,438.57 255.8,438.18 256.6,438.35 257.4,438.68 258.2,438.8 259,438.72 259.8,438.73 260.6,438.51 261.4,438.77 262.2,439.03 263,438.62 263.8,438.96 264.6,439.13 265.4,438.96 266.2,438.82 267,439.11 267.8,438.69 268.6,439.25 269.4,439.14 270.2,438.79 271,439.11 271.8,438.98 272.6,439.22 273.4,438.94 274.2,439 275,439.5 275.8,439.08 276.6,439.26 277.4,439.2 278.2,439.51 278.3,439.43" fill="none" stroke="#ff7f0e" stroke-width="1.7" stroke-linejoin="round" stroke-linecap="round"/>
<path d="M55,440.5 55.8,440.76 56.6,440.76 57.4,441.05 58.2,441.29 59,441.29 59.8,441.44 60.6,441.52 61.4,441.67 62.2,441.85 63,442.04 63.8,442.13 64.6,441.99 65.4,442.24 66.2,442.25 67,442.17 67.8,442.29 68.6,442.2 69.4,442.39 70.2,442.42 71,442.34 71.8,442.29 72.6,442.26 73.4,442.12 74.2,442.07 75,442.11 75.8,441.96 76.6,442.05 77.4,441.94 78.2,441.78 79,441.8 79.8,441.55 80.6,441.62 81.4,441.3 82.2,441.19 83,441.18 83.8,440.95 84.6,441.04 85.4,440.72 86.2,440.76 87,440.32 87.8,440.35 88.6,439.99 89.4,440 90.2,439.84 91,439.68 91.8,439.5 92.6,439.23 93.4,439.05 94.2,438.81 95,438.5 95.8,438.38 96.6,438.13 97.4,437.88 98.2,437.77 99,437.53 99.8,437.47 100.6,437.19 101.4,436.95 102.2,436.64 103,436.62 103.8,436.12 104.6,435.94 105.4,435.87 106.2,435.49 107,435.45 107.8,434.94 108.6,434.94 109.4,434.69 110.2,434.51 111,434.19 111.8,433.81 112.6,433.67 113.4,433.36 114.2,433.33 115,433.01 115.8,432.72 116.6,432.58 117.4,432.39 118.2,432.09 119,431.87 119.8,431.47 120.6,431.34 121.4,431.07 122.2,430.87 123,430.77 123.8,430.57 124.6,430.36 125.4,430.14 126.2,429.95 127,429.58 127.8,429.37 128.6,429.46 129.4,429.14 130.2,428.95 131,428.95 131.8,428.7 132.6,428.41 133.4,428.44 134.2,428.11 135,428.11 135.8,427.95 136.6,427.98 137.4,427.94 138.2,427.72 139,427.72 139.8,427.58 140.6,427.37 141.4,427.41 142.2,427.48 143,427.28 143.8,427.2 144.6,427.34 145.4,427.29 146.2,427.34 147,427.43 147.8,427.42 148.6,427.23 149.4,427.34 150.2,427.45 151,427.43 151.8,427.65 152.6,427.52 153.4,427.72 154.2,427.73 155,427.83 155.8,427.98 156.6,427.93 157.4,428.2 158.2,428.1 159,428.29 159.8,428.33 160.6,428.69 161.4,428.74 162.2,428.89 163,429.01 163.8,429.17 164.6,429.28 165.4,429.47 166.2,429.5 167,429.79 167.8,430.01 168.6,430.12 169.4,430.4 170.2,430.56 171,430.61 171.8,430.76 172.6,431.05 173.4,431.33 174.2,431.41 175,431.48 175.8,431.87 176.6,432 177.4,432.02 178.2,432.19 179,432.53 179.8,432.76 180.6,432.99 181.4,433.17 182.2,433.32 183,433.5 183.8,433.58 184.6,433.83 185.4,433.93 186.2,434.03 187,434.06 187.8,434.32 188.6,434.62 189.4,434.71 190.2,434.79 191,434.95 191.8,435.13 192.6,435.09 193.4,435.34 194.2,435.36 195,435.55 195.8,435.51 196.6,435.81 197.4,435.98 198.2,436.02 199,436.13 199.8,436.25 200.6,436.26 201.4,436.24 202.2,436.43 203,436.63 203.8,436.63 204.6,436.7 205.4,436.93 206.2,436.85 207,437.11 207.8,437.22 208.6,437.04 209.4,437.21 210.2,437.27 211,437.29 211.8,437.51 212.6,437.45 213.4,437.51 214.2,437.57 215,437.69 215.8,437.74 216.6,437.72 217.4,437.83 218.2,437.98 219,438.04 219.8,437.94 220.6,438.03 221.4,438.11 222.2,438.27 223,438.31 223.8,438.27 224.6,438.19 225.4,438.24 226.2,438.22 227,438.22 227.8,438.45 228.6,438.42 229.4,438.39 230.2,438.37 231,438.44 231.8,438.6 232.6,438.64 233.4,438.58 234.2,438.76 235,438.69 235.8,438.59 236.6,438.59 237.4,438.91 238.2,438.91 239,438.8 239.8,438.7 240.6,438.92 241.4,438.97 242.2,438.83 243,438.86 243.8,439.05 244.6,438.9 245.4,439.09 246.2,438.96 247,438.97 247.8,439.12 248.6,438.96 249.4,439.19 250.2,439.27 251,439.05 251.8,439.17 252.6,439.07 253.4,439.34 254.2,439.34 255,439.42 255.8,439.43 256.6,439.2 257.4,439.44 258.2,439.51 259,439.46 259.8,439.38 260.6,439.41 261.4,439.58 262.2,439.46 263,439.46 263.8,439.75 264.6,439.64 265.4,439.75 266.2,439.63 267,439.77 267.8,439.78 268.6,439.99 269.4,439.8 270.2,440.06 271,439.89 271.8,440.13 272.6,440.07 273.4,440.02 274.2,440.28 275,440.19 275.8,440.44 276.6,440.46 277.4,440.49 278.2,440.58 278.3,440.51" fill="none" stroke="#1f77b4" stroke-width="1.7" stroke-linejoin="round" stroke-linecap="round"/>
</g>
<line x1="54.3" y1="43.4" x2="576" y2="43.4" stroke="#1e1e1e" stroke-width="1.05"/>
<line x1="54.8" y1="176.4" x2="575.5" y2="176.4" stroke="#1e1e1e" stroke-width="1.05"/>
<line x1="54.8" y1="308.9" x2="575.5" y2="308.9" stroke="#1e1e1e" stroke-width="1.05"/>
<line x1="54.8" y1="441.3" x2="576" y2="441.3" stroke="#1e1e1e" stroke-width="1.05"/>
<line x1="54.8" y1="43.4" x2="54.8" y2="446.4" stroke="#1e1e1e" stroke-width="1.15"/>
<line x1="314.6" y1="43.4" x2="314.6" y2="441.3" stroke="#1e1e1e" stroke-width="1.15"/>
<line x1="575.5" y1="43.4" x2="575.5" y2="441.3" stroke="#1e1e1e" stroke-width="1.15"/>
<line x1="54.9" y1="176.3" x2="54.9" y2="181.3" stroke="#1e1e1e" stroke-width="1.2"/>
<line x1="73.48" y1="176.3" x2="73.48" y2="178.9" stroke="#1e1e1e" stroke-width="1.2"/>
<line x1="92.06" y1="176.3" x2="92.06" y2="181.3" stroke="#1e1e1e" stroke-width="1.2"/>
<line x1="110.64" y1="176.3" x2="110.64" y2="178.9" stroke="#1e1e1e" stroke-width="1.2"/>
<line x1="129.22" y1="176.3" x2="129.22" y2="181.3" stroke="#1e1e1e" stroke-width="1.2"/>
<line x1="147.8" y1="176.3" x2="147.8" y2="178.9" stroke="#1e1e1e" stroke-width="1.2"/>
<line x1="166.38" y1="176.3" x2="166.38" y2="181.3" stroke="#1e1e1e" stroke-width="1.2"/>
<line x1="184.96" y1="176.3" x2="184.96" y2="178.9" stroke="#1e1e1e" stroke-width="1.2"/>
<line x1="203.54" y1="176.3" x2="203.54" y2="181.3" stroke="#1e1e1e" stroke-width="1.2"/>
<line x1="222.12" y1="176.3" x2="222.12" y2="178.9" stroke="#1e1e1e" stroke-width="1.2"/>
<line x1="240.7" y1="176.3" x2="240.7" y2="181.3" stroke="#1e1e1e" stroke-width="1.2"/>
<line x1="259.28" y1="176.3" x2="259.28" y2="178.9" stroke="#1e1e1e" stroke-width="1.2"/>
<line x1="277.86" y1="176.3" x2="277.86" y2="181.3" stroke="#1e1e1e" stroke-width="1.2"/>
<line x1="296.44" y1="176.3" x2="296.44" y2="178.9" stroke="#1e1e1e" stroke-width="1.2"/>
<line x1="54.9" y1="308.9" x2="54.9" y2="313.9" stroke="#1e1e1e" stroke-width="1.2"/>
<line x1="73.48" y1="308.9" x2="73.48" y2="311.5" stroke="#1e1e1e" stroke-width="1.2"/>
<line x1="92.06" y1="308.9" x2="92.06" y2="313.9" stroke="#1e1e1e" stroke-width="1.2"/>
<line x1="110.64" y1="308.9" x2="110.64" y2="311.5" stroke="#1e1e1e" stroke-width="1.2"/>
<line x1="129.22" y1="308.9" x2="129.22" y2="313.9" stroke="#1e1e1e" stroke-width="1.2"/>
<line x1="147.8" y1="308.9" x2="147.8" y2="311.5" stroke="#1e1e1e" stroke-width="1.2"/>
<line x1="166.38" y1="308.9" x2="166.38" y2="313.9" stroke="#1e1e1e" stroke-width="1.2"/>
<line x1="184.96" y1="308.9" x2="184.96" y2="311.5" stroke="#1e1e1e" stroke-width="1.2"/>
<line x1="203.54" y1="308.9" x2="203.54" y2="313.9" stroke="#1e1e1e" stroke-width="1.2"/>
<line x1="222.12" y1="308.9" x2="222.12" y2="311.5" stroke="#1e1e1e" stroke-width="1.2"/>
<line x1="240.7" y1="308.9" x2="240.7" y2="313.9" stroke="#1e1e1e" stroke-width="1.2"/>
<line x1="259.28" y1="308.9" x2="259.28" y2="311.5" stroke="#1e1e1e" stroke-width="1.2"/>
<line x1="277.86" y1="308.9" x2="277.86" y2="313.9" stroke="#1e1e1e" stroke-width="1.2"/>
<line x1="296.44" y1="308.9" x2="296.44" y2="311.5" stroke="#1e1e1e" stroke-width="1.2"/>
<line x1="54.9" y1="441.2" x2="54.9" y2="446.2" stroke="#1e1e1e" stroke-width="1.2"/>
<line x1="73.48" y1="441.2" x2="73.48" y2="443.8" stroke="#1e1e1e" stroke-width="1.2"/>
<line x1="92.06" y1="441.2" x2="92.06" y2="446.2" stroke="#1e1e1e" stroke-width="1.2"/>
<line x1="110.64" y1="441.2" x2="110.64" y2="443.8" stroke="#1e1e1e" stroke-width="1.2"/>
<line x1="129.22" y1="441.2" x2="129.22" y2="446.2" stroke="#1e1e1e" stroke-width="1.2"/>
<line x1="147.8" y1="441.2" x2="147.8" y2="443.8" stroke="#1e1e1e" stroke-width="1.2"/>
<line x1="166.38" y1="441.2" x2="166.38" y2="446.2" stroke="#1e1e1e" stroke-width="1.2"/>
<line x1="184.96" y1="441.2" x2="184.96" y2="443.8" stroke="#1e1e1e" stroke-width="1.2"/>
<line x1="203.54" y1="441.2" x2="203.54" y2="446.2" stroke="#1e1e1e" stroke-width="1.2"/>
<line x1="222.12" y1="441.2" x2="222.12" y2="443.8" stroke="#1e1e1e" stroke-width="1.2"/>
<line x1="240.7" y1="441.2" x2="240.7" y2="446.2" stroke="#1e1e1e" stroke-width="1.2"/>
<line x1="259.28" y1="441.2" x2="259.28" y2="443.8" stroke="#1e1e1e" stroke-width="1.2"/>
<line x1="277.86" y1="441.2" x2="277.86" y2="446.2" stroke="#1e1e1e" stroke-width="1.2"/>
<line x1="296.44" y1="441.2" x2="296.44" y2="443.8" stroke="#1e1e1e" stroke-width="1.2"/>
<line x1="54.8" y1="176.3" x2="59.4" y2="176.3" stroke="#1e1e1e" stroke-width="1.2"/>
<text x="48.9" y="181.4" font-size="14.6" text-anchor="end" font-weight="normal" font-family='"Liberation Sans", sans-serif' >0.0</text>
<line x1="54.8" y1="160.3" x2="57.4" y2="160.3" stroke="#1e1e1e" stroke-width="1.2"/>
<line x1="54.8" y1="144.3" x2="59.4" y2="144.3" stroke="#1e1e1e" stroke-width="1.2"/>
<text x="48.9" y="149.4" font-size="14.6" text-anchor="end" font-weight="normal" font-family='"Liberation Sans", sans-serif' >0.8</text>
<line x1="54.8" y1="128.3" x2="57.4" y2="128.3" stroke="#1e1e1e" stroke-width="1.2"/>
<line x1="54.8" y1="112.3" x2="59.4" y2="112.3" stroke="#1e1e1e" stroke-width="1.2"/>
<text x="48.9" y="117.4" font-size="14.6" text-anchor="end" font-weight="normal" font-family='"Liberation Sans", sans-serif' >1.6</text>
<line x1="54.8" y1="96.3" x2="57.4" y2="96.3" stroke="#1e1e1e" stroke-width="1.2"/>
<line x1="54.8" y1="80.3" x2="59.4" y2="80.3" stroke="#1e1e1e" stroke-width="1.2"/>
<text x="48.9" y="85.4" font-size="14.6" text-anchor="end" font-weight="normal" font-family='"Liberation Sans", sans-serif' >2.4</text>
<line x1="54.8" y1="64.3" x2="57.4" y2="64.3" stroke="#1e1e1e" stroke-width="1.2"/>
<line x1="54.8" y1="48.3" x2="59.4" y2="48.3" stroke="#1e1e1e" stroke-width="1.2"/>
<text x="48.9" y="53.4" font-size="14.6" text-anchor="end" font-weight="normal" font-family='"Liberation Sans", sans-serif' >3.2</text>
<line x1="54.8" y1="308.9" x2="59.4" y2="308.9" stroke="#1e1e1e" stroke-width="1.2"/>
<text x="48.9" y="314" font-size="14.6" text-anchor="end" font-weight="normal" font-family='"Liberation Sans", sans-serif' >0.0</text>
<line x1="54.8" y1="291.62" x2="57.4" y2="291.62" stroke="#1e1e1e" stroke-width="1.2"/>
<line x1="54.8" y1="274.35" x2="59.4" y2="274.35" stroke="#1e1e1e" stroke-width="1.2"/>
<text x="48.9" y="279.45" font-size="14.6" text-anchor="end" font-weight="normal" font-family='"Liberation Sans", sans-serif' >1.3</text>
<line x1="54.8" y1="257.07" x2="57.4" y2="257.07" stroke="#1e1e1e" stroke-width="1.2"/>
<line x1="54.8" y1="239.8" x2="59.4" y2="239.8" stroke="#1e1e1e" stroke-width="1.2"/>
<text x="48.9" y="244.9" font-size="14.6" text-anchor="end" font-weight="normal" font-family='"Liberation Sans", sans-serif' >2.6</text>
<line x1="54.8" y1="222.52" x2="57.4" y2="222.52" stroke="#1e1e1e" stroke-width="1.2"/>
<line x1="54.8" y1="205.25" x2="59.4" y2="205.25" stroke="#1e1e1e" stroke-width="1.2"/>
<text x="48.9" y="210.35" font-size="14.6" text-anchor="end" font-weight="normal" font-family='"Liberation Sans", sans-serif' >3.9</text>
<line x1="54.8" y1="187.97" x2="57.4" y2="187.97" stroke="#1e1e1e" stroke-width="1.2"/>
<line x1="54.8" y1="441.2" x2="59.4" y2="441.2" stroke="#1e1e1e" stroke-width="1.2"/>
<text x="48.9" y="446.3" font-size="14.6" text-anchor="end" font-weight="normal" font-family='"Liberation Sans", sans-serif' >0.0</text>
<line x1="54.8" y1="424.16" x2="57.4" y2="424.16" stroke="#1e1e1e" stroke-width="1.2"/>
<line x1="54.8" y1="407.13" x2="59.4" y2="407.13" stroke="#1e1e1e" stroke-width="1.2"/>
<text x="48.9" y="412.23" font-size="14.6" text-anchor="end" font-weight="normal" font-family='"Liberation Sans", sans-serif' >1.8</text>
<line x1="54.8" y1="390.09" x2="57.4" y2="390.09" stroke="#1e1e1e" stroke-width="1.2"/>
<line x1="54.8" y1="373.06" x2="59.4" y2="373.06" stroke="#1e1e1e" stroke-width="1.2"/>
<text x="48.9" y="378.16" font-size="14.6" text-anchor="end" font-weight="normal" font-family='"Liberation Sans", sans-serif' >3.6</text>
<line x1="54.8" y1="356.02" x2="57.4" y2="356.02" stroke="#1e1e1e" stroke-width="1.2"/>
<line x1="54.8" y1="338.99" x2="59.4" y2="338.99" stroke="#1e1e1e" stroke-width="1.2"/>
<text x="48.9" y="344.09" font-size="14.6" text-anchor="end" font-weight="normal" font-family='"Liberation Sans", sans-serif' >5.4</text>
<line x1="54.8" y1="321.95" x2="57.4" y2="321.95" stroke="#1e1e1e" stroke-width="1.2"/>
<line x1="575.5" y1="161.4" x2="570.7" y2="161.4" stroke="#1e1e1e" stroke-width="1.2"/>
<text x="580.6" y="166.4" font-size="14.6" text-anchor="start" font-weight="normal" font-family='"Liberation Sans", sans-serif' >0.0</text>
<line x1="575.5" y1="127.97" x2="570.7" y2="127.97" stroke="#1e1e1e" stroke-width="1.2"/>
<text x="580.6" y="132.97" font-size="14.6" text-anchor="start" font-weight="normal" font-family='"Liberation Sans", sans-serif' >1.1</text>
<line x1="575.5" y1="94.54" x2="570.7" y2="94.54" stroke="#1e1e1e" stroke-width="1.2"/>
<text x="580.6" y="99.54" font-size="14.6" text-anchor="start" font-weight="normal" font-family='"Liberation Sans", sans-serif' >2.2</text>
<line x1="575.5" y1="61.11" x2="570.7" y2="61.11" stroke="#1e1e1e" stroke-width="1.2"/>
<text x="580.6" y="66.11" font-size="14.6" text-anchor="start" font-weight="normal" font-family='"Liberation Sans", sans-serif' >3.3</text>
<line x1="575.5" y1="144.69" x2="572.9" y2="144.69" stroke="#1e1e1e" stroke-width="1.2"/>
<line x1="575.5" y1="111.25" x2="572.9" y2="111.25" stroke="#1e1e1e" stroke-width="1.2"/>
<line x1="575.5" y1="77.83" x2="572.9" y2="77.83" stroke="#1e1e1e" stroke-width="1.2"/>
<line x1="575.5" y1="44.4" x2="572.9" y2="44.4" stroke="#1e1e1e" stroke-width="1.2"/>
<line x1="575.5" y1="294" x2="570.7" y2="294" stroke="#1e1e1e" stroke-width="1.2"/>
<text x="580.6" y="299" font-size="14.6" text-anchor="start" font-weight="normal" font-family='"Liberation Sans", sans-serif' >0.0</text>
<line x1="575.5" y1="260.2" x2="570.7" y2="260.2" stroke="#1e1e1e" stroke-width="1.2"/>
<text x="580.6" y="265.2" font-size="14.6" text-anchor="start" font-weight="normal" font-family='"Liberation Sans", sans-serif' >1.6</text>
<line x1="575.5" y1="226.4" x2="570.7" y2="226.4" stroke="#1e1e1e" stroke-width="1.2"/>
<text x="580.6" y="231.4" font-size="14.6" text-anchor="start" font-weight="normal" font-family='"Liberation Sans", sans-serif' >3.2</text>
<line x1="575.5" y1="192.6" x2="570.7" y2="192.6" stroke="#1e1e1e" stroke-width="1.2"/>
<text x="580.6" y="197.6" font-size="14.6" text-anchor="start" font-weight="normal" font-family='"Liberation Sans", sans-serif' >4.8</text>
<line x1="575.5" y1="277.1" x2="572.9" y2="277.1" stroke="#1e1e1e" stroke-width="1.2"/>
<line x1="575.5" y1="243.3" x2="572.9" y2="243.3" stroke="#1e1e1e" stroke-width="1.2"/>
<line x1="575.5" y1="209.5" x2="572.9" y2="209.5" stroke="#1e1e1e" stroke-width="1.2"/>
<line x1="575.5" y1="426.6" x2="570.7" y2="426.6" stroke="#1e1e1e" stroke-width="1.2"/>
<text x="580.6" y="431.6" font-size="14.6" text-anchor="start" font-weight="normal" font-family='"Liberation Sans", sans-serif' >0</text>
<line x1="575.5" y1="393.9" x2="570.7" y2="393.9" stroke="#1e1e1e" stroke-width="1.2"/>
<text x="580.6" y="398.9" font-size="14.6" text-anchor="start" font-weight="normal" font-family='"Liberation Sans", sans-serif' >2</text>
<line x1="575.5" y1="361.2" x2="570.7" y2="361.2" stroke="#1e1e1e" stroke-width="1.2"/>
<text x="580.6" y="366.2" font-size="14.6" text-anchor="start" font-weight="normal" font-family='"Liberation Sans", sans-serif' >4</text>
<line x1="575.5" y1="328.5" x2="570.7" y2="328.5" stroke="#1e1e1e" stroke-width="1.2"/>
<text x="580.6" y="333.5" font-size="14.6" text-anchor="start" font-weight="normal" font-family='"Liberation Sans", sans-serif' >6</text>
<line x1="575.5" y1="410.25" x2="572.9" y2="410.25" stroke="#1e1e1e" stroke-width="1.2"/>
<line x1="575.5" y1="377.55" x2="572.9" y2="377.55" stroke="#1e1e1e" stroke-width="1.2"/>
<line x1="575.5" y1="344.85" x2="572.9" y2="344.85" stroke="#1e1e1e" stroke-width="1.2"/>
<line x1="575.5" y1="312.15" x2="572.9" y2="312.15" stroke="#1e1e1e" stroke-width="1.2"/>
<line x1="333.14" y1="176.3" x2="333.14" y2="173.8" stroke="#1e1e1e" stroke-width="1.2"/>
<line x1="353.45" y1="176.3" x2="353.45" y2="171.7" stroke="#1e1e1e" stroke-width="1.2"/>
<line x1="373.75" y1="176.3" x2="373.75" y2="173.8" stroke="#1e1e1e" stroke-width="1.2"/>
<line x1="394.06" y1="176.3" x2="394.06" y2="171.7" stroke="#1e1e1e" stroke-width="1.2"/>
<line x1="414.37" y1="176.3" x2="414.37" y2="173.8" stroke="#1e1e1e" stroke-width="1.2"/>
<line x1="434.67" y1="176.3" x2="434.67" y2="171.7" stroke="#1e1e1e" stroke-width="1.2"/>
<line x1="454.98" y1="176.3" x2="454.98" y2="173.8" stroke="#1e1e1e" stroke-width="1.2"/>
<line x1="475.28" y1="176.3" x2="475.28" y2="171.7" stroke="#1e1e1e" stroke-width="1.2"/>
<line x1="495.58" y1="176.3" x2="495.58" y2="173.8" stroke="#1e1e1e" stroke-width="1.2"/>
<line x1="515.89" y1="176.3" x2="515.89" y2="171.7" stroke="#1e1e1e" stroke-width="1.2"/>
<line x1="536.19" y1="176.3" x2="536.19" y2="173.8" stroke="#1e1e1e" stroke-width="1.2"/>
<line x1="556.5" y1="176.3" x2="556.5" y2="171.7" stroke="#1e1e1e" stroke-width="1.2"/>
<line x1="333.14" y1="308.9" x2="333.14" y2="306.4" stroke="#1e1e1e" stroke-width="1.2"/>
<line x1="353.45" y1="308.9" x2="353.45" y2="304.3" stroke="#1e1e1e" stroke-width="1.2"/>
<line x1="373.75" y1="308.9" x2="373.75" y2="306.4" stroke="#1e1e1e" stroke-width="1.2"/>
<line x1="394.06" y1="308.9" x2="394.06" y2="304.3" stroke="#1e1e1e" stroke-width="1.2"/>
<line x1="414.37" y1="308.9" x2="414.37" y2="306.4" stroke="#1e1e1e" stroke-width="1.2"/>
<line x1="434.67" y1="308.9" x2="434.67" y2="304.3" stroke="#1e1e1e" stroke-width="1.2"/>
<line x1="454.98" y1="308.9" x2="454.98" y2="306.4" stroke="#1e1e1e" stroke-width="1.2"/>
<line x1="475.28" y1="308.9" x2="475.28" y2="304.3" stroke="#1e1e1e" stroke-width="1.2"/>
<line x1="495.58" y1="308.9" x2="495.58" y2="306.4" stroke="#1e1e1e" stroke-width="1.2"/>
<line x1="515.89" y1="308.9" x2="515.89" y2="304.3" stroke="#1e1e1e" stroke-width="1.2"/>
<line x1="536.19" y1="308.9" x2="536.19" y2="306.4" stroke="#1e1e1e" stroke-width="1.2"/>
<line x1="556.5" y1="308.9" x2="556.5" y2="304.3" stroke="#1e1e1e" stroke-width="1.2"/>
<line x1="333.14" y1="441.2" x2="333.14" y2="438.7" stroke="#1e1e1e" stroke-width="1.2"/>
<line x1="353.45" y1="441.2" x2="353.45" y2="436.6" stroke="#1e1e1e" stroke-width="1.2"/>
<line x1="373.75" y1="441.2" x2="373.75" y2="438.7" stroke="#1e1e1e" stroke-width="1.2"/>
<line x1="394.06" y1="441.2" x2="394.06" y2="436.6" stroke="#1e1e1e" stroke-width="1.2"/>
<line x1="414.37" y1="441.2" x2="414.37" y2="438.7" stroke="#1e1e1e" stroke-width="1.2"/>
<line x1="434.67" y1="441.2" x2="434.67" y2="436.6" stroke="#1e1e1e" stroke-width="1.2"/>
<line x1="454.98" y1="441.2" x2="454.98" y2="438.7" stroke="#1e1e1e" stroke-width="1.2"/>
<line x1="475.28" y1="441.2" x2="475.28" y2="436.6" stroke="#1e1e1e" stroke-width="1.2"/>
<line x1="495.58" y1="441.2" x2="495.58" y2="438.7" stroke="#1e1e1e" stroke-width="1.2"/>
<line x1="515.89" y1="441.2" x2="515.89" y2="436.6" stroke="#1e1e1e" stroke-width="1.2"/>
<line x1="536.19" y1="441.2" x2="536.19" y2="438.7" stroke="#1e1e1e" stroke-width="1.2"/>
<line x1="556.5" y1="441.2" x2="556.5" y2="436.6" stroke="#1e1e1e" stroke-width="1.2"/>
<text x="54.9" y="461.7" font-size="14.6" text-anchor="middle" font-weight="normal" font-family='"Liberation Sans", sans-serif' >500</text>
<text x="92.06" y="461.7" font-size="14.6" text-anchor="middle" font-weight="normal" font-family='"Liberation Sans", sans-serif' >550</text>
<text x="129.22" y="461.7" font-size="14.6" text-anchor="middle" font-weight="normal" font-family='"Liberation Sans", sans-serif' >600</text>
<text x="166.38" y="461.7" font-size="14.6" text-anchor="middle" font-weight="normal" font-family='"Liberation Sans", sans-serif' >650</text>
<text x="203.54" y="461.7" font-size="14.6" text-anchor="middle" font-weight="normal" font-family='"Liberation Sans", sans-serif' >700</text>
<text x="240.7" y="461.7" font-size="14.6" text-anchor="middle" font-weight="normal" font-family='"Liberation Sans", sans-serif' >750</text>
<text x="277.86" y="461.7" font-size="14.6" text-anchor="middle" font-weight="normal" font-family='"Liberation Sans", sans-serif' >800</text>
<text x="353.45" y="461.7" font-size="14.6" text-anchor="middle" font-weight="normal" font-family='"Liberation Sans", sans-serif' >0</text>
<text x="394.06" y="461.7" font-size="14.6" text-anchor="middle" font-weight="normal" font-family='"Liberation Sans", sans-serif' >20</text>
<text x="434.67" y="461.7" font-size="14.6" text-anchor="middle" font-weight="normal" font-family='"Liberation Sans", sans-serif' >40</text>
<text x="475.28" y="461.7" font-size="14.6" text-anchor="middle" font-weight="normal" font-family='"Liberation Sans", sans-serif' >60</text>
<text x="515.89" y="461.7" font-size="14.6" text-anchor="middle" font-weight="normal" font-family='"Liberation Sans", sans-serif' >80</text>
<text x="556.5" y="461.7" font-size="14.6" text-anchor="middle" font-weight="normal" font-family='"Liberation Sans", sans-serif' >100</text>
<text x="185.4" y="486.4" font-size="19.3" text-anchor="middle" font-weight="normal" font-family='"Liberation Sans", sans-serif' >Wavelength (nm)</text>
<text x="445.4" y="485.6" font-size="19.3" text-anchor="middle" font-weight="normal" font-family='"Liberation Sans", sans-serif' >Water content (%)</text>
<text transform="translate(18.2,229.9) rotate(-90)" x="0" y="0" font-size="19.3" text-anchor="middle" font-family='"Liberation Sans", sans-serif'>Emission intensity / 10<tspan font-size="11.5" dy="-7.5">5</tspan><tspan dy="7.5"> (a.u.)</tspan></text>
<rect x="316.0" y="73" width="28.2" height="313" fill="#fff"/>
<text transform="translate(323.1,230.4) rotate(90)" x="0" y="0" font-size="19.4" font-weight="bold" text-anchor="middle" font-family='"Liberation Sans", sans-serif'>boosted up to 90% water content</text>
<text transform="translate(611.9,0) rotate(90)" x="183.7" y="0" font-size="19" font-family='"Liberation Serif", serif'>∫</text>
<text transform="translate(609.1,0) rotate(90)" x="194.55" y="0" font-size="17.8" font-family='"Liberation Serif", serif'>I</text>
<text transform="translate(616.9,0) rotate(90)" x="202.7" y="0" font-size="11.5" font-family='"Liberation Sans", sans-serif'>emi</text>
<text transform="translate(609.1,0) rotate(90)" x="228.4" y="0" font-size="17.8" font-family='"Liberation Serif", serif'>d</text>
<text transform="translate(609.1,0) rotate(90)" x="238.95" y="0" font-size="17.8" font-family='"Liberation Serif", serif'>λ</text>
<text transform="translate(609.1,0) rotate(90)" x="253.65" y="0" font-size="17.8" font-family='"Liberation Serif", serif'>/</text>
<text transform="translate(609.1,0) rotate(90)" x="263.9" y="0" font-size="17.8" font-family='"Liberation Serif", serif'>1</text>
<text transform="translate(609.1,0) rotate(90)" x="273.55" y="0" font-size="17.8" font-family='"Liberation Serif", serif'>0</text>
<text transform="translate(617.4,0) rotate(90)" x="283.4" y="0" font-size="12" font-family='"Liberation Serif", serif'>7</text>
<text x="349.4" y="63.9" font-size="15.1" font-family='"Liberation Sans", sans-serif'>tBuCBzSO<tspan font-size="10.5" dy="4.2">2</tspan><tspan dy="-4.2">Ph</tspan></text>
<text x="347.7" y="194.7" font-size="15.1" text-anchor="start" font-weight="normal" font-family='"Liberation Sans", sans-serif' >tBuCBzTCF</text>
<text x="348" y="327.6" font-size="15.1" text-anchor="start" font-weight="normal" font-family='"Liberation Sans", sans-serif' >tBuCBzSPh</text>
<line x1="275.8" y1="75.3" x2="275.8" y2="151.4" stroke="#000" stroke-width="2.0"/>
<path d="M275.8,65.3 L279.4,78.6 L272.2,78.6 Z" fill="#000"/>
<line x1="275.8" y1="212.4" x2="275.8" y2="288.6" stroke="#000" stroke-width="2.0"/>
<path d="M275.8,202.4 L279.4,215.7 L272.2,215.7 Z" fill="#000"/>
<line x1="275.8" y1="345.3" x2="275.8" y2="421.4" stroke="#000" stroke-width="2.0"/>
<path d="M275.8,335.3 L279.4,348.6 L272.2,348.6 Z" fill="#000"/>
<path d="M358.03,145.44L369.77,154.46M379.45,157.91L388.96,158.19M399.75,158.62L409.27,159.08M419.96,158.28L429.68,156.32M440.34,155.83L449.91,156.87M460.67,157.21L470.19,156.79M480.27,153.87L491.2,147.63M497.3,139.74L514.77,75.66M520.71,67.49L531.98,60.11M537.69,62.42L553.57,132.18" fill="none" stroke="#000" stroke-width="1.6" stroke-linecap="butt"/>
<circle cx="353.75" cy="142.15" r="4.2" fill="url(#ball)"/>
<circle cx="374.06" cy="157.75" r="4.2" fill="url(#ball)"/>
<circle cx="394.36" cy="158.35" r="4.2" fill="url(#ball)"/>
<circle cx="414.67" cy="159.35" r="4.2" fill="url(#ball)"/>
<circle cx="434.97" cy="155.25" r="4.2" fill="url(#ball)"/>
<circle cx="455.28" cy="157.45" r="4.2" fill="url(#ball)"/>
<circle cx="475.58" cy="156.55" r="4.2" fill="url(#ball)"/>
<circle cx="495.88" cy="144.95" r="4.2" fill="url(#ball)"/>
<circle cx="516.19" cy="70.45" r="4.2" fill="url(#ball)"/>
<circle cx="536.49" cy="57.15" r="4.2" fill="url(#ball)"/>
<circle cx="554.77" cy="137.45" r="4.2" fill="url(#ball)"/>
<path d="M358.12,279.32L369.68,287.68M379.42,290.22L389,289.08M399.68,289.37L409.34,291.03M420.06,292.03L429.57,292.17M440.36,292.01L449.88,291.59M460.62,290.56L470.24,289.14M480.28,285.69L491.19,279.51M498.8,272.3L513.28,249.7M518.02,240.07L534.67,193.73M537.56,193.94L553.71,274.26" fill="none" stroke="#000" stroke-width="1.6" stroke-linecap="butt"/>
<circle cx="353.75" cy="276.15" r="4.2" fill="url(#ball)"/>
<circle cx="374.06" cy="290.85" r="4.2" fill="url(#ball)"/>
<circle cx="394.36" cy="288.45" r="4.2" fill="url(#ball)"/>
<circle cx="414.67" cy="291.95" r="4.2" fill="url(#ball)"/>
<circle cx="434.97" cy="292.25" r="4.2" fill="url(#ball)"/>
<circle cx="455.28" cy="291.35" r="4.2" fill="url(#ball)"/>
<circle cx="475.58" cy="288.35" r="4.2" fill="url(#ball)"/>
<circle cx="495.88" cy="276.85" r="4.2" fill="url(#ball)"/>
<circle cx="516.19" cy="245.15" r="4.2" fill="url(#ball)"/>
<circle cx="536.49" cy="188.65" r="4.2" fill="url(#ball)"/>
<circle cx="554.77" cy="279.55" r="4.2" fill="url(#ball)"/>
<path d="M357.69,407.64L370.11,419.26M379.4,423.71L389.01,425.09M399.58,424.49L409.44,421.91M419.94,421.69L429.69,423.81M440.37,425L449.88,425.1M460.61,424.34L470.24,422.86M478.35,417.42L493.11,392.78M498.93,383.69L513.15,362.81M519.13,353.82L533.56,331.58M537.61,332.33L553.65,408.37" fill="none" stroke="#000" stroke-width="1.6" stroke-linecap="butt"/>
<circle cx="353.75" cy="403.95" r="4.2" fill="url(#ball)"/>
<circle cx="374.06" cy="422.95" r="4.2" fill="url(#ball)"/>
<circle cx="394.36" cy="425.85" r="4.2" fill="url(#ball)"/>
<circle cx="414.67" cy="420.55" r="4.2" fill="url(#ball)"/>
<circle cx="434.97" cy="424.95" r="4.2" fill="url(#ball)"/>
<circle cx="455.28" cy="425.15" r="4.2" fill="url(#ball)"/>
<circle cx="475.58" cy="422.05" r="4.2" fill="url(#ball)"/>
<circle cx="495.88" cy="388.15" r="4.2" fill="url(#ball)"/>
<circle cx="516.19" cy="358.35" r="4.2" fill="url(#ball)"/>
<circle cx="536.49" cy="327.05" r="4.2" fill="url(#ball)"/>
<circle cx="554.77" cy="413.65" r="4.2" fill="url(#ball)"/>
<text x="52.1" y="21.9" font-size="13.6" text-anchor="start" font-weight="normal" font-family='"Liberation Sans", sans-serif' >f<tspan font-size="9.5" dy="3.6">w</tspan><tspan dy="-3.6"> / %</tspan></text>
<line x1="91.8" y1="5.2" x2="120" y2="5.2" stroke="#bcbd22" stroke-width="1.8"/>
<text x="123" y="9.5" font-size="11.8" text-anchor="start" font-weight="normal" font-family='"Liberation Sans", sans-serif' >0</text>
<line x1="91.8" y1="20.1" x2="120" y2="20.1" stroke="#7f7f7f" stroke-width="1.8"/>
<text x="123" y="24.4" font-size="11.8" text-anchor="start" font-weight="normal" font-family='"Liberation Sans", sans-serif' >10</text>
<line x1="91.8" y1="35.1" x2="120" y2="35.1" stroke="#17becf" stroke-width="1.8"/>
<text x="123" y="39.4" font-size="11.8" text-anchor="start" font-weight="normal" font-family='"Liberation Sans", sans-serif' >20</text>
<line x1="141.8" y1="5.2" x2="170" y2="5.2" stroke="#fdd23b" stroke-width="1.8"/>
<text x="173.5" y="9.5" font-size="11.8" text-anchor="start" font-weight="normal" font-family='"Liberation Sans", sans-serif' >30</text>
<line x1="141.8" y1="20.1" x2="170" y2="20.1" stroke="#e377c2" stroke-width="1.8"/>
<text x="173.5" y="24.4" font-size="11.8" text-anchor="start" font-weight="normal" font-family='"Liberation Sans", sans-serif' >40</text>
<line x1="141.8" y1="35.1" x2="170" y2="35.1" stroke="#8c564b" stroke-width="1.8"/>
<text x="173.5" y="39.4" font-size="11.8" text-anchor="start" font-weight="normal" font-family='"Liberation Sans", sans-serif' >50</text>
<line x1="192.7" y1="5.2" x2="220.6" y2="5.2" stroke="#9467bd" stroke-width="1.8"/>
<text x="223.1" y="9.5" font-size="11.8" text-anchor="start" font-weight="normal" font-family='"Liberation Sans", sans-serif' >60</text>
<line x1="192.7" y1="20.1" x2="220.6" y2="20.1" stroke="#d62728" stroke-width="1.8"/>
<text x="223.1" y="24.4" font-size="11.8" text-anchor="start" font-weight="normal" font-family='"Liberation Sans", sans-serif' >70</text>
<line x1="192.7" y1="35.1" x2="220.6" y2="35.1" stroke="#2ca02c" stroke-width="1.8"/>
<text x="223.1" y="39.4" font-size="11.8" text-anchor="start" font-weight="normal" font-family='"Liberation Sans", sans-serif' >80</text>
<line x1="246.3" y1="5.2" x2="273.8" y2="5.2" stroke="#ff7f0e" stroke-width="1.8"/>
<text x="276.5" y="9.5" font-size="11.8" text-anchor="start" font-weight="normal" font-family='"Liberation Sans", sans-serif' >90</text>
<line x1="246.3" y1="20.1" x2="273.8" y2="20.1" stroke="#1f77b4" stroke-width="1.8"/>
<text x="276.5" y="24.4" font-size="11.8" text-anchor="start" font-weight="normal" font-family='"Liberation Sans", sans-serif' >99</text>
</svg>
</body></html>
